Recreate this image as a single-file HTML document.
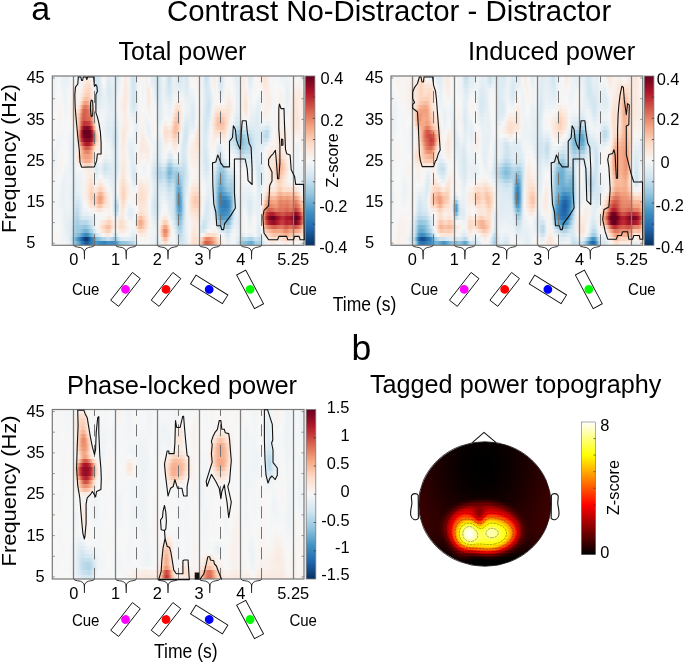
<!DOCTYPE html><html><head><meta charset="utf-8"><style>html,body{margin:0;padding:0;background:#fff;}#root{position:relative;width:685px;height:663px;overflow:hidden;background:#fff;font-family:"Liberation Sans",sans-serif;}svg text{font-family:"Liberation Sans",sans-serif;}</style></head><body><div id="root"><div style="position:absolute;left:52.3px;top:76.0px;width:251.70px;height:169.30px;overflow:hidden"><div style="height:4.129px;background:linear-gradient(90deg,#eaf1f5,#ebf1f5,#f0f4f6,#f4f6f7,#f0f4f6,#eaf1f5,#e9f0f4,#e8f0f4,#ebf1f5,#f4f5f6,#f7f5f3,#f5f6f7,#e8f0f4,#e1ecf3,#e6eff4,#f6f6f7,#f8f1ec,#f9ede5,#f9efe9,#f2f5f6,#dfecf3,#d3e6f0,#d5e7f1,#e5eef4,#f7f5f3,#f8f5f3,#e6eff4,#dfebf3,#e6eff4,#e5eff4,#dae9f2,#deebf2,#ebf1f5,#f5f6f7,#f9efe9,#f9ece4,#f8f4f2,#e4eef3,#d0e5f0,#d1e5f0,#e5eef4,#f8f4f2,#f8f2ee,#f1f4f6,#f3f5f6,#f9efea,#f6f7f7,#e4eef3,#e2edf3,#d9e9f1,#d2e6f0,#d8e9f1,#e8f0f4,#f0f4f6,#e3eef3,#cae2ee,#cee3ef,#e5eff4,#e9f0f4,#dfecf3,#d7e8f1,#dae9f2,#e3eef3,#dbeaf2,#d9e9f2,#f0f4f6,#f8f3f0,#f8f3f1,#f8f1ec,#f8f2ee,#f5f6f7,#edf2f5,#dbeaf2,#cbe2ee,#ddeaf2,#f0f4f6,#f8f1ec,#f9ebe3,#f5f6f7,#d9e9f1,#d2e5f0,#e3eef3,#f4f5f6,#f7f7f7,#f5f6f7,#f2f4f6,#edf2f5,#e1edf3,#e3eef3,#f4f6f7,#f9ece4,#f9ece4,#f1f4f6,#dfebf3,#deebf2,#ecf2f5,#f7f7f7,#f8f4f2,#f8f2ef,#f9eee7,#fbe5d8,#fbe3d5,#f9ece4,#f7f6f6,#f4f5f6,#f7f6f4,#f7f6f6,#f3f5f6,#f0f4f6,#edf2f5,#edf2f5,#ecf2f5,#eff3f6,#f7f5f4,#f7f5f3,#f4f5f6,#f8f4f1,#f8f3f0,#ebf2f5,#dae9f2)"></div><div style="height:4.129px;background:linear-gradient(90deg,#eaf1f5,#ebf1f5,#f1f4f6,#f5f6f7,#f1f4f6,#ebf1f5,#eaf1f5,#e9f1f4,#edf2f5,#f5f6f7,#f8f3f0,#f7f5f3,#f1f4f6,#ebf2f5,#f2f4f6,#f9efea,#fae8dd,#fbe4d6,#fbe6db,#f8f4f2,#e4eef4,#d5e7f1,#d4e7f1,#e3edf3,#f6f7f7,#f7f7f7,#e4eef4,#ddebf2,#e4eef4,#e5eef4,#dceaf2,#e1ecf3,#ecf2f5,#f6f6f7,#f9efe9,#f9ebe3,#f8f3f0,#e5eff4,#d2e6f0,#d2e6f0,#e5eff4,#f8f4f2,#f8f3f0,#f1f4f6,#f4f5f6,#f9efea,#f5f6f7,#e3edf3,#e2edf3,#d8e8f1,#d1e5f0,#d8e8f1,#e8f0f4,#eef3f5,#e1edf3,#cce2ef,#d0e4f0,#e5eef4,#e9f0f4,#e0ecf3,#d9e9f1,#dceaf2,#e4eef3,#dceaf2,#dae9f2,#eef3f5,#f8f4f3,#f7f5f4,#f8f2ee,#f8f2ee,#f5f6f7,#edf2f5,#dceaf2,#cfe4ef,#dceaf2,#eef3f5,#f8f2ee,#f9ece4,#f6f6f7,#dae9f2,#d4e6f0,#e4eef4,#f5f6f7,#f7f6f6,#f5f6f7,#f3f5f6,#eff3f5,#e3edf3,#e4eef3,#f3f5f6,#f9eee7,#f9ece5,#f4f5f6,#e2edf3,#e1edf3,#eef3f5,#f7f6f6,#f8f4f2,#f8f3ef,#f9efe9,#fae7db,#fbe5d7,#f9ebe3,#f7f5f4,#f4f6f6,#f7f6f6,#f7f6f6,#f4f6f6,#f2f5f6,#eff3f6,#eef3f5,#ebf1f5,#eef3f5,#f7f5f3,#f8f3f0,#f7f7f7,#f8f2ee,#f8f1ec,#f0f4f6,#e1edf3)"></div><div style="height:4.129px;background:linear-gradient(90deg,#ebf1f5,#ecf2f5,#f2f5f6,#f6f6f7,#f2f5f6,#edf2f5,#ebf1f5,#ecf2f5,#eff3f6,#f7f6f6,#f9f0eb,#f8f1ed,#f7f5f4,#f4f6f6,#f7f5f3,#fae9df,#fce1d1,#fddcc9,#fcdfce,#f9eee8,#eaf1f5,#d8e8f1,#d4e6f1,#dfecf3,#f1f4f6,#f3f5f6,#e2edf3,#dae9f2,#e1edf3,#e4eef3,#deebf2,#e4eef4,#eef3f5,#f7f7f7,#f9eee8,#faeae1,#f8f1ed,#e7eff4,#d4e6f1,#d4e6f0,#e6eff4,#f7f5f3,#f7f5f3,#f0f4f6,#f5f6f7,#f9ede7,#f8f2ee,#edf2f5,#e6eff4,#d9e9f1,#cfe4ef,#d7e8f1,#e8f0f4,#ecf2f5,#e0ecf3,#cfe4f0,#d3e6f0,#e5eef4,#e9f0f4,#e2edf3,#ddebf2,#e0ecf3,#e5eef4,#deebf2,#dceaf2,#ecf2f5,#f6f7f7,#f5f6f7,#f8f4f2,#f8f2ee,#f6f6f7,#edf2f5,#dfebf3,#d3e6f0,#dceaf2,#ebf1f5,#f8f4f2,#f9eee7,#f6f7f7,#ddebf2,#d7e8f1,#e7eff4,#f6f7f7,#f8f5f3,#f7f7f7,#f5f6f7,#f1f4f6,#e5eff4,#e4eef4,#f1f4f6,#f9f0eb,#f9ece4,#f7f6f5,#e7eff4,#e6eff4,#f1f4f6,#f7f6f5,#f8f4f2,#f8f4f2,#f8f1ed,#faeae0,#fae7db,#faebe3,#f8f3ef,#f5f6f7,#f7f7f7,#f7f7f6,#f6f7f7,#f6f7f7,#f3f5f6,#eff3f6,#eaf1f5,#ecf2f5,#f7f5f4,#f8f1ec,#f8f3f1,#f9efe9,#f9eee8,#f7f6f6,#eef3f5)"></div><div style="height:4.129px;background:linear-gradient(90deg,#ebf1f5,#edf2f5,#f3f5f6,#f6f7f7,#f4f6f6,#f0f4f6,#edf2f5,#eef3f5,#f2f5f6,#f8f4f3,#f9eee7,#f9efe9,#f8f1ec,#f7f5f3,#f8f0ec,#fbe4d6,#fddcc8,#fcd4be,#fddbc7,#faeae0,#eff3f6,#dbeaf2,#d4e7f1,#ddeaf2,#ebf1f5,#eef3f5,#e0ecf3,#d9e9f1,#dfecf3,#e3edf3,#e1edf3,#e9f0f4,#f1f4f6,#f7f5f4,#f9ede6,#fae9de,#f8f0eb,#e8f0f4,#d5e7f1,#d4e6f1,#e5eff4,#f7f6f6,#f7f6f6,#eff3f6,#f5f6f7,#f9ece4,#f9ebe3,#f6f7f7,#ebf1f5,#dceaf2,#cfe4f0,#d6e8f1,#e8f0f4,#ebf1f5,#e0ecf3,#d4e6f1,#d6e7f1,#e5eef4,#eaf1f5,#e7eff4,#e5eef4,#e6eff4,#e7f0f4,#e0ecf3,#deebf2,#eaf1f5,#f2f4f6,#f0f4f6,#f7f6f5,#f8f2ee,#f7f7f7,#eef3f5,#e1edf3,#d6e7f1,#dae9f2,#e5eff4,#f6f7f7,#f8f0eb,#f6f7f7,#e1ecf3,#dbeaf2,#e9f1f4,#f7f6f5,#f8f2ef,#f8f4f2,#f7f7f7,#f4f5f6,#e8f0f4,#e5eff4,#eff3f6,#f8f2ee,#faebe2,#f8f1ee,#ecf2f5,#ebf1f5,#f4f6f6,#f7f5f4,#f7f6f5,#f7f7f7,#f8f4f3,#f9ede6,#faeae1,#faebe3,#f9f0eb,#f7f7f7,#f5f6f7,#f7f7f6,#f7f6f5,#f8f4f3,#f7f7f7,#f0f4f6,#e9f0f4,#eaf1f5,#f7f5f4,#f9ede7,#f9efe9,#f9ede5,#f9ece5,#f8f1ed,#f8f3f1)"></div><div style="height:4.129px;background:linear-gradient(90deg,#ebf1f5,#eef3f5,#f4f5f6,#f7f7f7,#f6f7f7,#f2f5f6,#eef3f5,#f0f4f6,#f5f6f7,#f8f3f0,#f9ece4,#f9eee8,#f9f0ea,#f8f2ef,#f9ebe3,#fdddca,#fbd1bb,#fbccb4,#fcd7c2,#fae8de,#f2f5f6,#ddebf2,#d6e8f1,#dceaf2,#e7f0f4,#eaf1f5,#e0ecf3,#dae9f2,#deebf2,#e2edf3,#e3eef3,#edf2f5,#f6f6f7,#f8f3f0,#f9ece4,#fae8dc,#f8f0ec,#e7eff4,#d5e7f1,#d3e6f0,#e3eef3,#f6f6f7,#f7f7f7,#f0f4f6,#f6f7f7,#faebe3,#fae9df,#f7f5f3,#eef3f5,#e1ecf3,#d3e6f0,#d7e8f1,#e9f0f4,#ebf2f5,#e2edf3,#dae9f2,#dbeaf2,#e6eff4,#edf2f5,#f0f3f6,#f0f4f6,#eff3f6,#ebf1f5,#e4eef3,#e2edf3,#e9f0f4,#ecf2f5,#ecf2f5,#f6f7f7,#f8f2ef,#f7f7f7,#eef3f5,#e3edf3,#d7e8f1,#d6e7f1,#e0ecf3,#f1f4f6,#f8f3f0,#f6f7f7,#e6eff4,#e2edf3,#edf2f5,#f8f5f3,#f9f0eb,#f8f1ed,#f7f5f3,#f5f6f7,#e9f1f4,#e6eff4,#eef3f5,#f8f2ef,#fae8de,#f9ece5,#f1f4f6,#eef3f5,#f6f7f7,#f7f6f5,#f5f6f7,#f2f4f6,#f6f6f7,#f8f0ec,#f9ede5,#f9ece4,#f9eee7,#f7f6f5,#f4f6f7,#f7f7f7,#f8f4f3,#f8f2ee,#f7f5f4,#f0f4f6,#e8f0f4,#eaf1f5,#f8f4f2,#faeae1,#faebe2,#faebe2,#f9ece4,#f9ede5,#faeae1)"></div><div style="height:4.129px;background:linear-gradient(90deg,#ebf1f5,#eff3f5,#f4f6f7,#f7f6f6,#f7f6f5,#f4f6f6,#eff3f5,#f1f4f6,#f7f7f6,#f8f2ee,#faebe2,#f9efe9,#f8f0ec,#f9f0eb,#fbe3d5,#fac9b0,#f8bea2,#f9c0a5,#fcd2bc,#fae8dc,#f3f5f6,#dfecf3,#dae9f2,#dfebf3,#e6eff4,#e9f0f4,#e3edf3,#dceaf2,#deebf2,#e2edf3,#e5eff4,#f0f4f6,#f8f5f3,#f8f0ec,#faeae1,#fae7dc,#f8f2ef,#e5eef4,#d5e7f1,#d3e6f0,#e1edf3,#f4f5f6,#f7f7f7,#f1f4f6,#f6f6f7,#f9ece4,#fae9e0,#f7f5f3,#f1f4f6,#e7eff4,#d8e8f1,#d9e9f1,#e9f0f4,#edf2f5,#e7f0f4,#e1ecf3,#e0ecf3,#e9f0f4,#f4f5f6,#f8f4f2,#f8f3f0,#f7f6f6,#eff3f5,#e7f0f4,#e6eff4,#e8f0f4,#e7f0f4,#e7f0f4,#f4f6f6,#f8f3f0,#f7f7f7,#eef3f5,#e3edf3,#d6e8f1,#d2e6f0,#dbeaf2,#eef3f5,#f7f5f3,#f7f6f6,#edf2f5,#eaf1f5,#f2f4f6,#f8f3f0,#f9ede6,#f9ede7,#f8f3f0,#f6f6f7,#eaf1f5,#e7eff4,#eff3f6,#f8f2ee,#fbe6da,#fae8dd,#f6f6f7,#eff3f5,#f6f7f7,#f7f7f7,#eff3f6,#ebf2f5,#f2f4f6,#f8f2ef,#f9efe9,#f9ede6,#f9ede5,#f7f5f3,#f3f5f6,#f7f7f7,#f8f3f0,#f8f0eb,#f8f4f2,#eff3f6,#e8f0f4,#ecf2f5,#f8f2ef,#fae8dc,#fae7dc,#faeae0,#f9ede6,#faebe2,#fbe4d6)"></div><div style="height:4.129px;background:linear-gradient(90deg,#edf2f5,#f0f4f6,#f5f6f7,#f7f6f5,#f8f4f3,#f6f6f7,#eff3f6,#f1f4f6,#f7f6f5,#f8f1ed,#faeae1,#f9efea,#f9f0eb,#faeae1,#fbd1ba,#f4a885,#f19e7d,#f5a988,#f9c3a8,#fbe3d4,#f7f7f7,#e3edf3,#dfebf3,#e3eef3,#e7f0f4,#eaf1f5,#e6eff4,#e0ecf3,#e0ecf3,#e2edf3,#e6eff4,#f1f4f6,#f8f3f0,#f9efe9,#faeae0,#fae8dd,#f8f4f3,#e3eef3,#d6e7f1,#d4e6f1,#e0ecf3,#f3f5f6,#f7f7f7,#f3f5f6,#f5f6f7,#f9eee7,#faeae1,#f7f5f4,#f2f5f6,#ecf2f5,#ddebf2,#dbeaf2,#e9f0f4,#eff3f6,#edf2f5,#e7f0f4,#e5eff4,#edf2f5,#f8f3f0,#faeae1,#faeae1,#f8f1ec,#f2f5f6,#ebf1f5,#eaf1f5,#e9f0f4,#e3eef3,#e3eef3,#f2f5f6,#f8f3f1,#f7f6f6,#eef3f5,#e2edf3,#d5e7f1,#cde3ef,#d9e9f2,#eef3f5,#f8f4f2,#f8f3f0,#f6f7f7,#f5f6f7,#f7f6f5,#f8f0ec,#faeae1,#faeae1,#f8f1ed,#f6f6f7,#e9f0f4,#e7f0f4,#f1f4f6,#f8f1ec,#fbe4d7,#fbe5d7,#f7f6f5,#eef3f5,#f5f6f7,#f4f5f6,#eaf1f5,#e7eff4,#f0f4f6,#f8f2ee,#f9efe9,#f9eee8,#f9ede6,#f7f5f3,#f2f5f6,#f7f7f7,#f8f2ee,#f9f0ea,#f7f5f3,#eef3f5,#e8f0f4,#eef3f5,#f8f1ec,#fbe6da,#fbe5d9,#fae9df,#f9efe9,#faebe2,#fce1d1)"></div><div style="height:4.129px;background:linear-gradient(90deg,#eff3f6,#f2f4f6,#f6f6f7,#f7f5f3,#f8f3f0,#f7f7f6,#f0f4f6,#f1f4f6,#f7f6f4,#f8f1ec,#fae9de,#f9ede6,#f9ebe3,#fce0cf,#f6b090,#e27b62,#e0775e,#e7886b,#f5aa88,#fcd5c0,#f9f0eb,#e9f0f4,#e4eef3,#e8f0f4,#eaf1f5,#edf2f5,#e9f1f5,#e3eef3,#e2edf3,#e3eef3,#e6eff4,#f0f4f6,#f8f3f0,#f9efe9,#faeae1,#fae9df,#f7f6f6,#e3eef3,#d9e9f2,#d7e8f1,#e1edf3,#f2f5f6,#f7f6f5,#f5f6f7,#f4f6f7,#f8f0ec,#f9ece4,#f7f5f4,#f3f5f6,#f0f4f6,#e2edf3,#ddebf2,#e9f0f4,#f0f4f6,#f0f4f6,#ecf2f5,#e9f1f4,#f3f5f6,#faebe3,#fce1d2,#fbe3d5,#f9ede6,#f4f6f7,#ecf2f5,#ecf2f5,#e8f0f4,#e0ecf3,#e0ecf3,#f1f4f6,#f8f4f1,#f7f6f5,#eef3f5,#e0ecf3,#d3e6f0,#cbe2ee,#dbeaf2,#f2f4f6,#f9f0ea,#f9ece4,#f9eee7,#f9eee7,#f9efe9,#f9ece5,#fae7dc,#fae8de,#f8f0eb,#f5f6f7,#e8f0f4,#e7eff4,#f2f5f6,#f8f1ec,#fbe5d8,#fbe4d6,#f8f5f3,#ecf2f5,#f1f4f6,#eff3f6,#e5eef4,#e5eef4,#f0f4f6,#f8f0ec,#f9eee8,#f9f0eb,#f9efea,#f7f6f5,#f1f4f6,#f6f7f7,#f8f1ec,#f9f0eb,#f7f6f5,#edf2f5,#e9f0f4,#f1f4f6,#f9efea,#fbe6da,#fbe5d8,#fae9de,#f9efea,#f9ece4,#fce1d2)"></div><div style="height:4.129px;background:linear-gradient(90deg,#f2f4f6,#f4f5f6,#f7f7f7,#f8f4f3,#f8f2ef,#f7f6f5,#f1f4f6,#f2f5f6,#f7f6f5,#f8f0ec,#fae7db,#fae8dd,#fbe3d6,#fbceb6,#eb9172,#d6604d,#d7624f,#de725b,#e98c6f,#f8bc9f,#fbe6da,#f0f4f6,#e9f0f4,#ecf2f5,#eef3f5,#eff3f5,#ebf1f5,#e5eef4,#e4eef4,#e3eef3,#e4eef4,#eef3f5,#f8f5f3,#f8f0ec,#f9ece4,#faebe2,#f7f7f6,#e7eff4,#dfecf3,#dceaf2,#e2edf3,#f2f5f6,#f8f5f3,#f7f7f7,#f4f5f6,#f8f4f2,#f9efe9,#f7f5f3,#f5f6f7,#f1f4f6,#e4eef4,#deebf2,#e7f0f4,#f0f4f6,#f2f4f6,#edf2f5,#ecf2f5,#f7f5f4,#fbe4d6,#fcd8c3,#fcdecc,#f9ebe3,#f4f6f7,#ebf2f5,#ebf1f5,#e8f0f4,#deebf2,#ddebf2,#f0f4f6,#f8f3f1,#f7f5f4,#edf2f5,#deebf2,#d2e6f0,#cde3ef,#dfecf3,#f7f6f5,#fae8de,#fbe3d4,#fbe2d4,#fce2d3,#fbe5d9,#fae7db,#fbe5d8,#fae8de,#f8f0ec,#f4f6f6,#e6eff4,#e5eff4,#f2f5f6,#f8f2ef,#fae8dd,#fbe6d9,#f7f5f3,#eaf1f5,#edf2f5,#eaf1f5,#e1edf3,#e5eef4,#f2f5f6,#f9efe9,#f9ede6,#f8f1ee,#f8f2ee,#f7f7f7,#f1f4f6,#f7f7f7,#f8f0eb,#f8f0ec,#f7f6f5,#eef3f5,#ebf2f5,#f4f6f6,#f9eee7,#fbe6da,#fbe5d8,#fae7dc,#f9efe9,#f9ede7,#fbe4d6)"></div><div style="height:4.129px;background:linear-gradient(90deg,#f4f6f6,#f6f6f7,#f7f7f6,#f8f4f3,#f8f2ef,#f7f6f5,#f3f5f6,#f3f5f6,#f7f6f6,#f8f1ed,#fae7db,#fbe4d6,#fddcc9,#f8bca0,#e37e64,#d35b4a,#d86450,#dc6e58,#e27b62,#f5a886,#fdddcb,#f7f7f7,#ecf2f5,#eff3f6,#f0f4f6,#eff3f6,#eaf1f5,#e4eef4,#e5eff4,#e2edf3,#e1edf3,#eaf1f5,#f7f7f7,#f8f2ef,#f9ede6,#f9ece4,#f7f5f4,#ecf2f5,#e6eff4,#e2edf3,#e4eef3,#f2f4f6,#f8f4f1,#f7f5f4,#f3f5f6,#f5f6f7,#f8f3f0,#f7f5f3,#f7f7f7,#f2f5f6,#e5eff4,#dfebf3,#e7eff4,#f1f4f6,#f3f5f6,#edf2f5,#eff3f5,#f8f0eb,#fddcc9,#fbccb4,#fddbc7,#f9ebe3,#f2f5f6,#e8f0f4,#e6eff4,#e6eff4,#ddeaf2,#dbeaf2,#f0f4f6,#f8f2ee,#f7f5f3,#ecf2f5,#dceaf2,#d2e5f0,#d2e6f0,#e5eef4,#f8f0ec,#fce0d0,#fcd7c2,#fcd4be,#fbd1ba,#fddbc7,#fce0d0,#fbe3d5,#faeae1,#f8f3ef,#f1f4f6,#e2edf3,#e2edf3,#eff3f5,#f7f6f5,#f9eee8,#faebe2,#f7f7f7,#e8f0f4,#e9f1f5,#e6eff4,#dfecf3,#e6eff4,#f3f5f6,#f9efe8,#f9eee7,#f8f4f2,#f7f5f3,#f5f6f7,#f1f4f6,#f7f6f5,#f9f0ea,#f8f1ec,#f7f5f4,#f1f4f6,#eff3f6,#f7f7f7,#f9ece4,#fbe6d9,#fbe5d7,#fbe5d9,#f9eee7,#f9efe9,#fae7dc)"></div><div style="height:4.129px;background:linear-gradient(90deg,#f6f6f7,#f7f7f6,#f7f6f6,#f7f5f4,#f8f3f1,#f7f6f5,#f4f6f6,#f4f6f6,#f7f7f7,#f8f3f0,#faeae1,#fbe4d6,#fdd9c4,#f6b495,#df745c,#d15648,#d7624f,#d96853,#dc6e58,#ef9a7a,#fcd6c0,#f8f4f1,#edf2f5,#f0f4f6,#f0f4f6,#eef3f5,#e7eff4,#e2edf3,#e5eef4,#e0ecf3,#dceaf2,#e6eff4,#f4f6f7,#f8f3f0,#f9eee7,#f9ece4,#f8f2ef,#f3f5f6,#edf2f5,#e6eff4,#e4eef4,#f0f4f6,#f8f3f0,#f8f4f1,#f2f5f6,#eff3f6,#f6f7f7,#f7f5f4,#f7f5f3,#f4f5f6,#e6eff4,#e0ecf3,#e9f0f4,#f6f6f7,#f7f7f7,#f0f4f6,#f4f6f6,#fae9e0,#fbd0b9,#f9c4a9,#fcd7c2,#f9ece4,#eff3f6,#e3edf3,#e1ecf3,#e4eef4,#deebf2,#dceaf2,#f2f5f6,#f9efea,#f8f4f2,#ebf1f5,#dae9f2,#d3e6f0,#d7e8f1,#eaf1f5,#f9ece5,#fddbc7,#fac9b0,#f9c4aa,#f9c1a6,#facbb3,#fddac6,#fbe3d5,#f9eee7,#f7f7f6,#ebf1f5,#ddebf2,#dceaf2,#e8f0f4,#f0f4f6,#f7f6f6,#f8f3f0,#f2f4f6,#e5eff4,#e6eff4,#e3edf3,#deebf2,#e6eff4,#f2f5f6,#f8f3ef,#f8f3f1,#f3f5f6,#f4f6f7,#f4f5f6,#f2f5f6,#f8f4f2,#f9efe9,#f8f1ec,#f8f2ef,#f7f7f6,#f4f6f6,#f7f6f5,#faebe2,#fbe5d8,#fbe4d7,#fbe4d7,#f9ece5,#f9f0ea,#faebe2)"></div><div style="height:4.129px;background:linear-gradient(90deg,#f7f7f7,#f7f6f5,#f7f6f6,#f7f6f6,#f7f5f3,#f7f7f7,#f5f6f7,#f5f6f7,#f6f7f7,#f7f5f4,#f8f1ec,#fae9e0,#fddcc9,#f6af8e,#d6604d,#c03338,#c03538,#c33a3b,#cb4942,#e58267,#facbb2,#f8f1ec,#eef3f5,#f0f4f6,#eff3f6,#ebf1f5,#e3eef3,#dfecf3,#e4eef3,#dceaf2,#d7e8f1,#e2edf3,#f3f5f6,#f8f2ee,#f9ece5,#f9ece3,#f8f0ec,#f7f6f6,#f2f5f6,#e9f1f5,#e4eef4,#f0f4f6,#f8f3ef,#f8f2ee,#f2f5f6,#ebf1f5,#eff3f6,#f7f6f6,#f8f3f0,#f6f6f7,#e8f0f4,#e3eef3,#f0f4f6,#f9f0eb,#f9eee8,#f8f5f3,#f8f1ed,#fce0d0,#f9c4a9,#f8bea2,#fcd3bd,#f9ede5,#ebf1f5,#ddebf2,#dbeaf2,#e4eef4,#e1ecf3,#dfecf3,#f6f7f7,#f9ece5,#f8f3f1,#e9f0f4,#d8e8f1,#d4e7f1,#ddebf2,#f0f4f6,#faeae1,#fdd8c4,#fac6ac,#f9c0a5,#f8bda1,#f9c4aa,#fcd6c0,#fbe5d8,#f8f2ef,#f0f4f6,#e3eef3,#d6e8f1,#d4e6f0,#ddebf2,#e4eef4,#ebf1f5,#f0f3f6,#e9f0f4,#e1edf3,#e2edf3,#e0ecf3,#deebf2,#e5eef4,#ecf2f5,#f0f4f6,#ecf2f5,#e6eff4,#edf2f5,#f2f5f6,#f3f5f6,#f8f3f0,#f9eee8,#f9f0eb,#f9efe9,#f8f1ed,#f7f5f4,#f7f6f5,#faebe2,#fbe5d7,#fbe5d7,#fbe4d7,#f9ece4,#f8f1ec,#f9eee8)"></div><div style="height:4.129px;background:linear-gradient(90deg,#f7f7f7,#f7f6f5,#f7f7f7,#f6f7f7,#f7f7f7,#f6f6f7,#f5f6f7,#f6f6f7,#f4f6f7,#f5f6f7,#f4f6f6,#f8f1ec,#fcdecd,#f2a17f,#c2373a,#8d0c25,#7f0823,#830923,#9e1228,#cd4f45,#f6af8f,#fae8dd,#f3f5f6,#f1f4f6,#eef3f5,#e9f0f4,#e0ecf3,#ddebf2,#e2edf3,#d9e9f1,#d2e5f0,#deebf2,#f2f5f6,#f9efea,#fae9e0,#faebe3,#f8f0eb,#f7f5f3,#f5f6f7,#ebf2f5,#e5eef4,#f0f4f6,#f8f2ee,#f8f0eb,#f4f6f6,#e9f1f5,#eaf1f5,#f5f6f7,#f8f3ef,#f7f7f6,#ebf1f5,#e8f0f4,#f7f6f6,#fbe6da,#fbe3d4,#faeae1,#fae8dd,#fcd5bf,#f8bb9e,#f8bca0,#fcd4bd,#f9eee8,#e6eff4,#d7e8f1,#d8e8f1,#e6eff4,#e6eff4,#e5eff4,#f8f3f1,#fae9de,#f8f2ef,#e8f0f4,#d8e8f1,#d6e7f1,#e2edf3,#f4f6f6,#faebe2,#fddcc9,#fbceb7,#facab1,#fac7ad,#facab1,#fdd9c5,#fae9df,#f5f6f7,#e7eff4,#d9e9f2,#cae1ee,#bfdceb,#c9e1ee,#d3e6f0,#dbeaf2,#e0ecf3,#deebf2,#dbeaf2,#deebf2,#dfebf3,#ddebf2,#e1edf3,#e3edf3,#dfecf3,#d7e8f1,#d5e7f1,#e5eef4,#f2f4f6,#f5f6f7,#f8f2ee,#f9ede7,#f9eee8,#f9ece4,#f9ece4,#f8f2ef,#f7f7f6,#f9ece5,#fbe6d9,#fae7db,#fae7dc,#f9ede5,#f8f1ed,#f8f2ee)"></div><div style="height:4.129px;background:linear-gradient(90deg,#f7f7f6,#f7f6f5,#f6f7f7,#f4f5f6,#f5f6f7,#f4f6f6,#f5f6f7,#f6f6f7,#f2f5f6,#f0f4f6,#ebf1f5,#f7f5f3,#fdddca,#e98c6e,#b3192c,#69011f,#67001f,#67001f,#6e0220,#b31a2c,#e58267,#fcd8c3,#f8f1ed,#f6f6f7,#f0f4f6,#e9f0f4,#e1ecf3,#deebf2,#e1ecf3,#d5e7f1,#cbe2ee,#dbeaf2,#f2f5f6,#f9ece4,#fbe7db,#f9ece4,#f8f3f0,#f7f7f6,#f5f6f7,#ecf2f5,#e6eff4,#f1f4f6,#f9f0eb,#f9eee8,#f7f6f6,#ecf2f5,#e9f0f4,#f1f4f6,#f8f4f3,#f7f7f7,#ebf1f5,#e9f0f4,#f8f4f2,#fce1d2,#fddcc9,#fbe4d6,#fbe3d4,#fbcfb8,#f8bc9f,#f9c3a8,#fddac6,#f8f2ee,#e1edf3,#d3e6f0,#d7e8f1,#e9f1f5,#eef3f5,#eef3f5,#f9eee8,#fbe5d8,#f8f1ec,#e8f0f4,#d9e9f1,#d9e9f1,#e7eff4,#f7f6f6,#f9ece4,#fce2d3,#fdddcb,#fdddcb,#fddbc8,#fdd9c4,#fce0cf,#f9efe9,#ebf1f5,#dceaf2,#cce3ef,#b7d8e9,#a4cee3,#a6cfe4,#b4d6e8,#c5dfec,#cfe4f0,#d0e5f0,#d2e6f0,#d9e9f2,#ddebf2,#ddebf2,#ddebf2,#dae9f2,#cfe4f0,#bedbeb,#c2ddec,#e0ecf3,#f2f5f6,#f6f7f7,#f8f0ec,#f9ece4,#f9ede5,#faeae1,#fae9de,#f8f0ec,#f6f6f7,#f9efe9,#fae8de,#f9ebe3,#f9ece5,#f9eee8,#f8f2ee,#f8f4f2)"></div><div style="height:4.129px;background:linear-gradient(90deg,#f7f6f6,#f7f6f5,#f5f6f7,#f1f4f6,#f3f5f6,#f3f5f6,#f4f6f7,#f5f6f7,#f0f4f6,#edf2f5,#e5eef4,#f7f7f6,#fddac6,#e58267,#b31a2c,#780522,#6c0220,#69011f,#6e0220,#9f1228,#d86551,#f9c2a7,#fae9df,#f8f3f0,#f3f5f6,#ebf2f5,#e4eef3,#e1ecf3,#e1ecf3,#d3e6f0,#c7e0ed,#d9e9f2,#f2f5f6,#faeae1,#fbe5d8,#f9eee7,#f7f7f7,#f2f5f6,#f3f5f6,#ecf2f5,#e8f0f4,#f4f6f6,#f9eee7,#f9ebe3,#f8f2ee,#f3f5f6,#ebf1f5,#eff3f6,#f6f7f7,#f3f5f6,#e8f0f4,#e5eef4,#f6f7f7,#fbe5d7,#fcdecc,#fbe5d9,#fbe6da,#fcd8c3,#fac8ae,#fbd1ba,#fce2d2,#f7f7f7,#ddebf2,#d2e5f0,#dae9f2,#eff3f5,#f7f7f7,#f7f6f6,#fae9e0,#fbe3d4,#f9efea,#e9f0f4,#d9e9f2,#dbeaf2,#eaf1f5,#f8f4f2,#f9ede7,#fae8dd,#fae8dd,#faebe3,#fae9df,#fbe4d6,#fae7db,#f7f6f5,#e2edf3,#d2e6f0,#bfdceb,#a9d1e5,#90c4dd,#88bfdb,#97c7df,#acd2e5,#b8d8e9,#bcdaea,#c4deec,#d4e6f1,#dbeaf2,#ddebf2,#dceaf2,#d5e7f1,#c7e0ed,#b9d9e9,#c2ddec,#e2edf3,#f5f6f7,#f7f6f6,#f9efea,#faeae1,#faebe3,#faeae1,#fae8dd,#f8f0eb,#f4f6f6,#f8f1ec,#f9ece4,#f8f1ed,#f8f3ef,#f8f0eb,#f8f1ed,#f7f6f4)"></div><div style="height:4.129px;background:linear-gradient(90deg,#f7f7f6,#f7f7f7,#f3f5f6,#f0f4f6,#f2f4f6,#f3f5f6,#f5f6f7,#f5f6f7,#eff3f6,#eaf1f5,#e0ecf3,#f4f6f6,#fcddcb,#eb9072,#c13539,#970f27,#870a24,#830924,#880a24,#b2192b,#dd7059,#f9c3a8,#fbe5d9,#f9efe9,#f7f7f7,#eff3f6,#e9f0f4,#e6eff4,#e2edf3,#d3e6f0,#c7e0ed,#d9e9f2,#f2f5f6,#faebe2,#fbe6da,#f8f0ec,#f0f4f6,#ecf2f5,#eef3f5,#ebf1f5,#ebf1f5,#f7f7f6,#f9ebe3,#fae9df,#f9eee7,#f8f4f1,#f1f4f6,#f0f3f6,#f2f5f6,#eff3f6,#e4eef3,#dfecf3,#eef3f5,#f9ebe3,#fbe5d8,#f9ece4,#f9ede6,#fbe2d3,#fdd9c5,#fcdfce,#faeae1,#eff3f6,#d9e9f2,#d3e6f0,#deebf2,#f4f6f7,#f8f2ee,#f8f0eb,#fbe6da,#fce1d2,#f9eee7,#eaf1f5,#dae9f2,#ddebf2,#edf2f5,#f8f3f0,#f9efe9,#f9eee7,#f8f3f0,#f4f6f6,#f7f5f4,#f9ede6,#f9ede6,#f2f5f6,#ddebf2,#cfe4ef,#bedbeb,#aad1e5,#8cc1dc,#7ab6d6,#88beda,#a0cce2,#abd2e5,#afd4e6,#bad9e9,#cfe4ef,#d9e9f2,#dfebf2,#ddebf2,#d7e8f1,#d1e5f0,#cde3ef,#d5e7f1,#ebf1f5,#f7f5f3,#f7f5f4,#f9eee8,#fae8dd,#faebe2,#f9ece4,#fae9e0,#f8f1ec,#f4f5f6,#f8f2ee,#f9efe9,#f7f7f6,#f5f6f7,#f8f2ee,#f8f0ec,#f7f6f5)"></div><div style="height:4.129px;background:linear-gradient(90deg,#f5f6f7,#f5f6f7,#f1f4f6,#eff3f6,#f2f5f6,#f4f6f7,#f5f6f7,#f5f6f7,#eff3f5,#e9f0f4,#ddebf2,#eff3f5,#fbe7db,#f7b596,#dc6e58,#c03438,#b2182b,#b0172b,#ba2732,#d25849,#f4a683,#fddbc7,#fae8dc,#f9ede5,#f7f5f3,#f2f5f6,#eef3f5,#ecf2f5,#e6eff4,#d6e7f1,#cbe2ee,#dbeaf2,#f2f5f6,#f9ece4,#fae8de,#f8f3f0,#ecf2f5,#e6eff4,#e9f0f4,#eaf1f5,#eef3f5,#f8f4f1,#faeae0,#fae8de,#faebe2,#f9eee8,#f7f6f5,#f2f5f6,#eff3f6,#ecf2f5,#e1edf3,#dceaf2,#eaf1f5,#f8f0ec,#f9ece3,#f8f2ef,#f8f4f3,#faebe2,#fbe2d4,#fae7db,#f8f2ee,#e9f0f4,#d8e8f1,#d6e7f1,#e4eef3,#f7f6f5,#f9eee8,#f9ece4,#fbe5d8,#fbe2d3,#f9ede7,#eaf1f5,#dae9f2,#deebf2,#eef3f5,#f8f3ef,#f8f0ec,#f8f2ef,#f1f4f6,#e5eef4,#ecf2f5,#f8f4f1,#f8f1ec,#f1f4f6,#dfecf3,#d4e7f1,#cae1ee,#b8d9e9,#9bcae1,#83bcd9,#8bc0db,#a0cce2,#aad1e5,#add3e6,#b9d9e9,#cde3ef,#d9e9f1,#e0ecf3,#e0ecf3,#ddebf2,#deebf2,#e1edf3,#e8f0f4,#f7f6f6,#f8f1ed,#f8f4f3,#f9ede6,#fbe6da,#faeae1,#f9eee7,#f9ebe3,#f8f2ee,#f4f6f7,#f8f2ee,#f8f0ec,#f2f5f6,#eef3f5,#f8f3f0,#f9efea,#f7f6f5)"></div><div style="height:4.129px;background:linear-gradient(90deg,#f1f4f6,#f2f5f6,#f0f4f6,#f0f4f6,#f4f6f7,#f6f7f7,#f6f7f7,#f6f7f7,#eff3f6,#e8f0f4,#dbeaf2,#ecf2f5,#f9eee7,#fcd5bf,#f5a987,#e0765e,#d15749,#d25749,#dd6f59,#f19f7d,#fcd5bf,#faeae0,#f9ebe3,#f9ece4,#f8f4f2,#f3f5f6,#f1f4f6,#f0f4f6,#e9f1f5,#dbeaf2,#d2e5f0,#ddebf2,#f3f5f6,#f9eee7,#faebe2,#f8f4f2,#ebf1f5,#e4eef4,#e5eff4,#e9f0f4,#f1f4f6,#f8f1ed,#faeae0,#fae9e0,#faeae1,#faebe2,#f8f1ed,#f5f6f7,#eef3f5,#eaf1f5,#e0ecf3,#dbeaf2,#eaf1f5,#f8f2ef,#f8f0eb,#f5f6f7,#f2f5f6,#f8f2ef,#fae9df,#f9ede5,#f7f7f6,#e5eef4,#d7e8f1,#d9e9f1,#e8f0f4,#f8f3f1,#f9ede5,#faeae1,#fbe6da,#fbe5d8,#f9eee8,#e9f0f4,#d9e9f1,#ddebf2,#ecf2f5,#f8f4f1,#f8f2ef,#f7f6f5,#e8f0f4,#dae9f2,#e3eef3,#f6f6f7,#f8f2ef,#f4f5f6,#e6eff4,#deebf2,#d8e8f1,#cde3ef,#b0d4e7,#97c7df,#98c8e0,#a9d1e5,#b1d5e7,#b3d6e8,#c0dceb,#d2e6f0,#dae9f2,#e1edf3,#e3edf3,#e4eef4,#e9f0f4,#f1f4f6,#f7f6f5,#f9eee8,#f9eee8,#f8f3f1,#f9ece4,#fbe4d6,#fae9de,#f9eee8,#f9ede6,#f8f3f0,#f6f6f7,#f8f1ed,#f8f1ed,#eff3f6,#eaf1f5,#f8f4f2,#f9efea,#f7f7f6)"></div><div style="height:4.129px;background:linear-gradient(90deg,#ecf2f5,#eef3f5,#eff3f6,#f2f5f6,#f7f7f6,#f7f6f5,#f7f7f7,#f6f7f7,#f0f4f6,#e8f0f4,#dbeaf2,#f0f3f6,#faebe2,#fcd6c1,#f7b799,#ee9878,#e58267,#e68469,#ed9576,#f7b697,#fce0d0,#f9efe9,#f9ede6,#f9ece4,#f7f5f4,#f0f4f6,#f1f4f6,#f2f5f6,#ecf2f5,#dfecf3,#d6e8f1,#dfebf2,#f3f5f6,#f9efe9,#f9ece4,#f8f3f0,#eef3f5,#e5eef4,#e2edf3,#e8f0f4,#f4f6f6,#f9f0ea,#faebe2,#f9ede5,#f9ede5,#faeae1,#f9efea,#f7f7f7,#edf2f5,#e8f0f4,#e0ecf3,#ddebf2,#edf2f5,#f8f3f0,#f7f5f3,#ecf2f5,#e8f0f4,#f3f5f6,#f9f0eb,#f8f2ef,#f3f5f6,#e3eef3,#d6e8f1,#dae9f2,#eaf1f5,#f8f2ef,#f9ece5,#faebe2,#fae8de,#fae8dd,#f8f0eb,#e8f0f4,#d8e8f1,#dae9f2,#e9f0f4,#f7f6f5,#f8f5f3,#f4f6f7,#e2edf3,#d2e6f0,#dceaf2,#f0f3f6,#f8f4f3,#f7f7f7,#eff3f6,#eaf1f5,#e5eef4,#dceaf2,#cae1ee,#aed3e6,#abd2e5,#b9d9e9,#c0dceb,#c0ddeb,#cde3ef,#d9e9f1,#ddebf2,#e1ecf3,#e4eef4,#e9f0f4,#f0f3f6,#f7f5f4,#f9eee8,#fae9df,#f9ece4,#f8f2ee,#fae9df,#fcdfcf,#fbe4d7,#faebe2,#f9ece4,#f8f3f1,#f6f7f7,#f8f1ec,#f8f1ed,#eff3f5,#e9f1f4,#f7f5f4,#f8f1ed,#f5f6f7)"></div><div style="height:4.129px;background:linear-gradient(90deg,#e8f0f4,#ecf2f5,#eff3f6,#f5f6f7,#f8f4f3,#f7f5f3,#f7f7f7,#f6f6f7,#f0f4f6,#e8f0f4,#dceaf2,#f4f6f6,#fbe5d8,#fbceb7,#f7b799,#f4a684,#f19e7d,#f2a17f,#f4a683,#f7b99c,#fce1d1,#f8f1ed,#f9efea,#f9eee8,#f5f6f7,#eaf1f5,#edf2f5,#eff3f6,#ebf1f5,#e3edf3,#d9e9f2,#deebf2,#f2f5f6,#f9eee8,#f9ece3,#f8f1ed,#f2f5f6,#e7eff4,#e1ecf3,#e6eff4,#f5f6f7,#f9f0eb,#f9eee7,#f8f1ed,#f8f1ed,#f9ece5,#f9f0ea,#f6f6f7,#eaf1f5,#e5eff4,#deebf2,#dceaf2,#edf2f5,#f7f5f4,#f1f4f6,#dfecf3,#dae9f2,#e7f0f4,#f5f6f7,#f3f5f6,#eef3f5,#e2edf3,#d4e7f1,#d8e8f1,#eaf1f5,#f8f3ef,#f9ede6,#f9ece4,#faebe2,#faebe3,#f8f2ef,#e7eff4,#d7e8f1,#d7e8f1,#e4eef3,#f5f6f7,#f7f7f7,#f0f3f6,#dceaf2,#c9e1ee,#d3e6f0,#e5eff4,#f2f5f6,#f6f6f7,#f5f6f7,#f4f6f6,#f1f4f6,#ebf1f5,#deebf2,#cce2ee,#c7e0ed,#d2e5f0,#d4e6f0,#d1e5f0,#d7e8f1,#e0ecf3,#e0ecf3,#deebf2,#e2edf3,#eaf1f5,#f1f4f6,#f8f4f2,#f9ece3,#fbe7db,#faeae0,#f9ede6,#fbe3d4,#fcd3bd,#fddac6,#fbe3d4,#fae7dc,#f8f1ed,#f7f7f7,#f8f2ee,#f8f2ef,#f0f3f6,#eaf1f5,#f7f7f7,#f8f4f2,#f0f4f6)"></div><div style="height:4.129px;background:linear-gradient(90deg,#e5eff4,#eaf1f5,#f0f4f6,#f7f6f6,#f8f3f0,#f8f5f3,#f6f7f7,#f4f6f6,#eff3f6,#e9f0f4,#dbeaf2,#f3f5f6,#fae8dd,#fddcc8,#fac8af,#f7b596,#f5ac8b,#f5ae8d,#f6b293,#fac9b0,#faebe2,#f1f4f6,#f7f7f7,#f7f5f3,#eaf1f5,#dfecf3,#e3eef3,#e7f0f4,#e6eff4,#e2edf3,#dae9f2,#dbeaf2,#f0f4f6,#f9ede6,#faeae1,#f9f0eb,#f5f6f7,#e9f0f4,#dfecf3,#e4eef3,#f3f5f6,#f8f2ee,#f8f1ed,#f7f6f6,#f7f7f6,#f8f0ec,#f8f2ef,#f1f4f6,#e5eef4,#dfecf3,#d8e8f1,#d6e7f1,#e6eff4,#eff3f6,#e2edf3,#cbe2ee,#c3deec,#d8e8f1,#e5eff4,#e5eef4,#e5eff4,#deebf2,#d0e5f0,#d5e7f1,#e7eff4,#f8f4f2,#f9efe9,#f9eee7,#f9ede6,#f9eee7,#f8f4f2,#e7eff4,#d8e8f1,#d5e7f1,#dfecf3,#f2f5f6,#f4f6f6,#eaf1f5,#d7e8f1,#bedbeb,#c2ddec,#d7e8f1,#e4eef3,#eef3f5,#f4f6f7,#f7f7f7,#f7f6f6,#f6f6f7,#ecf2f5,#dfecf3,#deebf2,#e3eef3,#e2edf3,#dbeaf2,#deebf2,#e7eff4,#e2edf3,#dae9f2,#deebf2,#e8f0f4,#eff3f5,#f7f5f3,#faebe3,#fbe5d9,#fae7db,#fbe6da,#fdd9c4,#f8bfa3,#f9c3a9,#fcd4bf,#fce0cf,#f9ede6,#f7f5f4,#f8f3f1,#f8f4f2,#f0f4f6,#ebf2f5,#f4f5f6,#f5f6f7,#ebf2f5)"></div><div style="height:4.129px;background:linear-gradient(90deg,#e6eff4,#ebf1f5,#f1f4f6,#f7f5f4,#f8f2ef,#f7f5f4,#f4f6f6,#f2f5f6,#eff3f5,#e9f0f4,#dae9f2,#eef3f5,#f8f1ed,#f9ede6,#fae7db,#fdddca,#fcd4bf,#fcd6c0,#fdd8c4,#fbe4d7,#f1f4f6,#e0ecf3,#e9f1f5,#eef3f5,#ddebf2,#d2e5f0,#d7e8f1,#ddebf2,#e0ecf3,#e0ecf3,#d9e9f1,#d9e9f2,#eff3f6,#f9ebe3,#fae8de,#f9f0ea,#f6f6f7,#eaf1f5,#deebf2,#e0ecf3,#eef3f5,#f8f4f3,#f8f4f2,#f2f5f6,#f1f4f6,#f7f5f3,#f7f6f5,#ebf1f5,#ddebf2,#d7e8f1,#cee3ef,#c8e1ed,#d9e9f1,#dfecf3,#cfe4ef,#a9d1e5,#a2cde3,#bedbeb,#d2e5f0,#d1e5f0,#d7e8f1,#d6e8f1,#c8e0ed,#d1e5f0,#e4eef3,#f7f7f7,#f8f1ed,#f9f0eb,#f9efe9,#f9efea,#f7f5f4,#e8f0f4,#dbeaf2,#d4e6f1,#ddebf2,#f0f4f6,#f1f4f6,#e2edf3,#cfe4f0,#b2d5e7,#add3e6,#bedceb,#d3e6f0,#e2edf3,#ecf2f5,#f1f4f6,#f6f7f7,#f7f6f5,#f3f5f6,#ebf1f5,#ecf2f5,#f1f4f6,#edf2f5,#e3eef3,#e4eef3,#edf2f5,#e5eff4,#d7e8f1,#d9e9f1,#e4eef4,#ebf1f5,#f7f7f7,#f9ece5,#fbe5d9,#fbe5d7,#fce0d0,#fbccb4,#f6b394,#f7b697,#fac6ac,#fcd8c3,#fae8de,#f8f4f1,#f7f5f4,#f7f6f6,#f0f4f6,#ecf2f5,#f0f4f6,#f0f4f6,#e8f0f4)"></div><div style="height:4.129px;background:linear-gradient(90deg,#e9f0f4,#ecf2f5,#f2f5f6,#f7f5f3,#f8f3f0,#f7f7f7,#f1f4f6,#f0f4f6,#eef3f5,#eaf1f5,#dbeaf2,#eaf1f5,#f6f6f7,#f5f6f7,#f7f7f7,#f9f0eb,#f9ece4,#f9ece4,#faeae1,#f8f0ec,#e5eff4,#d8e8f1,#e4eef3,#e8f0f4,#d8e8f1,#cce2ef,#d3e6f0,#d9e9f1,#dbeaf2,#ddebf2,#d9e9f2,#dae9f2,#f0f4f6,#faeae0,#fae7dc,#f8f1ec,#f5f6f7,#ebf1f5,#ddebf2,#dbeaf2,#e9f0f4,#f7f7f7,#f7f6f5,#f0f4f6,#edf2f5,#f6f7f7,#f4f6f7,#e6eff4,#d8e8f1,#cfe4ef,#c0dceb,#b6d7e8,#c6e0ed,#cee3ef,#b3d6e7,#8bc1dc,#85bdda,#a6cfe4,#b4d6e8,#b0d4e7,#c0dceb,#c8e0ed,#bfdceb,#cce3ef,#e0ecf3,#f3f5f6,#f8f4f1,#f8f2ee,#f9f0eb,#f8f1ec,#f7f6f5,#e9f0f4,#deebf2,#d6e7f1,#deebf2,#f1f4f6,#edf2f5,#dbeaf2,#c3deec,#a5cfe3,#9ac9e0,#a6cfe4,#bcdaea,#d5e7f1,#e0ecf3,#e4eef4,#eef3f5,#f5f6f7,#f4f6f7,#f0f3f6,#f4f6f6,#f7f6f5,#f4f6f7,#e9f1f5,#e8f0f4,#f2f5f6,#e9f0f4,#d5e7f1,#d4e7f1,#e0ecf3,#e8f0f4,#f4f6f6,#f9eee8,#fbe7db,#fbe4d7,#fcdecd,#facab1,#f7b496,#f7b799,#f9c6ac,#fcd5bf,#fbe6da,#f8f3f0,#f6f7f7,#f5f6f7,#eff3f6,#eaf1f5,#edf2f5,#ecf2f5,#e6eff4)"></div><div style="height:4.129px;background:linear-gradient(90deg,#edf2f5,#eef3f5,#f3f5f6,#f7f6f5,#f7f5f4,#f4f5f6,#eff3f5,#eef3f5,#eef3f5,#ebf1f5,#dceaf2,#e7eff4,#f1f4f6,#eff3f5,#f0f3f6,#f8f5f3,#f8f0eb,#f9f0eb,#f9ece3,#f8f0eb,#e7eff4,#dbeaf2,#e7f0f4,#edf2f5,#e0ecf3,#d7e8f1,#dae9f2,#ddebf2,#ddebf2,#deebf2,#dceaf2,#dfebf3,#f3f5f6,#fae8dd,#fbe6db,#f8f2ee,#f5f6f7,#edf2f5,#ddebf2,#d8e8f1,#e4eef4,#f5f6f7,#f7f5f3,#f1f4f6,#eef3f5,#f7f7f7,#f4f6f6,#e4eef4,#d6e7f1,#cbe2ee,#badaea,#add3e6,#b9d9e9,#bfdceb,#a6cfe4,#7eb8d7,#7cb7d6,#9dcae1,#a2cde3,#96c7df,#a6cfe4,#b7d8e9,#b9d9e9,#cbe2ee,#deebf2,#eff3f6,#f7f6f5,#f8f3f0,#f8f1ec,#f8f2ee,#f7f7f7,#ebf1f5,#e3edf3,#dbeaf2,#e1edf3,#f1f4f6,#e9f1f4,#d3e6f0,#b6d7e8,#98c8e0,#89bfdb,#95c7df,#acd2e6,#c7e0ed,#d3e6f0,#d6e7f1,#e1edf3,#eff3f6,#f3f5f6,#f1f4f6,#f7f7f7,#f8f4f1,#f7f6f5,#eff3f6,#edf2f5,#f7f7f7,#eef3f5,#d7e8f1,#d2e5f0,#ddebf2,#e6eff4,#f2f5f6,#f9f0eb,#fae9df,#fae7dc,#fce0d0,#fbcfb7,#f8bc9f,#f8c0a4,#fbcfb7,#fddcc8,#fae8dd,#f8f4f1,#f3f5f6,#f3f5f6,#eef3f5,#e8f0f4,#eaf1f5,#e8f0f4,#e6eff4)"></div><div style="height:4.129px;background:linear-gradient(90deg,#f0f4f6,#f0f4f6,#f3f5f6,#f7f7f7,#f6f7f7,#f0f4f6,#ecf2f5,#edf2f5,#eef3f5,#ecf2f5,#dceaf2,#e4eef3,#edf2f5,#ecf2f5,#ecf2f5,#f7f6f5,#f8f0eb,#f9efe9,#fae8de,#f9ece3,#eef3f5,#e5eef4,#f1f4f6,#f7f7f6,#eef3f5,#e6eff4,#e6eff4,#e4eef4,#e0ecf3,#dfecf3,#e0ecf3,#e6eff4,#f7f6f4,#fbe5d8,#fbe5d7,#f8f1ec,#f7f7f7,#f1f4f6,#e0ecf3,#d7e8f1,#e2edf3,#f7f7f6,#f8f1ed,#f7f7f7,#f4f6f6,#f8f4f2,#f7f7f7,#e7eff4,#d9e9f2,#d1e5f0,#c1ddeb,#b2d5e7,#bcdaea,#c2deec,#acd2e5,#8bc0dc,#8bc1dc,#a5cfe4,#a1cde2,#87beda,#93c5de,#a9d1e5,#b8d8e9,#cde3ef,#deebf2,#eff3f5,#f7f6f5,#f8f3f0,#f8f1ec,#f8f2ef,#f7f7f7,#edf2f5,#e8f0f4,#e1ecf3,#e5eff4,#f1f4f6,#e6eff4,#cbe2ee,#aad1e5,#8ac0db,#7bb7d6,#8cc1dc,#a4cee3,#bbdaea,#c2deec,#c2ddec,#d6e7f1,#eaf1f5,#f3f5f6,#f1f4f6,#f6f7f7,#f8f4f2,#f7f5f4,#f3f5f6,#f1f4f6,#f8f5f3,#f3f5f6,#dae9f2,#d2e5f0,#ddebf2,#e7eff4,#f2f5f6,#f8f1ec,#f9ece3,#f9ece3,#fbe5d8,#fcd8c3,#f9c4aa,#fac9b0,#fddbc7,#fbe2d3,#f9ece4,#f7f5f4,#f1f4f6,#f3f5f6,#eff3f6,#e8f0f4,#e8f0f4,#e7eff4,#e6eff4)"></div><div style="height:4.129px;background:linear-gradient(90deg,#f2f5f6,#f2f5f6,#f3f5f6,#f6f6f7,#f2f5f6,#edf2f5,#ebf1f5,#ecf2f5,#eef3f5,#ecf2f5,#dceaf2,#e1edf3,#ebf1f5,#ebf1f5,#ecf2f5,#f7f5f4,#f9efe9,#f9ede5,#fbe4d6,#fbe4d7,#f8f4f3,#f2f5f6,#f8f2ee,#f9ede6,#f8f4f2,#f2f5f6,#eff3f5,#eaf1f5,#e4eef3,#e1ecf3,#e4eef3,#edf2f5,#f8f1ed,#fce2d3,#fce1d1,#f9ede6,#f8f4f2,#f6f6f7,#e5eef4,#dae9f2,#e6eff4,#f8f2ef,#f9ece3,#f8f1ed,#f8f3f0,#f9f0ea,#f8f3f1,#ecf2f5,#dfecf3,#d7e8f1,#cee3ef,#c2ddec,#cae1ee,#d0e5f0,#bddbea,#a2cde3,#a3cee3,#b8d8e9,#aad1e5,#81bad8,#80bad8,#9fcce2,#b9d9e9,#d0e5f0,#dfecf3,#f1f4f6,#f8f3f0,#f9f0eb,#f9eee8,#f8f1ec,#f7f6f6,#f0f4f6,#edf2f5,#e6eff4,#e8f0f4,#f0f4f6,#e3edf3,#c5dfed,#a0cce2,#7ab6d6,#71b0d3,#87beda,#9fcce2,#b2d5e7,#b5d7e8,#b2d5e7,#cce2ee,#e8f0f4,#f3f5f6,#f1f4f6,#f3f5f6,#f6f7f7,#f7f7f7,#f3f5f6,#f2f5f6,#f8f4f1,#f6f6f7,#deebf2,#d4e7f1,#dfecf3,#e9f0f4,#f4f6f6,#f9efea,#f9ede5,#f9f0eb,#faebe3,#fce0cf,#fbcfb7,#fcd3bd,#fce2d2,#fae9de,#f9efe9,#f7f5f4,#f3f5f6,#f7f7f6,#f4f6f7,#ebf2f5,#eaf1f5,#e6eff4,#e5eff4)"></div><div style="height:4.129px;background:linear-gradient(90deg,#f2f5f6,#f2f5f6,#f4f5f6,#f4f6f6,#f0f3f6,#eaf1f5,#eaf1f5,#ecf2f5,#edf2f5,#ebf1f5,#dae9f2,#e0ecf3,#eaf1f5,#eaf1f5,#ecf2f5,#f8f3f1,#f9eee7,#faeae1,#fcdfcd,#fcddcb,#f9ece4,#f8f0eb,#fbe7db,#fbe2d4,#fae9e0,#f8f2ef,#f6f7f7,#f0f4f6,#e7f0f4,#e2edf3,#e6eff4,#f3f5f6,#f9ede6,#fcdfce,#fddcc9,#fae8de,#f8f0ec,#f8f4f2,#edf2f5,#e2edf3,#edf2f5,#f9ece4,#fbe5d9,#faeae1,#f9ece5,#f9ece4,#f8f1ed,#f0f4f6,#e2edf3,#dbeaf2,#d6e7f1,#d2e5f0,#d6e7f1,#d9e9f1,#cee4ef,#b7d8e9,#b9d9e9,#c9e1ee,#b3d6e8,#7db8d7,#6daed1,#94c6df,#badaea,#d3e6f0,#e1edf3,#f6f7f7,#f9eee7,#faeae1,#fae9e0,#f9ede5,#f8f3f0,#f4f6f6,#f1f4f6,#eaf1f5,#e9f0f4,#eef3f5,#e1ecf3,#c2ddec,#97c8df,#6bacd1,#67aacf,#80bad8,#97c7df,#a7d0e4,#aad1e5,#a7d0e4,#c6dfed,#e7eff4,#f3f5f6,#eff3f6,#eef3f5,#f0f4f6,#f2f4f6,#f1f4f6,#f1f4f6,#f7f5f4,#f7f7f7,#e2edf3,#d9e9f1,#e3edf3,#edf2f5,#f7f5f4,#faeae1,#faeae1,#f8f0eb,#f9eee7,#fbe4d6,#fcd6c0,#fcd8c3,#fbe3d5,#fae9df,#faeae1,#f9eee7,#f8f2ee,#f9eee8,#f9f0eb,#f6f7f7,#f1f4f6,#e9f0f4,#e6eff4)"></div><div style="height:4.129px;background:linear-gradient(90deg,#f1f4f6,#f2f5f6,#f4f5f6,#f3f5f6,#eef3f5,#e9f0f4,#ebf1f5,#edf2f5,#ecf2f5,#eaf1f5,#d8e8f1,#dfebf3,#e8f0f4,#e9f0f4,#edf2f5,#f8f2ee,#f9ede5,#fae8de,#fddac5,#fcd5c0,#fbe5d8,#fbe6db,#fdd9c4,#fbceb7,#fdddca,#fae8de,#f8f1ec,#f6f7f7,#ecf2f5,#e3eef3,#e6eff4,#f4f6f7,#faebe2,#fddcc9,#fcd5c0,#fbe4d7,#f9eee8,#f8f1ed,#f5f6f7,#eef3f5,#f7f7f6,#fbe6da,#fce0cf,#fbe4d7,#fae7dc,#faeae1,#f8f1ed,#f1f4f6,#e3edf3,#dbeaf2,#dae9f2,#dae9f2,#ddebf2,#dfecf3,#d7e8f1,#c7e0ed,#c7e0ed,#d2e6f0,#b9d9e9,#76b3d4,#59a1ca,#86bdda,#badaea,#d5e7f1,#e5eef4,#f8f3ef,#fae7dc,#fbe3d4,#fce2d3,#fbe5d9,#f9eee7,#f7f6f5,#f4f5f6,#ebf1f5,#e7eff4,#ebf1f5,#e0ecf3,#c1ddeb,#90c4dd,#5ca3cb,#59a1ca,#70afd2,#82bbd9,#95c7df,#9ccae1,#9fcce2,#c6dfed,#e8f0f4,#f1f4f6,#ecf2f5,#e9f1f5,#eaf1f5,#ebf1f5,#ebf1f5,#ecf2f5,#f5f6f7,#f5f6f7,#e6eff4,#ddebf2,#e8f0f4,#f4f5f6,#f9eee8,#fce1d1,#fce1d2,#fae8de,#fae8dd,#fce0d0,#fbcfb7,#fbccb4,#fddbc8,#fcdfcd,#fdddca,#fcdecc,#fbe3d5,#fce0cf,#fce0d0,#fae9e0,#f8f1ec,#f1f4f6,#eaf1f5)"></div><div style="height:4.129px;background:linear-gradient(90deg,#f0f4f6,#f2f4f6,#f4f5f6,#f3f5f6,#edf2f5,#e9f0f4,#ebf1f5,#edf2f5,#ebf2f5,#e9f0f4,#d7e8f1,#ddebf2,#e4eef4,#e5eef4,#edf2f5,#f8f1ed,#f9ede6,#fae7dc,#fcd4be,#fbcdb5,#fcdecb,#fddbc7,#f8bca0,#f6b090,#f9c4a9,#fcdecb,#fae9df,#f8f2ee,#f2f5f6,#e4eef4,#e1edf3,#f0f4f6,#faebe2,#fddac6,#fbd1bb,#fbe3d4,#f9efe9,#f8f1ec,#f8f3f0,#f7f5f4,#f9f0eb,#fbe2d4,#fdddca,#fce0d0,#fbe4d7,#faeae0,#f8f3f0,#eff3f6,#e0ecf3,#d7e8f1,#dae9f2,#dfebf3,#e3eef3,#e4eef4,#deebf2,#d3e6f0,#d1e5f0,#d6e7f1,#bddbea,#6fafd2,#4795c4,#77b4d5,#b9d9e9,#d8e8f1,#eaf1f5,#f9ede6,#fce0d0,#fddac6,#fcd8c3,#fdddca,#fae8de,#f8f4f2,#f3f5f6,#e8f0f4,#e4eef3,#e9f1f4,#e0ecf3,#c1ddeb,#88bfdb,#4d99c6,#4494c3,#539dc8,#5ea4cc,#72b1d3,#83bcd9,#96c7df,#c7e0ed,#e8f0f4,#eff3f5,#e8f0f4,#e6eff4,#e7eff4,#e6eff4,#e4eef4,#e5eff4,#eff3f5,#f2f5f6,#e7f0f4,#e1edf3,#edf2f5,#f8f3ef,#fbe4d6,#fbceb6,#fbceb6,#fdd9c5,#fdd9c4,#fbceb6,#f7b99b,#f6b292,#f8bea2,#f9c2a7,#f8bb9e,#f8bda0,#fac8af,#f9c3a8,#f9c1a6,#fcd3bd,#fce2d3,#f8f1ed,#f3f5f6)"></div><div style="height:4.129px;background:linear-gradient(90deg,#eff3f5,#f1f4f6,#f3f5f6,#f2f5f6,#edf2f5,#e9f1f4,#ecf2f5,#eef3f5,#ecf2f5,#e9f0f4,#d7e8f1,#dae9f2,#ddebf2,#deebf2,#eaf1f5,#f8f3f0,#f9efe9,#fae8dd,#fcd4be,#facbb2,#fcd5bf,#fac8af,#f4a784,#f09b7a,#f7b496,#fcd4be,#fbe4d6,#f9ede6,#f7f7f7,#e4eef4,#d6e8f1,#e3eef3,#f9eee8,#fddbc7,#fcd3bd,#fbe5d8,#f8f3f0,#f8f3f0,#f8f1ec,#f8f0ec,#f9ede6,#fbe2d3,#fdddca,#fce0cf,#fbe4d6,#faebe2,#f7f5f4,#ebf2f5,#dceaf2,#d3e6f0,#d8e8f1,#e1edf3,#e8f0f4,#eaf1f5,#e4eef4,#d9e9f1,#d5e7f1,#d8e8f1,#bfdceb,#6cadd1,#3f8ec1,#6bacd1,#b6d7e8,#dbeaf2,#eff3f5,#fae9df,#fddbc7,#fbcfb8,#facbb3,#fbd2bb,#fbe4d7,#f8f3f1,#f0f3f6,#e3eef3,#e0ecf3,#e9f0f4,#e1edf3,#c0ddeb,#82bbd9,#4292c2,#3a87bd,#3b88be,#3d8bbf,#4997c5,#62a7ce,#89bfdb,#c8e0ed,#e8f0f4,#ebf1f5,#e4eef4,#e5eef4,#e7eff4,#e4eef3,#dfecf3,#dfecf3,#e9f0f4,#eff3f6,#e8f0f4,#e4eef4,#f3f5f6,#faeae0,#fcd3bd,#f6b394,#f6b293,#f8bb9e,#f8bc9f,#f7b597,#f2a07e,#ec9374,#f2a07e,#f3a380,#ef9a79,#f19e7d,#f5ac8a,#f4a582,#f09c7b,#f6b090,#facab1,#fbe4d6,#f9efea)"></div><div style="height:4.129px;background:linear-gradient(90deg,#eef3f5,#f1f4f6,#f3f5f6,#f1f4f6,#edf2f5,#eaf1f5,#ecf2f5,#eff3f5,#edf2f5,#eaf1f5,#d7e8f1,#d5e7f1,#d4e7f1,#d7e8f1,#e7eff4,#f7f6f5,#f8f3ef,#f9ece4,#fdddca,#fcd5c0,#fdd9c4,#fac7ae,#f5aa88,#f3a381,#f8bda0,#fdd9c5,#fbe4d7,#f9ece4,#f7f5f4,#e2edf3,#c1ddec,#d1e5f0,#f8f3f1,#fcddcb,#fddbc8,#faebe2,#f5f6f7,#f5f6f7,#f8f4f1,#f8f1ed,#f9efe9,#fbe5d8,#fce0cf,#fce2d3,#fbe5d9,#f9ece5,#f6f7f7,#e8f0f4,#d9e9f1,#cfe4ef,#d5e7f1,#e2edf3,#ecf2f5,#eff3f6,#ebf1f5,#dfecf3,#d8e8f1,#d8e8f1,#c0dceb,#6eaed2,#3e8cc0,#63a7ce,#b2d5e7,#dceaf2,#f2f5f6,#fae7dc,#fcd7c2,#fbccb4,#fac8ae,#fbcdb5,#fbe2d4,#f8f4f2,#ebf1f5,#deebf2,#ddeaf2,#e9f1f4,#e3eef3,#c1ddeb,#80bad8,#408fc1,#347fb9,#317bb7,#317bb7,#3985bc,#4997c5,#7fb9d8,#c9e1ee,#e8f0f4,#e8f0f4,#e1edf3,#e6eff4,#e9f1f4,#e4eef3,#dbeaf2,#dbeaf2,#e5eff4,#edf2f5,#e8f0f4,#e6eff4,#f7f6f5,#fce0d0,#f7ba9d,#ef9978,#ef9979,#f3a380,#f4a784,#f4a582,#ea8e70,#e48065,#e8896c,#e88a6d,#e58267,#e8896c,#ee9778,#e98b6e,#e27b62,#eb9072,#f6b090,#fcd4be,#fbe4d7)"></div><div style="height:4.129px;background:linear-gradient(90deg,#edf2f5,#f1f4f6,#f3f5f6,#f1f4f6,#eef3f5,#ebf1f5,#ebf1f5,#eef3f5,#eef3f5,#ebf1f5,#d8e8f1,#cfe4ef,#c8e1ee,#d2e6f0,#e4eef4,#f4f5f6,#f6f7f7,#f8f2ee,#fbe6da,#fbe4d6,#fbe4d6,#fddbc8,#fac6ac,#f9c4a9,#fddac5,#fbe5d8,#faeae1,#f9eee7,#f7f5f3,#e1edf3,#b2d5e7,#bcdaea,#f6f6f7,#fce1d1,#fce2d3,#f8f2ee,#ecf2f5,#ecf2f5,#f3f5f6,#f7f6f6,#f8f4f1,#fae9e0,#fbe3d5,#fbe5d9,#fae8de,#f9eee7,#f5f6f7,#e5eff4,#d7e8f1,#cce3ef,#d3e6f0,#e2edf3,#f0f4f6,#f5f6f7,#f1f4f6,#e4eef3,#dae9f2,#d8e8f1,#c1ddeb,#75b3d4,#4190c1,#62a6ce,#afd4e6,#ddebf2,#f3f5f6,#fae9de,#fddbc7,#fcd2bc,#fbceb7,#fbd1ba,#fbe3d5,#f7f5f4,#e7f0f4,#dae9f2,#dbeaf2,#eaf1f5,#e5eff4,#c3deec,#84bcd9,#4292c2,#3580b9,#317bb7,#317cb7,#3783bb,#4494c3,#83bbd9,#cee3ef,#e8f0f4,#e5eff4,#dfecf3,#e8f0f4,#edf2f5,#e6eff4,#dbeaf2,#dae9f2,#e5eff4,#ecf2f5,#e6eff4,#e6eff4,#f8f2ef,#fcd5bf,#f3a381,#e48166,#e58368,#e98c6f,#ed9576,#ef9a79,#e7866a,#e17960,#e48065,#e27c62,#df755d,#e48065,#e98d6f,#e27b61,#d86450,#e0765e,#ee9878,#f8bfa3,#fddbc7)"></div><div style="height:4.129px;background:linear-gradient(90deg,#edf2f5,#f0f4f6,#f3f5f6,#f2f5f6,#f0f4f6,#ecf2f5,#eaf1f5,#edf2f5,#edf2f5,#ebf1f5,#d8e8f1,#c7e0ed,#bedceb,#cee4ef,#e2edf3,#eef3f5,#eff3f6,#f4f6f6,#f8f2ee,#f8f2ef,#f8f2ee,#faebe2,#fbe4d6,#fbe4d6,#f9ece4,#f8f2ee,#f8f1ee,#f8f1ec,#f7f6f4,#e3eef3,#b8d9e9,#c0ddeb,#f5f6f7,#fbe5d8,#fae9df,#f6f7f7,#e6eff4,#e4eef4,#e9f0f4,#eff3f6,#f7f7f7,#faeae1,#fbe3d5,#fae7db,#faeae0,#f9eee8,#f5f6f7,#e5eff4,#d8e8f1,#cfe4ef,#d4e6f0,#e3eef3,#f3f5f6,#f7f5f4,#f6f7f7,#e8f0f4,#dceaf2,#d7e8f1,#c1ddeb,#7fb9d7,#4c99c6,#68aad0,#afd4e6,#deebf2,#f2f4f6,#f9ece4,#fce0d0,#fdddca,#fddbc7,#fddbc7,#fbe6da,#f6f7f7,#e4eef4,#d9e9f1,#dbeaf2,#ebf1f5,#e7eff4,#c8e1ee,#8bc1dc,#4997c5,#3a87bd,#3884bb,#3986bc,#3d8bbf,#509bc7,#91c4de,#d3e6f0,#e8f0f4,#e3eef3,#deebf2,#eaf1f5,#f2f5f6,#e9f0f4,#dceaf2,#ddebf2,#e9f0f4,#eef3f5,#e5eff4,#e7eff4,#f9efe9,#f9c4aa,#e6866a,#d7634f,#d7634f,#da6853,#df755d,#e48166,#e0765e,#dd705a,#e0775e,#dc6e58,#d86551,#de725b,#e17961,#d55d4c,#c53f3d,#cf5246,#df765e,#f4a784,#facab2)"></div><div style="height:4.129px;background:linear-gradient(90deg,#eef3f5,#f1f4f6,#f3f5f6,#f3f5f6,#f2f5f6,#edf2f5,#eaf1f5,#eaf1f5,#ebf1f5,#e9f0f4,#d6e7f1,#c1ddeb,#b7d8e9,#cbe2ee,#deebf2,#e5eff4,#e5eef4,#e8f0f4,#eef3f5,#ecf2f5,#eff3f5,#f6f7f7,#f8f4f2,#f8f3f0,#f6f7f7,#f4f5f6,#f7f5f3,#f8f1ec,#f8f5f3,#e9f0f4,#d2e5f0,#d7e8f1,#f8f4f3,#fae7dc,#f9eee7,#f2f5f6,#e5eff4,#e2edf3,#e5eef4,#eef3f5,#f8f4f1,#fbe3d4,#fddbc7,#fce1d2,#fbe6da,#f9ece4,#f7f7f6,#e8f0f4,#dceaf2,#d4e6f1,#d7e8f1,#e7eff4,#f7f7f7,#f8f1ed,#f8f3ef,#eef3f5,#dfecf3,#d8e8f1,#c3deec,#8dc2dc,#60a5cd,#75b3d4,#b4d6e8,#dfecf3,#f0f4f6,#f8f0eb,#fbe7db,#fbe4d6,#fbe2d4,#fce1d2,#faeae2,#f0f4f6,#e0ecf3,#d9e9f1,#ddebf2,#ebf1f5,#e8f0f4,#d0e5f0,#94c6df,#509cc8,#3e8cbf,#3e8cbf,#4190c1,#4594c4,#5ea4cc,#9fcbe2,#d8e8f1,#e8f0f4,#e1edf3,#deebf2,#edf2f5,#f7f7f7,#edf2f5,#dfecf3,#e2edf3,#eff3f6,#f1f4f6,#e5eff4,#e9f0f4,#faeae0,#f6b090,#d45d4b,#bd2d35,#b61f2e,#b3192c,#b92632,#c43c3c,#c8433f,#cc4d44,#d25849,#cb4a43,#c43d3c,#c94641,#c6413e,#ae172a,#890b24,#a11328,#c13539,#e0775f,#f7b496)"></div><div style="height:4.129px;background:linear-gradient(90deg,#eff3f5,#f1f4f6,#f4f6f6,#f5f6f7,#f3f5f6,#eef3f5,#e9f0f4,#e8f0f4,#e7eff4,#e5eff4,#d2e5f0,#b9d9e9,#b0d4e6,#c2ddec,#d4e6f0,#d6e8f1,#d5e7f1,#d9e9f1,#dfebf3,#dfecf3,#e6eff4,#f0f4f6,#f4f6f6,#f7f6f5,#f7f5f4,#f8f4f2,#f9ede6,#fae8dd,#f9ede6,#f5f6f7,#e7eff4,#edf2f5,#f9ece5,#fbe5d8,#f9ece5,#f7f7f7,#ecf2f5,#e9f0f4,#eaf1f5,#f6f7f7,#fae8dc,#facab2,#f8bca0,#fbcfb8,#fcdecc,#fae7dc,#f8f3f1,#edf2f5,#e2edf3,#dae9f2,#deebf2,#eef3f5,#f8f0ec,#fae8de,#fae8de,#f7f5f3,#e7eff4,#dceaf2,#c9e1ee,#9ccae1,#77b4d5,#87beda,#bddbea,#e2edf3,#eef3f5,#f8f4f2,#f9ece4,#fae9df,#fae8dc,#fae7dc,#f8f1ed,#e6eff4,#d8e8f1,#d8e8f1,#dfecf3,#ebf1f5,#ebf1f5,#d9e9f1,#a4cee3,#62a6ce,#4a97c5,#4d99c6,#529dc8,#57a0ca,#72b1d3,#afd4e6,#dceaf2,#e7eff4,#e0ecf3,#deebf2,#eff3f5,#f8f4f2,#f1f4f6,#e4eef3,#e8f0f4,#f6f7f7,#f6f6f7,#e7eff4,#ecf2f5,#fbe5d9,#f2a17f,#c53e3d,#9d1128,#7e0723,#6b0120,#720321,#8e0c25,#a41429,#b72230,#be3037,#b51f2e,#a81529,#af172a,#9e1228,#67001f,#67001f,#67001f,#970f27,#ce5045,#f4a481)"></div><div style="height:4.129px;background:linear-gradient(90deg,#f1f4f6,#f2f5f6,#f5f6f7,#f6f7f7,#f4f6f6,#eff3f6,#e9f0f4,#e5eff4,#e3eef3,#e1ecf3,#c9e1ee,#b0d4e7,#a5cfe3,#b1d5e7,#bad9e9,#b7d8e9,#b5d7e8,#bfdceb,#cfe4f0,#d6e8f1,#e4eef4,#f5f6f7,#f8f3f1,#f9ece4,#fbe6da,#fce2d3,#fdd9c4,#fbd1ba,#fcdecc,#faebe2,#f8f2ef,#f9eee7,#fce1d1,#fcdecb,#fbe5d8,#f9eee8,#f7f5f4,#f4f6f6,#f2f5f6,#f8f1ec,#fcddcb,#f6b495,#f4a784,#f8bea1,#fcd4be,#fbe4d7,#f8f1ed,#f2f4f6,#e8f0f4,#e1ecf3,#e7eff4,#f8f4f2,#fbe3d5,#fbd2bb,#fbd1ba,#fbe6d9,#f5f6f7,#e5eef4,#d4e7f1,#add2e6,#8fc3dd,#98c8e0,#c6dfed,#e3eef3,#edf2f5,#f7f6f5,#f9efe9,#faebe2,#faeae1,#f9ede5,#f4f5f6,#d9e9f1,#cde3ef,#d6e7f1,#e2edf3,#ecf2f5,#eff3f5,#e6eff4,#c4deec,#8cc1dc,#79b5d5,#7cb7d7,#7bb7d6,#7bb6d6,#94c6df,#c6dfed,#e3eef3,#e7f0f4,#e0ecf3,#dfecf3,#f0f3f6,#f8f3f0,#f5f6f7,#e8f0f4,#edf2f5,#f8f4f2,#f7f6f6,#e5eff4,#e8f0f4,#faebe2,#f6b292,#d55e4c,#bc2d35,#ac162a,#970f27,#960f26,#aa152a,#b82431,#c1373a,#c63f3d,#bb2b34,#b51d2d,#bb2a34,#b6202f,#8e0c25,#750421,#900d26,#b7212f,#da6a54,#f7b495)"></div><div style="height:4.129px;background:linear-gradient(90deg,#f3f5f6,#f4f5f6,#f7f7f7,#f7f7f6,#f4f6f6,#f0f4f6,#eaf1f5,#e5eef4,#e1edf3,#ddebf2,#c2ddec,#a9d1e5,#9dcae1,#a1cde2,#9fcbe2,#96c7df,#92c5de,#9fcce2,#b7d8e9,#cbe2ee,#e1edf3,#f7f7f7,#f9efe9,#fbe5d8,#fdd9c5,#fbcfb8,#f8c0a4,#f8bda0,#fcd5bf,#fbe6db,#f9eee7,#fae9de,#fcdecb,#fddcc9,#fbe2d3,#faeae1,#f9f0eb,#f7f5f4,#f2f5f6,#f8f4f2,#fbe2d3,#f8c0a4,#f6b495,#fac8ae,#fdd9c5,#fbe6da,#f8f2ef,#f3f5f6,#edf2f5,#e6eff4,#eef3f5,#faebe2,#facbb2,#f4a684,#f4a582,#fbcdb6,#f9ede6,#eff3f6,#dfebf2,#bedbeb,#a1cde2,#a7d0e4,#cee3ef,#e4eef3,#ecf2f5,#f7f7f7,#f9efe9,#faeae0,#faeae1,#f8f1ec,#eaf1f5,#d1e5f0,#c9e1ee,#d9e9f2,#e7eff4,#eff3f6,#f5f6f7,#f5f6f7,#e0ecf3,#bcdaea,#b1d5e7,#b4d6e8,#abd2e5,#a5cee3,#b8d8e9,#dbeaf2,#ebf1f5,#eaf1f5,#e3edf3,#e0ecf3,#eff3f5,#f8f3f1,#f7f7f7,#ecf2f5,#eff3f6,#f8f3f1,#f7f6f5,#e4eef3,#e0ecf3,#f7f5f4,#fcd4be,#f2a17f,#e68469,#df765e,#d96752,#d6604d,#d96853,#dd715a,#e0775e,#df755d,#d6604d,#d25849,#dc6e58,#dd6f59,#d2594a,#ce5045,#d7624f,#e17860,#f5a886,#fcd7c2)"></div><div style="height:4.129px;background:linear-gradient(90deg,#f6f7f7,#f5f6f7,#f7f6f5,#f7f6f6,#f4f5f6,#f0f4f6,#ecf2f5,#e7eff4,#e3edf3,#ddebf2,#c0dceb,#a7d0e4,#9bcae1,#99c9e0,#8dc2dc,#7cb7d6,#71b0d3,#7fb9d8,#9ecbe2,#b4d6e8,#d3e6f0,#ebf1f5,#f5f6f7,#f9eee7,#fce2d3,#fddcc9,#fbd0b9,#fbd1ba,#fbe5d8,#f8f4f2,#f1f4f6,#f7f5f4,#faeae0,#fae7dc,#faeae1,#f9efea,#f8f4f2,#f4f6f6,#e9f1f4,#edf2f5,#f8f1ed,#fcdfce,#fcd8c3,#fce0cf,#fbe4d6,#f9ece5,#f7f6f5,#f2f5f6,#eff3f5,#e9f0f4,#f0f4f6,#fae7dc,#f8ba9d,#e7876b,#e7866a,#f8bc9f,#fae7dc,#f6f7f7,#e8f0f4,#cee4ef,#b0d4e7,#b4d6e8,#d2e5f0,#e3edf3,#ebf1f5,#f7f6f6,#f9ede5,#fae7dc,#fae8de,#f8f2ef,#e9f0f4,#d8e9f1,#dceaf2,#eaf1f5,#f5f6f7,#f7f5f3,#f8f1ed,#f9eee8,#f5f6f7,#dfecf3,#dae9f2,#dbeaf2,#d1e5f0,#c4dfec,#d5e7f1,#e8f0f4,#f1f4f6,#edf2f5,#e7eff4,#e2edf3,#ecf2f5,#f7f6f5,#f7f6f6,#f0f4f6,#f1f4f6,#f8f4f2,#f8f4f2,#e7eff4,#ddebf2,#eff3f6,#fbe6d9,#fbcdb5,#f8bfa3,#f7b495,#f5a988,#f2a27f,#f4a481,#f5a886,#f4a582,#f19d7c,#e88a6d,#e7876b,#f19e7d,#f4a683,#f19e7d,#f2a27f,#f5ac8b,#f7b496,#fbcfb8,#fbe6da)"></div><div style="height:4.129px;background:linear-gradient(90deg,#f7f6f5,#f7f7f7,#f7f5f3,#f7f6f5,#f3f5f6,#f0f4f6,#eef3f5,#eaf1f5,#e4eef4,#dceaf2,#b7d8e9,#9ac9e0,#89bfdb,#78b5d5,#5ca3cc,#4292c3,#3a87bd,#3f8ec0,#63a7ce,#82bbd9,#a8d0e4,#d0e4f0,#dae9f2,#e9f0f4,#f7f5f4,#f8f0eb,#fae9de,#faeae0,#f5f6f7,#e2edf3,#dae9f2,#e3eef3,#f5f6f7,#f8f4f1,#f8f4f3,#f7f7f7,#f4f6f6,#eff3f5,#e4eef3,#e4eef3,#f1f4f6,#f9eee7,#fae9df,#f9ede6,#f9ece5,#f8f2ee,#f5f6f7,#f0f4f6,#eff3f5,#e8f0f4,#ebf1f5,#f9ede6,#fac7ae,#ef9878,#ef9878,#fac8af,#faebe2,#f7f7f6,#eff3f5,#d7e8f1,#bcdbea,#c0dceb,#d4e6f1,#e0ecf3,#e9f1f4,#f7f5f3,#fae9df,#fbe3d5,#fbe5d8,#f9efe9,#f6f7f7,#f7f6f6,#faeae1,#fce0cf,#fddcc9,#fdddcb,#fcdecc,#fcdfcd,#fae9df,#f7f7f7,#f2f5f6,#f0f4f6,#e1edf3,#d7e8f1,#e2edf3,#f0f4f6,#f4f5f6,#eff3f6,#e8f0f4,#deebf2,#e1edf3,#ecf2f5,#eef3f5,#e8f0f4,#e6eff4,#eff3f6,#f5f6f7,#e6eff4,#dae9f2,#e7eff4,#f8f0eb,#fbe4d7,#fcdfcd,#fcd4be,#fac9b0,#f9c4a9,#f9c6ac,#facab1,#f9c4a9,#f8bca0,#f6af8f,#f5ae8d,#f8bea2,#f9c5ab,#f9c5ab,#fbceb6,#fcd5bf,#fcd7c2,#fbe2d4,#f9ede7)"></div><div style="height:4.129px;background:linear-gradient(90deg,#f8f4f2,#f7f5f4,#f8f4f2,#f7f5f4,#f2f5f6,#f1f4f6,#f0f4f6,#ebf1f5,#e4eef3,#d6e8f1,#a3cde3,#73b2d3,#509bc7,#3783bb,#2267ad,#144c88,#09386c,#0e427a,#2267ad,#347fb9,#4f9ac7,#7fb9d8,#8dc2dc,#9ecbe1,#afd4e6,#b3d6e8,#c6dfed,#cae1ee,#b4d6e8,#a4cee3,#a1cde2,#b8d8e9,#d6e7f1,#deebf2,#e0ecf3,#dfecf3,#e0ecf3,#e0ecf3,#d9e9f2,#dbeaf2,#e8f0f4,#f7f6f6,#f8f2ef,#f7f5f3,#f8f1ed,#f7f5f3,#f2f5f6,#eef3f5,#eef3f5,#e5eef4,#e2edf3,#f4f6f6,#fce1d1,#f9c0a5,#f9c1a6,#fce1d1,#f8f4f2,#f4f6f6,#f2f5f6,#dbeaf2,#c6dfed,#c9e1ee,#d5e7f1,#deebf2,#e9f0f4,#f8f3f1,#fbe6d9,#fcdfcd,#fcdfcf,#fae7db,#fbe6d9,#fbceb6,#f2a07e,#e68569,#e7876b,#ed9576,#f4a886,#f8bb9e,#fcd7c2,#fae7dc,#f9ede6,#f8f1ed,#ecf2f5,#dfecf3,#e9f0f4,#f2f5f6,#f2f5f6,#eaf1f5,#dfecf3,#c5dfed,#b7d8e9,#bbdaea,#bbdaea,#b1d5e7,#a9d1e5,#b8d8e9,#d1e5f0,#cde3ef,#c0dceb,#d5e7f1,#eef3f5,#f8f4f2,#f9efe9,#fbe5d8,#fce0cf,#fcdfcf,#fce2d3,#fbe5d7,#fce1d2,#fcdecc,#fcd6c0,#fcd4be,#fcdecc,#fce1d2,#fbe3d4,#fae8dd,#fae9df,#fae8dd,#f9ede5,#f8f2ee)"></div><div style="height:4.129px;background:linear-gradient(90deg,#f8f3f1,#f7f5f3,#f8f3f0,#f7f5f4,#f2f5f6,#f1f4f6,#f2f5f6,#eff3f5,#e8f0f4,#dceaf2,#aed3e6,#8ac0db,#73b1d3,#529cc8,#3682ba,#266daf,#195695,#1b5a9b,#2c75b4,#3681ba,#3e8dc0,#4b98c6,#3f8dc0,#3b88bd,#3986bc,#347fb9,#3e8cbf,#4393c3,#3e8cc0,#3e8cbf,#4191c2,#5fa5cd,#89bfdb,#95c6df,#96c7df,#99c9e0,#a2cde3,#b0d4e7,#b5d7e8,#c6dfed,#dceaf2,#eef3f5,#f5f6f7,#f4f6f6,#f8f4f2,#f7f6f6,#f0f4f6,#edf2f5,#edf2f5,#e3edf3,#dbeaf2,#e7eff4,#f9efe9,#fcdfcd,#fcdfce,#f9efe9,#f0f3f6,#f0f4f6,#f3f5f6,#deebf2,#cbe2ee,#d0e4f0,#d6e8f1,#ddebf2,#e8f0f4,#f8f2ef,#fbe4d6,#fdddca,#fcdecc,#fbe5d8,#fcdfcf,#f6b394,#de735b,#d45c4b,#d96853,#e27b61,#ec9374,#f6b191,#fbceb7,#fce1d1,#fbe7db,#f9ebe3,#f2f5f6,#e3eef3,#edf2f5,#f3f5f6,#f0f4f6,#e6eff4,#d7e8f1,#acd2e5,#8fc3dd,#88beda,#83bbd9,#74b2d4,#66a9cf,#79b5d5,#a2cde3,#acd2e5,#a6cfe4,#c2ddec,#e2edf3,#edf2f5,#f4f6f7,#f9eee8,#faebe2,#f9ede6,#f8f2ee,#f7f5f4,#f8f3f0,#f8f1ec,#f9ece4,#faeae2,#f9efea,#f8f2ee,#f8f3f0,#f7f7f7,#f7f5f4,#f8f2ee,#f8f3f0,#f8f4f3)"></div></div><div style="position:absolute;left:391.0px;top:76.0px;width:251.70px;height:169.30px;overflow:hidden"><div style="height:4.129px;background:linear-gradient(90deg,#eff3f5,#f4f6f6,#f8f4f2,#f8f1ec,#f8f2ee,#f8f4f3,#f8f4f1,#f8f3f0,#f8f2ef,#f8f1ed,#faeae1,#f9ede6,#f8f3f0,#f9eee8,#fbe5d8,#faeae0,#f8f4f2,#f6f6f7,#f2f5f6,#f2f5f6,#f3f5f6,#ebf1f5,#e2edf3,#e0ecf3,#e2edf3,#f2f4f6,#f9ece4,#fae9df,#f7f5f3,#f1f4f6,#f8f3f0,#f7f5f3,#f1f4f6,#f0f4f6,#e1edf3,#c7e0ed,#cbe2ee,#deebf2,#e2edf3,#e3eef3,#ebf1f5,#eff3f6,#e9f1f4,#e5eef4,#e6eff4,#e8f0f4,#d6e7f1,#cae2ee,#e1ecf3,#e5eef4,#dceaf2,#dceaf2,#dfecf3,#dae9f2,#ddebf2,#ebf1f5,#ebf1f5,#e0ecf3,#dbeaf2,#e1ecf3,#e3edf3,#e6eff4,#f7f6f5,#f9ece4,#f8f1ed,#f5f6f7,#ebf1f5,#e5eff4,#f0f4f6,#f6f6f7,#e9f0f4,#e0ecf3,#e1edf3,#e3eef3,#e4eef4,#e1edf3,#d5e7f1,#d1e5f0,#e2edf3,#f0f4f6,#f1f4f6,#f6f7f7,#f9f0ea,#faeae2,#f8f1ed,#eef3f5,#ecf2f5,#eaf1f5,#e7eff4,#e9f0f4,#e8f0f4,#e5eff4,#ddebf2,#d4e6f1,#d7e8f1,#e4eef4,#e8f0f4,#e2edf3,#e8f0f4,#f7f7f7,#f6f7f7,#f3f5f6,#f8f0eb,#fae8dd,#faeae1,#f8f2ee,#f8f3ef,#f9efe9,#f9efe9,#f8f3f0,#f5f6f7,#f8f4f3,#f9ede6,#f9ece5,#f9ece4,#fae7dc,#fae7dc,#f9efea,#f8f4f2,#f8f2ef)"></div><div style="height:4.129px;background:linear-gradient(90deg,#eff3f6,#f3f5f6,#f7f5f4,#f8f2ee,#f8f2ef,#f8f4f3,#f8f4f2,#f8f3f0,#f8f2ee,#f9f0eb,#fae8de,#faeae0,#f9ede6,#fbe6da,#fddcc8,#fce1d0,#faeae1,#f9eee7,#f9efea,#f8f1ed,#f8f3f1,#f0f4f6,#e5eff4,#e2edf3,#e4eef3,#f2f5f6,#f9ece5,#fae9df,#f8f4f2,#f2f5f6,#f8f4f1,#f7f6f5,#f0f4f6,#f0f4f6,#e3eef3,#cde3ef,#d1e5f0,#dfecf3,#e4eef4,#e5eff4,#ecf2f5,#eff3f6,#e8f0f4,#e3eef3,#e4eef4,#e7eff4,#d7e8f1,#cfe4ef,#e3eef3,#e7f0f4,#ddebf2,#dceaf2,#dfecf3,#dceaf2,#dfecf3,#ebf1f5,#eaf1f5,#deebf2,#dae9f2,#e1edf3,#e5eff4,#e8f0f4,#f7f7f7,#f9eee8,#f8f1ec,#f7f6f6,#edf2f5,#e7eff4,#f0f4f6,#f5f6f7,#e7eff4,#dfecf3,#e1edf3,#e4eef4,#e4eef4,#e1edf3,#d7e8f1,#d3e6f0,#e2edf3,#f1f4f6,#f2f5f6,#f6f6f7,#f8f1ed,#f9ede5,#f8f3ef,#eef3f5,#ecf2f5,#eaf1f5,#e9f0f4,#ecf2f5,#eaf1f5,#e7eff4,#deebf2,#d4e6f1,#d5e7f1,#e2edf3,#e7eff4,#e2edf3,#e8f0f4,#f5f6f7,#f3f5f6,#f1f4f6,#f8f2ef,#faeae0,#f9ece3,#f8f1ee,#f8f1ed,#f9ede5,#f9ebe3,#f9eee7,#f8f2ee,#f9efe9,#fae9df,#faeae1,#faebe2,#fae7dc,#fae7dc,#f9efe9,#f8f4f2,#f8f3f0)"></div><div style="height:4.129px;background:linear-gradient(90deg,#eff3f6,#f3f5f6,#f7f7f7,#f8f3f0,#f8f3ef,#f8f4f2,#f8f4f2,#f8f3f1,#f8f1ed,#f9efe9,#fae7db,#fae7db,#fae8dd,#fce0d0,#fcd3bd,#fddcc9,#fbe4d6,#fbe5d8,#fbe5d7,#fbe7db,#f9ece4,#f7f6f6,#eaf1f5,#e4eef4,#e6eff4,#f3f5f6,#f9ede7,#faeae0,#f8f3f0,#f3f5f6,#f7f5f3,#f7f7f7,#f0f4f6,#f1f4f6,#e6eff4,#d5e7f1,#d6e8f1,#e3eef3,#e8f0f4,#e9f0f4,#eef3f5,#eff3f5,#e6eff4,#e1edf3,#e3edf3,#e7f0f4,#e2edf3,#e0ecf3,#ebf2f5,#ecf2f5,#dfecf3,#dbeaf2,#dfecf3,#dfebf3,#e3edf3,#ebf2f5,#e7f0f4,#dceaf2,#d9e9f2,#e3edf3,#ebf1f5,#ebf1f5,#f3f5f6,#f8f2ee,#f8f0ec,#f8f4f1,#f1f4f6,#e9f0f4,#f1f4f6,#f3f5f6,#e5eef4,#deebf2,#e3edf3,#e6eff4,#e5eff4,#e2edf3,#dbeaf2,#d7e8f1,#e2edf3,#f1f4f6,#f3f5f6,#f5f6f7,#f8f3f0,#f9f0eb,#f7f5f4,#edf2f5,#ecf2f5,#ecf2f5,#edf2f5,#f1f4f6,#eef3f5,#e9f0f4,#dfecf3,#d4e6f1,#d3e6f0,#dfecf3,#e5eef4,#e2edf3,#e8f0f4,#f1f4f6,#eff3f5,#edf2f5,#f7f6f6,#f9eee7,#f9eee7,#f8f1ed,#f9efe9,#faeae0,#fae7dc,#fae7db,#fae9df,#fae7db,#fbe4d7,#fae8de,#faeae1,#fae8dd,#fae8dd,#f9efe9,#f8f4f1,#f8f4f2)"></div><div style="height:4.129px;background:linear-gradient(90deg,#eff3f6,#f2f4f6,#f5f6f7,#f8f5f3,#f8f3f0,#f8f4f2,#f8f4f2,#f8f3f1,#f8f1ed,#f9eee7,#fbe6da,#fbe6d9,#fbe5d8,#fcdecc,#fcd2bc,#fddbc7,#fce0d0,#fcdfce,#fdddca,#fcdfcd,#fbe5d9,#f8f1ee,#eff3f5,#e7eff4,#e8f0f4,#f4f6f6,#f9efea,#faebe3,#f8f3f0,#f4f5f6,#f7f6f5,#f6f7f7,#f0f4f6,#f2f4f6,#e9f0f4,#dbeaf2,#ddebf2,#e8f0f4,#edf2f5,#eef3f5,#f0f3f6,#edf2f5,#e2edf3,#deebf2,#e0ecf3,#e7eff4,#ecf2f5,#f0f3f6,#f4f5f6,#f0f4f6,#e1ecf3,#dae9f2,#dfecf3,#e2edf3,#e6eff4,#ecf2f5,#e6eff4,#dbeaf2,#d9e9f1,#e6eff4,#f1f4f6,#f0f4f6,#f0f4f6,#f7f6f5,#f8f1ed,#f8f1ed,#f4f6f7,#ebf1f5,#f2f5f6,#f2f5f6,#e2edf3,#ddebf2,#e4eef3,#e7f0f4,#e7eff4,#e4eef3,#dfecf3,#dbeaf2,#e3edf3,#f1f4f6,#f4f5f6,#f4f5f6,#f7f6f5,#f8f4f1,#f5f6f7,#edf2f5,#edf2f5,#eef3f5,#f3f5f6,#f5f6f7,#f1f4f6,#eaf1f5,#e0ecf3,#d5e7f1,#d2e5f0,#dbeaf2,#e1ecf3,#e0ecf3,#e7eff4,#edf2f5,#e9f0f4,#e7eff4,#f0f4f6,#f8f3f1,#f8f0ec,#f8f1ec,#f9ede5,#fae7dc,#fbe4d6,#fce0cf,#fcdfcf,#fcdecc,#fce0cf,#fae7db,#faeae1,#fae9de,#fae8de,#f9eee8,#f8f4f1,#f7f6f6)"></div><div style="height:4.129px;background:linear-gradient(90deg,#eff3f5,#f1f4f6,#f3f5f6,#f7f7f6,#f8f4f2,#f8f4f1,#f8f4f2,#f8f4f1,#f8f1ed,#f9ede6,#fbe6da,#fbe6da,#fbe4d7,#fcdecc,#fcd5bf,#fddbc7,#fdddca,#fddac5,#fcd6c1,#fddbc8,#fbe3d5,#f9efea,#f2f4f6,#e9f0f4,#ebf1f5,#f5f6f7,#f8f2ee,#f9eee8,#f8f4f2,#f3f5f6,#f7f7f7,#f6f7f7,#f1f4f6,#f3f5f6,#ebf1f5,#e0ecf3,#e3edf3,#edf2f5,#f3f5f6,#f3f5f6,#f1f4f6,#eaf1f5,#dfebf2,#dbeaf2,#deebf2,#e4eef4,#eff3f6,#f7f7f7,#f7f6f5,#f3f5f6,#e2edf3,#d9e9f2,#dfecf3,#e3edf3,#e8f0f4,#eef3f5,#e7eff4,#dbeaf2,#dbeaf2,#e9f1f5,#f7f6f5,#f5f6f7,#eef3f5,#f3f5f6,#f8f2ef,#f8f1ec,#f6f6f7,#edf2f5,#f3f5f6,#f2f4f6,#e0ecf3,#dbeaf2,#e4eef4,#e9f0f4,#e8f0f4,#e5eef4,#e3eef3,#dfecf3,#e4eef3,#f1f4f6,#f5f6f7,#f3f5f6,#f6f7f7,#f7f6f6,#f2f5f6,#edf2f5,#eef3f5,#f2f5f6,#f7f7f6,#f7f6f5,#f2f5f6,#eaf1f5,#e1edf3,#d7e8f1,#d2e6f0,#d8e8f1,#dbeaf2,#deebf2,#e6eff4,#e9f0f4,#e4eef4,#e1edf3,#e8f0f4,#f5f6f7,#f8f3ef,#f9efea,#faeae1,#fbe6da,#fce1d2,#fcd8c3,#fbd0b9,#fbd0b9,#fddbc8,#fbe5d8,#fae9e0,#fae9e0,#fae9df,#f9eee8,#f8f3f0,#f6f7f7)"></div><div style="height:4.129px;background:linear-gradient(90deg,#edf2f5,#f0f4f6,#f1f4f6,#f5f6f7,#f7f5f3,#f8f4f2,#f8f4f3,#f8f4f2,#f8f1ed,#f9eee7,#fae8dd,#fae7dc,#fbe4d6,#fdddcb,#fcd3bd,#fcd5bf,#fcd2bc,#fbcfb7,#fcd3bc,#fddcc9,#fbe4d7,#f9f0eb,#f2f5f6,#ebf1f5,#edf2f5,#f4f6f6,#f7f5f3,#f8f2ee,#f7f7f6,#f1f4f6,#f6f7f7,#f7f7f7,#f4f6f6,#f4f6f6,#ecf2f5,#e3edf3,#e7eff4,#f2f5f6,#f7f6f6,#f7f6f6,#f2f5f6,#e8f0f4,#dbeaf2,#d9e9f1,#dceaf2,#e1edf3,#edf2f5,#f7f6f6,#f8f4f3,#f4f6f6,#e2edf3,#d9e9f2,#deebf2,#e2edf3,#e8f0f4,#eff3f6,#e9f1f4,#dfecf3,#dfecf3,#eff3f5,#f8f1ee,#f7f6f5,#edf2f5,#f0f4f6,#f8f4f1,#f8f2ee,#f5f6f7,#edf2f5,#f4f5f6,#f0f4f6,#dfecf3,#dae9f2,#e4eef3,#eaf1f5,#e9f1f5,#e6eff4,#e7eff4,#e4eef4,#e6eff4,#f3f5f6,#f7f6f6,#f4f6f6,#f6f6f7,#f7f7f7,#f1f4f6,#eef3f5,#f1f4f6,#f5f6f7,#f8f4f2,#f7f5f3,#f1f4f6,#e9f0f4,#e3edf3,#dbeaf2,#d6e7f1,#d6e7f1,#d6e7f1,#dbeaf2,#e4eef4,#e7eff4,#e1edf3,#deebf2,#e2edf3,#eff3f6,#f8f3f1,#f9ede6,#fae8dd,#fbe5d9,#fce1d0,#fbceb7,#f8c0a4,#f9c1a6,#fcd5bf,#fbe4d6,#fae8de,#faeae0,#fae9e0,#f9eee7,#f8f2ee,#f6f7f7)"></div><div style="height:4.129px;background:linear-gradient(90deg,#ecf2f5,#eff3f5,#eff3f6,#f3f5f6,#f7f6f6,#f7f5f4,#f7f5f4,#f8f4f2,#f8f1ed,#f9efe9,#faeae2,#fae8dd,#fce1d2,#fcd6c1,#fac7ad,#f9c4a9,#f8bda1,#f8bda1,#fbcdb5,#fcdecc,#fae7db,#f8f1ed,#f3f5f6,#ecf2f5,#edf2f5,#f2f5f6,#f5f6f7,#f7f5f4,#f4f6f7,#eff3f6,#f5f6f7,#f7f6f5,#f7f6f6,#f6f6f7,#ebf1f5,#e2edf3,#e9f0f4,#f4f6f7,#f8f4f1,#f8f3f0,#f5f6f7,#e7f0f4,#dae9f2,#d7e8f1,#dceaf2,#e0ecf3,#ebf1f5,#f7f7f7,#f7f5f3,#f3f5f6,#e1edf3,#dae9f2,#dceaf2,#dfecf3,#e6eff4,#f0f4f6,#eef3f5,#e6eff4,#e7eff4,#f5f6f7,#f9eee7,#f8f4f2,#edf2f5,#eff3f6,#f7f5f4,#f8f4f2,#f2f5f6,#ebf2f5,#f2f5f6,#eef3f5,#ddebf2,#d9e9f1,#e4eef3,#ecf2f5,#ebf1f5,#e8f0f4,#ebf1f5,#e9f0f4,#eaf1f5,#f7f7f6,#f8f2ef,#f7f6f5,#f7f6f6,#f7f6f5,#f3f5f6,#f0f4f6,#f3f5f6,#f7f7f7,#f8f3f1,#f7f6f5,#eff3f6,#e8f0f4,#e6eff4,#e2edf3,#dbeaf2,#d6e7f1,#d2e6f0,#d9e9f1,#e4eef3,#e6eff4,#e2edf3,#dfebf3,#e1ecf3,#edf2f5,#f8f3ef,#faeae1,#fbe6d9,#fbe6d9,#fce1d1,#fac8af,#f6b394,#f7b798,#fbcfb8,#fbe2d4,#fae7dc,#fae9e0,#faeae0,#f9ede6,#f8f0eb,#f7f6f6)"></div><div style="height:4.129px;background:linear-gradient(90deg,#e9f0f4,#edf2f5,#eef3f5,#f1f4f6,#f6f7f7,#f7f7f7,#f7f6f6,#f8f4f3,#f8f2ee,#f8f0eb,#f9ede6,#fbe6da,#fddbc7,#f9c4aa,#f6b293,#f6ae8e,#f5a886,#f5aa89,#f9c1a6,#fddcc9,#fbe6db,#f8f1ed,#f5f6f7,#f0f3f6,#eef3f5,#eff3f5,#f1f4f6,#f5f6f7,#f2f4f6,#eef3f5,#f3f5f6,#f7f5f4,#f8f3f1,#f7f6f6,#e9f0f4,#e0ecf3,#e9f0f4,#f5f6f7,#f8f3f1,#f8f0ec,#f7f7f7,#e8f0f4,#dbeaf2,#d8e8f1,#deebf2,#e1edf3,#eaf1f5,#f4f6f7,#f7f6f5,#f2f4f6,#e1ecf3,#dae9f2,#dbeaf2,#dceaf2,#e4eef4,#f2f5f6,#f4f5f6,#eff3f6,#f0f4f6,#f8f3ef,#faebe2,#f8f3f0,#eff3f5,#eff3f6,#f7f6f6,#f7f6f6,#eff3f6,#eaf1f5,#f0f3f6,#eaf1f5,#dbeaf2,#d9e9f1,#e5eef4,#eef3f5,#eef3f5,#ecf2f5,#eff3f6,#eef3f5,#f0f4f6,#f8f1ed,#f9ece4,#f8f0ec,#f8f2ef,#f8f3f0,#f6f6f7,#f2f5f6,#f4f5f6,#f6f7f7,#f8f4f2,#f6f6f7,#edf2f5,#e8f0f4,#eaf1f5,#e8f0f4,#e1edf3,#d7e8f1,#d1e5f0,#d8e9f1,#e4eef3,#e6eff4,#e5eef4,#e3eef3,#e3eef3,#eef3f5,#f8f0eb,#fbe6da,#fbe3d5,#fbe6da,#fce2d3,#fac6ac,#f5ac8b,#f6b090,#fbcdb5,#fce2d2,#fbe6da,#fae9de,#faeae1,#f9ede6,#f9efe9,#f8f4f2)"></div><div style="height:4.129px;background:linear-gradient(90deg,#e7eff4,#ecf2f5,#edf2f5,#f1f4f6,#f5f6f7,#f5f6f7,#f6f6f7,#f7f5f4,#f8f3f0,#f8f2ee,#f9efe9,#fbe3d4,#facab1,#f6b090,#f2a07e,#f3a27f,#f19e7d,#f29f7e,#f7b89a,#fcd5bf,#fbe2d4,#f9eee7,#f8f4f2,#f5f6f7,#eef3f5,#ebf1f5,#edf2f5,#f1f4f6,#f0f4f6,#ecf2f5,#f0f4f6,#f7f6f5,#f8f1ed,#f7f5f3,#e7eff4,#ddebf2,#e8f0f4,#f3f5f6,#f7f5f3,#f9f0eb,#f7f6f5,#eaf1f5,#deebf2,#dae9f2,#e1edf3,#e4eef4,#e9f0f4,#f2f5f6,#f7f7f6,#f0f4f6,#e0ecf3,#dae9f2,#dbeaf2,#dceaf2,#e4eef4,#f5f6f7,#f7f5f3,#f7f6f5,#f8f5f3,#f9ede5,#fae8dd,#f8f2ee,#f0f4f6,#f0f4f6,#f6f7f7,#f5f6f7,#edf2f5,#e8f0f4,#ecf2f5,#e6eff4,#d9e9f1,#dae9f2,#e7f0f4,#f2f5f6,#f2f4f6,#f0f4f6,#f5f6f7,#f5f6f7,#f7f6f5,#fae9e0,#fbe4d6,#fae9df,#f9ede6,#f9efe9,#f7f6f5,#f2f5f6,#f2f5f6,#f3f5f6,#f7f7f7,#f1f4f6,#e9f0f4,#e7eff4,#edf2f5,#eef3f5,#e8f0f4,#dbeaf2,#d3e6f0,#dae9f2,#e5eff4,#e8f0f4,#e9f1f4,#eaf1f5,#e9f0f4,#f1f4f6,#f9ede6,#fce2d3,#fce1d1,#fae7dc,#fbe3d5,#fac7ad,#f5ab89,#f6af8e,#fbccb4,#fce1d2,#fbe5d9,#fae8de,#faebe2,#f9ede6,#f9eee7,#f8f2ee)"></div><div style="height:4.129px;background:linear-gradient(90deg,#e5eff4,#eaf1f5,#ecf2f5,#f1f4f6,#f5f6f7,#f3f5f6,#f4f5f6,#f7f6f5,#f8f4f2,#f8f4f2,#f8f2ee,#fce1d1,#f8bca0,#f2a07f,#ee9777,#f3a381,#f4a582,#f2a07e,#f6b394,#fbcdb6,#fcdecc,#fae8de,#f9eee7,#f8f3f1,#f0f4f6,#e9f0f4,#ebf1f5,#f0f4f6,#eff3f6,#eaf1f5,#ecf2f5,#f7f7f7,#f8f0eb,#f8f3f1,#e6eff4,#dae9f2,#e7eff4,#f1f4f6,#f5f6f7,#f8f2ef,#f7f6f5,#ecf2f5,#e1edf3,#deebf2,#e5eff4,#e7f0f4,#e9f0f4,#f1f4f6,#f7f7f7,#eef3f5,#e0ecf3,#dceaf2,#ddebf2,#dfecf3,#e8f0f4,#f7f5f4,#f9f0ea,#f9efea,#f9eee8,#fae8dd,#fbe5d8,#f8f1ec,#f1f4f6,#f0f4f6,#f4f6f6,#f3f5f6,#ecf2f5,#e8f0f4,#eaf1f5,#e2edf3,#d8e8f1,#ddebf2,#ecf2f5,#f6f7f7,#f6f6f7,#f5f6f7,#f8f4f1,#f8f3ef,#f9eee8,#fce1d2,#fddcc8,#fce2d3,#fae8dd,#f9ebe3,#f7f5f3,#f0f4f6,#edf2f5,#edf2f5,#f1f4f6,#ebf1f5,#e2edf3,#e3eef3,#ebf1f5,#f0f4f6,#edf2f5,#e1edf3,#d8e8f1,#deebf2,#e8f0f4,#eaf1f5,#edf2f5,#eff3f6,#eef3f5,#f4f6f7,#faebe3,#fcdfcd,#fce0cf,#fae8de,#fbe4d7,#facab1,#f5ad8d,#f6b091,#fbceb7,#fce2d3,#fbe6d9,#fae9df,#f9ece4,#f9ede7,#f9ede7,#f8f1ec)"></div><div style="height:4.129px;background:linear-gradient(90deg,#e4eef4,#eaf1f5,#ecf2f5,#f2f4f6,#f5f6f7,#f3f5f6,#f3f5f6,#f7f7f7,#f7f5f4,#f7f6f6,#f7f7f7,#fbe3d5,#f8bb9e,#f19d7c,#ee9878,#f5a987,#f5ab8a,#f3a381,#f6b191,#fac9b0,#fddac6,#fbe3d6,#fae7dc,#f9eee7,#f3f5f6,#e9f0f4,#ebf1f5,#f2f5f6,#f1f4f6,#e9f0f4,#e8f0f4,#f3f5f6,#f8f1ec,#f8f3f0,#e6eff4,#d8e8f1,#e5eef4,#eef3f5,#eff3f6,#f7f7f6,#f7f7f7,#eff3f5,#e6eff4,#e3edf3,#e9f0f4,#eaf1f5,#e9f0f4,#eff3f6,#f6f7f7,#eff3f5,#e1edf3,#e0ecf3,#e3eef3,#e7f0f4,#f0f4f6,#f9f0ea,#fae9df,#fae8de,#fae9de,#fbe5d7,#fbe3d5,#f9efea,#f2f5f6,#eef3f5,#f1f4f6,#f1f4f6,#edf2f5,#e8f0f4,#e8f0f4,#e0ecf3,#d8e8f1,#e0ecf3,#eff3f6,#f7f5f4,#f7f6f6,#f7f6f5,#f9efea,#f9ede5,#fae7dc,#fddbc7,#fbd1bb,#fdddca,#fbe4d6,#fae9df,#f7f5f4,#ecf2f5,#e6eff4,#e4eef4,#e8f0f4,#e1edf3,#d9e9f1,#dbeaf2,#e6eff4,#eff3f6,#f2f5f6,#e8f0f4,#dfecf3,#e4eef3,#ebf1f5,#ecf2f5,#ecf2f5,#eef3f5,#edf2f5,#f4f6f6,#faebe2,#fdddcb,#fce0d0,#faeae1,#fbe5d9,#fbcdb5,#f6b292,#f6b495,#fbd0b9,#fbe3d4,#fbe7db,#faebe2,#f9ede7,#f9eee7,#f9eee8,#f8f0ec)"></div><div style="height:4.129px;background:linear-gradient(90deg,#e4eef4,#eaf1f5,#edf2f5,#f2f5f6,#f6f7f7,#f4f5f6,#f2f5f6,#f6f7f7,#f7f7f7,#f5f6f7,#eff3f6,#faeae1,#fac8ae,#f5ac8a,#f4a582,#f5ab8a,#f4a785,#ef9a79,#f5a886,#f9c2a8,#fcd5c0,#fcdfcf,#fce2d3,#fae9df,#f7f7f7,#eaf1f5,#edf2f5,#f6f7f7,#f4f6f7,#e8f0f4,#e4eef4,#f0f3f6,#f8f3f0,#f8f3f0,#e8f0f4,#d9e9f1,#e4eef4,#ebf1f5,#e9f0f4,#f1f4f6,#f5f6f7,#f3f5f6,#ebf1f5,#e6eff4,#ebf1f5,#eaf1f5,#e8f0f4,#eef3f5,#f6f7f7,#f0f4f6,#e6eff4,#e6eff4,#edf2f5,#f4f6f6,#f8f3f0,#fae8dd,#fce1d1,#fce1d2,#fbe5d8,#fbe4d6,#fbe3d5,#f9efe9,#f2f5f6,#ecf2f5,#eef3f5,#f0f4f6,#edf2f5,#e8f0f4,#e6eff4,#e0ecf3,#d9e9f2,#e1edf3,#f2f4f6,#f8f4f2,#f7f6f6,#f7f5f4,#f9ede5,#fae8de,#fbe3d4,#fcd5bf,#fbceb7,#fddcc8,#fbe3d5,#fae9e0,#f7f7f6,#e6eff4,#ddebf2,#d9e9f2,#dceaf2,#d4e6f1,#c5dfed,#cde3ef,#ddebf2,#ecf2f5,#f4f6f6,#eef3f5,#e7eff4,#eaf1f5,#eef3f5,#ebf1f5,#e5eef4,#e3eef3,#e6eff4,#eff3f5,#f9ede6,#fcdecb,#fce1d1,#faebe2,#fbe6d9,#fbcfb8,#f7b697,#f7b698,#fbd2bb,#fbe3d4,#fae8dd,#f9eee7,#f9f0ea,#f9eee8,#f9f0ea,#f8f1ee)"></div><div style="height:4.129px;background:linear-gradient(90deg,#e5eff4,#ebf1f5,#eff3f5,#f3f5f6,#f7f7f7,#f5f6f7,#f3f5f6,#f5f6f7,#f6f6f7,#f2f4f6,#e7f0f4,#f8f3f0,#fdddcb,#f9c5ab,#f7b597,#f5a987,#eb9072,#e17960,#e68569,#f4a886,#f9c1a6,#fcd5bf,#fddcc9,#fbe5d8,#f8f4f1,#edf2f5,#f1f4f6,#f8f3f0,#f7f5f4,#e9f0f4,#e2edf3,#ecf2f5,#f7f6f6,#f8f4f2,#ebf1f5,#dbeaf2,#e4eef4,#eaf1f5,#e4eef3,#ebf1f5,#f5f6f7,#f7f6f6,#f0f4f6,#e9f0f4,#ebf1f5,#eaf1f5,#e8f0f4,#edf2f5,#f6f7f7,#f3f5f6,#ebf1f5,#eef3f5,#f7f7f6,#f8f1ec,#f9ece5,#fbe3d5,#fddcc8,#fdddcb,#fbe4d7,#fbe7db,#fbe6da,#f8f0ec,#f1f4f6,#ebf1f5,#ecf2f5,#eef3f5,#edf2f5,#e7f0f4,#e5eff4,#e1edf3,#dae9f2,#e1ecf3,#f0f4f6,#f7f6f6,#f4f5f6,#f6f7f7,#f9ede6,#fae7db,#fbe2d3,#fdd8c3,#fcd4bf,#fcdfce,#fbe6da,#f9ece5,#f3f5f6,#ddebf2,#cfe4f0,#c7e0ed,#c9e1ee,#b8d8e9,#a5cee3,#b0d4e7,#d2e5f0,#e6eff4,#f2f5f6,#f1f4f6,#ecf2f5,#eff3f5,#f0f4f6,#e7f0f4,#d9e9f1,#d2e6f0,#d8e8f1,#e6eff4,#f8f2ee,#fcdfce,#fce0d0,#faeae0,#fbe4d7,#fbcfb8,#f7b799,#f7b799,#fbd1ba,#fce2d2,#fae8de,#f8f1ed,#f8f2ee,#f9f0ea,#f8f2ef,#f8f4f1)"></div><div style="height:4.129px;background:linear-gradient(90deg,#e7eff4,#ecf2f5,#f0f4f6,#f5f6f7,#f7f6f6,#f7f7f7,#f4f6f6,#f5f6f7,#f4f6f7,#f0f4f6,#e3eef3,#f4f6f7,#fae9de,#fddcc9,#f9c1a6,#f2a07e,#df745d,#d15648,#d25849,#de725b,#ed9576,#f7b89a,#fbcfb8,#fce2d3,#f8f1ed,#f1f4f6,#f6f7f7,#f9eee8,#f8f1ed,#eaf1f5,#e1ecf3,#e8f0f4,#f2f5f6,#f7f6f6,#edf2f5,#dfecf3,#e7eff4,#eaf1f5,#e2edf3,#e9f0f4,#f7f6f6,#f8f1ed,#f5f6f7,#ebf1f5,#e9f1f4,#e9f0f4,#e8f0f4,#edf2f5,#f5f6f7,#f3f5f6,#edf2f5,#f2f5f6,#f8f4f2,#f9f0eb,#f9eee8,#fae7db,#fcdfcd,#fce0d0,#faeae0,#f9eee7,#f9ede6,#f8f4f2,#f0f4f6,#ebf1f5,#ebf1f5,#edf2f5,#ebf1f5,#e6eff4,#e4eef4,#e2edf3,#dae9f2,#ddebf2,#ecf2f5,#f1f4f6,#ecf2f5,#f0f4f6,#f9f0eb,#fae9df,#fbe5d8,#fcdfce,#fcdfce,#fbe6da,#f9ede6,#f8f3ef,#ebf1f5,#d2e5f0,#b5d7e8,#a9d1e5,#a9d1e4,#96c7df,#7cb7d6,#8fc3dd,#bbdaea,#ddebf2,#ebf1f5,#edf2f5,#ecf2f5,#f0f4f6,#f0f4f6,#e4eef4,#cde3ef,#bbdaea,#cbe2ee,#deebf2,#f7f6f5,#fce0cf,#fcdecc,#fbe5d9,#fce0d0,#facbb2,#f7b698,#f7b799,#fbceb6,#fcdfcf,#fae8de,#f8f4f1,#f8f4f3,#f8f2ee,#f7f6f6,#f7f7f7)"></div><div style="height:4.129px;background:linear-gradient(90deg,#e8f0f4,#eef3f5,#f3f5f6,#f6f7f7,#f7f6f5,#f7f7f7,#f4f6f7,#f4f6f6,#f4f5f6,#eff3f6,#e2edf3,#f2f5f6,#f9eee7,#fbe2d4,#f9c6ac,#ef9a7a,#dc6d57,#cf5347,#ca4842,#cb4942,#d7634f,#ed9576,#f9c3a8,#fce1d1,#f9f0eb,#f5f6f7,#f8f3f1,#fae9e0,#f9eee7,#ecf2f5,#e1ecf3,#e4eef3,#ecf2f5,#f4f5f6,#ecf2f5,#e2edf3,#eaf1f5,#ecf2f5,#e3edf3,#eaf1f5,#f8f3f0,#f9ede5,#f7f6f5,#ebf1f5,#e8f0f4,#e8f0f4,#e8f0f4,#edf2f5,#f4f6f6,#f0f4f6,#ecf2f5,#f1f4f6,#f6f7f7,#f6f7f7,#f3f5f6,#f8f4f3,#f9ece4,#f9ece4,#f8f5f3,#f5f6f7,#f7f7f7,#f3f5f6,#eff3f6,#ecf2f5,#ebf2f5,#ecf2f5,#eaf1f5,#e5eef4,#e3eef3,#e2edf3,#d8e8f1,#d9e9f1,#e5eff4,#e7eff4,#e1edf3,#e9f0f4,#f7f5f4,#f9eee7,#faebe2,#fae7dc,#fae9de,#f9f0eb,#f7f6f6,#f2f5f6,#e1edf3,#bedbeb,#9bc9e0,#8ec2dd,#8ec3dd,#78b5d5,#5aa2cb,#6fafd2,#a8d0e4,#d4e6f0,#e0ecf3,#e4eef4,#e7eff4,#ecf2f5,#eef3f5,#e3eef3,#cbe2ee,#b9d9e9,#cbe2ee,#deebf2,#f7f7f7,#fcdfce,#fcd8c3,#fcdecd,#fdd9c4,#f9c3a9,#f6b393,#f7b496,#fac9b0,#fdddca,#fae8de,#f7f6f6,#f6f7f7,#f7f5f4,#f0f4f6,#f0f4f6)"></div><div style="height:4.129px;background:linear-gradient(90deg,#eaf1f5,#f0f3f6,#f6f6f7,#f7f6f5,#f7f6f5,#f7f7f7,#f4f6f7,#f4f5f6,#f3f5f6,#eff3f5,#e4eef3,#f5f6f7,#f9eee7,#fbe4d7,#facab1,#f29f7e,#e0765e,#d7624f,#cd4f45,#c43c3c,#cc4c43,#e7866a,#f9c3a8,#fbe4d6,#f8f0ec,#f7f5f4,#f9efea,#fbe6da,#f9ece3,#eff3f5,#e2edf3,#e1edf3,#e6eff4,#eff3f5,#e9f1f4,#e4eef3,#edf2f5,#f0f4f6,#e6eff4,#edf2f5,#f9f0eb,#faeae1,#f7f5f4,#ebf1f5,#e7eff4,#e7eff4,#e8f0f4,#eff3f6,#f3f5f6,#ebf1f5,#e7f0f4,#ecf2f5,#eef3f5,#e8f0f4,#e0ecf3,#e4eef4,#f0f4f6,#f3f5f6,#ebf1f5,#e7eff4,#eaf1f5,#eaf1f5,#eef3f5,#eff3f6,#eef3f5,#edf2f5,#ebf1f5,#e5eff4,#e3edf3,#e1ecf3,#d5e7f1,#d5e7f1,#dfebf2,#dceaf2,#d6e7f1,#e1edf3,#f2f5f6,#f8f4f1,#f8f2ee,#f8f0eb,#f8f3f0,#f3f5f6,#ebf1f5,#e8f0f4,#d9e9f2,#b0d4e7,#89bfdb,#7db8d7,#83bcd9,#71b0d3,#529dc8,#64a8ce,#a1cce2,#cce2ef,#d8e8f1,#dbeaf2,#dfecf3,#e5eef4,#ebf1f5,#e6eff4,#d6e7f1,#cee3ef,#dae9f2,#e6eff4,#f7f5f4,#fddcc9,#facab2,#fbd0b9,#facbb2,#f8ba9d,#f5ae8d,#f6b191,#f9c3a9,#fddac6,#fae9e0,#f3f5f6,#f1f4f6,#f3f5f6,#e8f0f4,#e9f1f5)"></div><div style="height:4.129px;background:linear-gradient(90deg,#ebf1f5,#f2f4f6,#f7f6f5,#f8f4f2,#f7f5f4,#f7f7f7,#f4f6f6,#f3f5f6,#f3f5f6,#eff3f6,#e6eff4,#f7f5f4,#f9ede6,#fae8dd,#fdd9c4,#f6b192,#e7876b,#dc6d57,#d25849,#ca4842,#d45c4b,#ef9a79,#fcd5bf,#faebe3,#f8f2ef,#f8f3f0,#f9ece4,#fbe4d7,#faebe2,#f1f4f6,#e4eef3,#e0ecf3,#e3eef3,#eaf1f5,#e4eef4,#e2edf3,#eff3f5,#f3f5f6,#eaf1f5,#eff3f6,#f9efea,#faeae1,#f7f5f4,#eaf1f5,#e6eff4,#e6eff4,#e9f0f4,#f2f5f6,#f3f5f6,#e6eff4,#e4eef3,#eaf1f5,#e9f0f4,#dfecf3,#d3e6f0,#d5e7f1,#e0ecf3,#e5eff4,#e0ecf3,#dfecf3,#e1edf3,#e4eef4,#edf2f5,#f2f5f6,#f0f4f6,#eff3f6,#eef3f5,#e8f0f4,#e2edf3,#deebf2,#d2e6f0,#d2e5f0,#d9e9f2,#d2e5f0,#cae2ee,#dceaf2,#edf2f5,#f4f6f6,#f5f6f7,#f5f6f7,#f0f4f6,#e6eff4,#e0ecf3,#e1ecf3,#d6e7f1,#aed3e6,#87beda,#7fb9d8,#8bc0dc,#80b9d8,#62a6cd,#6fafd2,#a5cfe3,#cce2ee,#d5e7f1,#d7e8f1,#d8e8f1,#dceaf2,#e6eff4,#eaf1f5,#e3eef3,#e1edf3,#eaf1f5,#f0f4f6,#f8f1ed,#fcd4be,#f8bb9e,#f8bfa4,#f8bea1,#f6b292,#f5a987,#f5ac8b,#f8bc9f,#fcd7c2,#f9ece4,#eef3f5,#ecf2f5,#ecf2f5,#e2edf3,#e4eef4)"></div><div style="height:4.129px;background:linear-gradient(90deg,#ebf1f5,#f3f5f6,#f8f4f2,#f8f3f0,#f7f5f4,#f6f7f7,#f4f6f6,#f4f5f6,#f4f5f6,#f0f4f6,#eaf1f5,#f8f3ef,#faebe3,#fae9e0,#fce1d1,#f9c3a8,#ee9878,#e17a61,#db6c56,#da6a54,#e6856a,#f8bca0,#fbe5d9,#f8f4f2,#f7f5f4,#f8f2ee,#faebe3,#fbe5d8,#f9ece4,#f2f5f6,#e7eff4,#e2edf3,#e2edf3,#e6eff4,#dfebf2,#e0ecf3,#eef3f5,#f4f5f6,#edf2f5,#eff3f6,#f8f1ed,#f9ede5,#f7f7f7,#eaf1f5,#e5eff4,#e5eff4,#eaf1f5,#f6f7f7,#f4f6f6,#e2edf3,#e3edf3,#ebf1f5,#e8f0f4,#ddebf2,#cfe4f0,#cfe4ef,#d8e8f1,#dfecf3,#ddebf2,#ddebf2,#deebf2,#e0ecf3,#ebf1f5,#f2f4f6,#f2f5f6,#f3f5f6,#f2f5f6,#ecf2f5,#e4eef3,#dceaf2,#d0e4f0,#d2e5f0,#d8e8f1,#cae1ee,#c2ddec,#dae9f2,#e9f1f5,#eef3f5,#edf2f5,#eaf1f5,#e4eef3,#dbeaf2,#d8e8f1,#ddebf2,#d7e8f1,#b6d7e8,#93c6de,#8cc1dc,#9ac9e0,#96c7df,#7eb9d7,#89bfdb,#b2d5e7,#d3e6f0,#d9e9f2,#d9e9f2,#d4e7f1,#d4e6f1,#e2edf3,#eef3f5,#eff3f5,#f0f4f6,#f7f7f7,#f8f5f3,#f9ece3,#fac9b0,#f5ac8b,#f6b293,#f7b496,#f5ac8b,#f4a582,#f4a583,#f7b495,#fcd7c2,#f9efea,#e9f0f4,#e7eff4,#e8f0f4,#dfecf3,#e2edf3)"></div><div style="height:4.129px;background:linear-gradient(90deg,#ebf1f5,#f4f6f6,#f8f3f1,#f8f3f0,#f7f5f4,#f6f7f7,#f4f6f7,#f5f6f7,#f5f6f7,#f3f5f6,#eff3f6,#f9efe9,#fbe6d9,#fbe3d4,#fcdecc,#fac9b0,#f5aa88,#ed9475,#e98c6f,#ea8d70,#f4a885,#fcd4be,#f9f0eb,#f0f4f6,#f4f6f7,#f8f3f0,#f9ede6,#fae7dc,#f9eee7,#f3f5f6,#ebf1f5,#e6eff4,#e4eef3,#e4eef3,#dae9f2,#dceaf2,#ecf2f5,#f2f5f6,#eef3f5,#edf2f5,#f7f6f5,#f8f1ed,#f5f6f7,#eaf1f5,#e5eef4,#e5eef4,#edf2f5,#f8f4f2,#f4f6f7,#e0ecf3,#e3edf3,#ecf2f5,#e8f0f4,#ddeaf2,#d0e5f0,#cfe4ef,#d6e7f1,#deebf2,#dfecf3,#dfecf3,#deebf2,#deebf2,#e8f0f4,#eff3f6,#f3f5f6,#f7f7f7,#f6f6f7,#f0f4f6,#e7f0f4,#dceaf2,#d0e5f0,#d4e6f1,#d9e9f2,#cbe2ee,#c3deec,#dceaf2,#e9f0f4,#e9f0f4,#e3eef3,#deebf2,#d7e8f1,#cee4ef,#d0e5f0,#dbeaf2,#dae9f2,#c4deec,#a5cfe4,#9fcce2,#add3e6,#aed3e6,#a1cde2,#a7cfe4,#c4dfec,#dbeaf2,#e3edf3,#e1edf3,#d5e7f1,#cee3ef,#dfecf3,#f1f4f6,#f6f6f7,#f7f6f6,#f8f2ef,#f9f0ea,#fbe6da,#f8bea2,#f29f7e,#f5a987,#f6b090,#f5aa89,#f2a17f,#f09d7c,#f5ad8c,#fcd8c3,#f8f3f0,#e4eef4,#e2edf3,#e6eff4,#e1ecf3,#e4eef3)"></div><div style="height:4.129px;background:linear-gradient(90deg,#eaf1f5,#f3f5f6,#f8f4f2,#f8f3f1,#f7f5f4,#f6f7f7,#f5f6f7,#f6f6f7,#f7f7f6,#f6f6f7,#f5f6f7,#f9ece4,#fce1d2,#fddcc9,#fddac5,#fbd0b9,#f9c1a5,#f7b89b,#f6b394,#f5ac8b,#f7b89a,#fcdecc,#f7f6f6,#e8f0f4,#edf2f5,#f5f6f7,#f8f2ef,#f9ece4,#f9f0eb,#f4f6f6,#eef3f5,#eaf1f5,#e6eff4,#e3edf3,#d8e9f1,#d9e9f2,#e8f0f4,#f0f4f6,#edf2f5,#ebf1f5,#f2f5f6,#f7f6f5,#f4f6f7,#ebf2f5,#e5eef4,#e5eff4,#eff3f6,#f8f2ef,#f4f5f6,#ddebf2,#e2edf3,#eaf1f5,#e4eef4,#d9e9f2,#cde3ef,#cde3ef,#d3e6f0,#ddebf2,#e0ecf3,#dfecf3,#dceaf2,#dceaf2,#e2edf3,#ebf1f5,#f5f6f7,#f8f4f2,#f7f6f5,#f4f6f7,#edf2f5,#dfebf3,#d3e6f0,#d8e8f1,#deebf2,#d3e6f0,#cde3ef,#e0ecf3,#e9f1f4,#e3eef3,#d8e9f1,#d1e5f0,#c3deec,#b8d8e9,#c1ddeb,#d6e7f1,#dbeaf2,#d1e5f0,#bad9e9,#b7d8e8,#c7e0ed,#cce3ef,#c6e0ed,#c8e0ed,#d5e7f1,#e4eef4,#edf2f5,#eaf1f5,#d8e8f1,#cae1ee,#ddebf2,#f3f5f6,#f7f6f6,#f7f5f3,#f8f1ed,#f9ede5,#fce1d1,#f7b495,#ed9576,#f4a582,#f6af8e,#f5ab89,#f2a07e,#ed9676,#f4a784,#fddac6,#f7f6f5,#e1ecf3,#deebf2,#e5eff4,#e6eff4,#e8f0f4)"></div><div style="height:4.129px;background:linear-gradient(90deg,#e9f0f4,#f2f5f6,#f7f5f4,#f8f5f3,#f7f6f5,#f7f7f7,#f6f6f7,#f7f7f7,#f8f5f3,#f7f6f5,#f7f5f4,#f9ede6,#fbe5d8,#fce0d0,#fcdfcd,#fdd8c4,#faccb4,#facab2,#faccb3,#f9c5ab,#fbcdb5,#fae7dc,#edf2f5,#ddebf2,#e0ecf3,#e6eff4,#f0f4f6,#f8f2ef,#f8f3f0,#f4f6f7,#f2f4f6,#eef3f5,#e7eff4,#e3edf3,#d8e8f1,#d7e8f1,#e6eff4,#eef3f5,#ecf2f5,#e9f0f4,#ecf2f5,#f2f5f6,#f5f6f7,#eff3f5,#e7eff4,#e6eff4,#f1f4f6,#f8f3f0,#f0f4f6,#dae9f2,#ddebf2,#e1ecf3,#dae9f2,#cee4ef,#bfdceb,#c0dceb,#c8e0ed,#d6e8f1,#dceaf2,#dae9f2,#d7e8f1,#d5e7f1,#dbeaf2,#e6eff4,#f7f7f7,#f8f1ec,#f8f4f2,#f7f7f6,#f2f5f6,#e3eef3,#d6e8f1,#dceaf2,#e4eef4,#dceaf2,#d8e9f1,#e7eff4,#eaf1f5,#ddebf2,#c9e1ee,#b8d8e9,#a9d1e5,#a0cce2,#aed3e6,#cbe2ee,#d6e7f1,#d3e6f0,#c9e1ee,#cce2ef,#dbeaf2,#e1edf3,#e0ecf3,#ddebf2,#deebf2,#e9f0f4,#f2f4f6,#eef3f5,#dae9f2,#c9e1ee,#ddebf2,#f3f5f6,#f7f7f7,#f7f6f5,#f8f2ee,#f9ebe3,#fdddcb,#f5ad8d,#eb9173,#f3a280,#f6af8f,#f5ac8b,#f29f7e,#eb9173,#f4a582,#fddcc9,#f6f6f7,#dfecf3,#dbeaf2,#e5eff4,#ebf1f5,#eef3f5)"></div><div style="height:4.129px;background:linear-gradient(90deg,#e7eff4,#f1f4f6,#f7f6f6,#f7f6f5,#f7f7f7,#f6f7f7,#f6f6f7,#f7f6f5,#f8f3f0,#f8f4f1,#f8f3f1,#f8f1ed,#f9ece4,#faebe2,#f9ece4,#fae9de,#fbe4d6,#fbe6d9,#fae8dd,#fbe3d5,#fbe3d5,#f8f2ef,#e1edf3,#d2e5f0,#d1e5f0,#d5e7f1,#e2edf3,#f5f6f7,#f7f5f4,#f5f6f7,#f4f6f6,#f1f4f6,#e7eff4,#e2edf3,#d9e9f1,#d7e8f1,#e4eef4,#ecf2f5,#eaf1f5,#e8f0f4,#e8f0f4,#edf2f5,#f5f6f7,#f3f5f6,#eaf1f5,#e8f0f4,#f0f4f6,#f7f6f6,#eaf1f5,#d5e7f1,#d3e6f0,#d2e5f0,#c5dfed,#b4d6e8,#a6cfe4,#a9d1e5,#b2d5e7,#c6dfed,#d1e5f0,#cee3ef,#c7e0ed,#c7e0ed,#d3e6f0,#e3eef3,#f7f5f4,#f9eee7,#f8f2ef,#f7f5f3,#f7f7f6,#e8f0f4,#dae9f2,#dfecf3,#e9f0f4,#e6eff4,#e3eef3,#ecf2f5,#e9f0f4,#d5e7f1,#b5d7e8,#a0cce2,#91c5de,#88beda,#9ac9e0,#b8d8e9,#c8e0ed,#cae2ee,#c9e1ee,#d5e7f1,#e7eff4,#f0f4f6,#f0f3f6,#e8f0f4,#e0ecf3,#e6eff4,#eff3f5,#ecf2f5,#d9e9f1,#cbe2ee,#dfebf3,#f2f5f6,#f6f6f7,#f7f7f7,#f8f3f1,#f9ece3,#fddbc8,#f5ac8a,#ec9273,#f3a380,#f6b090,#f5ad8c,#f29f7e,#eb9072,#f4a684,#fcdfcd,#f4f6f6,#deebf2,#d8e8f1,#e5eef4,#f0f4f6,#f3f5f6)"></div><div style="height:4.129px;background:linear-gradient(90deg,#e6eff4,#f0f4f6,#f7f7f7,#f7f7f7,#f6f7f7,#f6f6f7,#f5f6f7,#f7f6f5,#f8f2ef,#f8f2ef,#f8f3f0,#f8f4f2,#f9f0eb,#f9efea,#f8f4f2,#f7f5f3,#f8f4f3,#f4f6f6,#f2f5f6,#f8f1ec,#f9ebe3,#f7f7f7,#deebf2,#cee3ef,#c6e0ed,#c8e0ed,#dceaf2,#f3f5f6,#f8f5f3,#f6f7f7,#f7f7f7,#f4f6f6,#e8f0f4,#e3edf3,#dbeaf2,#d6e8f1,#e4eef4,#ebf2f5,#e9f0f4,#e7f0f4,#e6eff4,#eaf1f5,#f4f6f6,#f6f6f7,#eef3f5,#eaf1f5,#eef3f5,#f1f4f6,#e5eef4,#d1e5f0,#c5dfed,#bbdaea,#add3e6,#9ccae1,#8dc2dc,#92c5de,#9ccae1,#b0d4e7,#bcdaea,#b4d6e8,#acd2e5,#b1d5e7,#c7e0ed,#e2edf3,#f8f3f0,#faebe3,#f8f1ed,#f8f3f0,#f8f4f1,#ebf2f5,#ddeaf2,#e2edf3,#ecf2f5,#eef3f5,#edf2f5,#f0f4f6,#e7eff4,#cce2ef,#a3cee3,#8cc1dc,#7bb7d6,#75b2d4,#8ac0db,#a7d0e4,#b3d6e7,#b6d7e8,#bedbeb,#d5e7f1,#edf2f5,#f7f6f6,#f7f7f7,#ecf2f5,#deebf2,#deebf2,#e5eff4,#e5eef4,#d5e7f1,#cde3ef,#e0ecf3,#f1f4f6,#f4f6f6,#f5f6f7,#f7f5f4,#f9ede6,#fddcc9,#f6af8f,#ef9979,#f4a683,#f6b091,#f5ad8c,#f2a07e,#ec9274,#f5ac8b,#fce1d1,#f4f6f6,#ddebf2,#d4e6f1,#e2edf3,#f1f4f6,#f7f7f7)"></div><div style="height:4.129px;background:linear-gradient(90deg,#e4eef4,#f0f4f6,#f7f7f7,#f7f7f7,#f6f7f7,#f5f6f7,#f4f6f6,#f7f7f7,#f8f3f0,#f8f2ef,#f8f4f2,#f6f6f7,#f8f2ee,#f9efe9,#f8f3f1,#f7f6f5,#f5f6f7,#ebf1f5,#e9f0f4,#f8f4f2,#f9ede5,#f7f6f5,#e5eef4,#d8e8f1,#d0e5f0,#d0e4f0,#e4eef3,#f7f5f3,#f8f1ed,#f7f5f3,#f7f5f3,#f7f7f7,#eaf1f5,#e4eef4,#dceaf2,#d7e8f1,#e5eef4,#ecf2f5,#e9f0f4,#e8f0f4,#e7eff4,#eaf1f5,#f4f6f6,#f7f6f6,#f4f5f6,#eef3f5,#edf2f5,#ecf2f5,#e3edf3,#d3e6f0,#c1ddeb,#b2d5e7,#a6cfe4,#95c7df,#83bcd9,#87beda,#94c6df,#a6cfe4,#aed3e6,#9dcae1,#90c4dd,#9ccae1,#bedbeb,#e3eef3,#f8f0eb,#fae9e0,#f9efe9,#f8f1ec,#f8f1ed,#eef3f5,#deebf2,#e3eef3,#eef3f5,#f3f5f6,#f5f6f7,#f2f5f6,#e3edf3,#c1ddeb,#96c7df,#7cb7d6,#6fafd2,#6cadd1,#81bad8,#9bcae1,#a0cce2,#9fcce2,#aed3e6,#d2e6f0,#f0f4f6,#f8f3f1,#f7f6f5,#ecf2f5,#dae9f2,#d4e7f1,#d9e9f1,#dae9f2,#d0e5f0,#d0e4f0,#e0ecf3,#eef3f5,#f3f5f6,#f4f6f7,#f6f7f7,#f8f0ec,#fcdfce,#f7b89b,#f4a582,#f5ab89,#f6b394,#f6af8e,#f3a380,#ef9979,#f6b495,#fbe4d6,#f4f5f6,#dceaf2,#d0e5f0,#dfecf3,#f1f4f6,#f7f6f6)"></div><div style="height:4.129px;background:linear-gradient(90deg,#e4eef3,#f0f4f6,#f7f7f7,#f7f7f7,#f6f7f7,#f4f6f7,#f2f4f6,#f4f5f6,#f7f5f3,#f8f3f0,#f7f6f5,#f2f4f6,#f8f4f1,#f9efea,#f8f3f0,#f7f5f4,#f2f5f6,#e5eef4,#e5eef4,#f7f5f3,#faebe2,#f8f1ec,#f2f5f6,#e8f0f4,#ddebf2,#dceaf2,#f0f4f6,#f9eee7,#f9eee7,#f8f3f0,#f8f4f2,#f7f5f4,#eff3f5,#e8f0f4,#dfecf3,#dae9f2,#e8f0f4,#eef3f5,#eaf1f5,#ecf2f5,#ecf2f5,#eff3f6,#f6f7f7,#f8f4f2,#f8f4f2,#f6f7f7,#f1f4f6,#ecf2f5,#e7f0f4,#dbeaf2,#cae1ee,#bbdaea,#b2d5e7,#a3cee3,#94c6df,#96c7df,#a0cce2,#aed3e6,#aad1e5,#88bfdb,#72b0d3,#8bc0dc,#bbdaea,#e7eff4,#f9eee8,#fae8dd,#f9ece4,#f9eee7,#f9efea,#eff3f6,#e0ecf3,#e4eef3,#eff3f6,#f7f7f7,#f7f5f4,#f2f5f6,#deebf2,#b9d9e9,#8ec2dd,#74b2d4,#6cadd1,#6cadd1,#7eb9d7,#94c6df,#93c5de,#8bc1dc,#a0cce2,#cee3ef,#f1f4f6,#f8f3f0,#f7f6f6,#ebf2f5,#d8e9f1,#cae1ee,#cae1ee,#cee4ef,#c9e1ee,#d2e5f0,#e0ecf3,#ebf1f5,#f1f4f6,#f3f5f6,#f3f5f6,#f8f4f2,#fbe3d5,#f9c5aa,#f6b191,#f6b292,#f7b89b,#f6b495,#f5a987,#f3a481,#f8bea2,#fbe6db,#f4f5f6,#dceaf2,#cee3ef,#deebf2,#f1f4f6,#f7f6f5)"></div><div style="height:4.129px;background:linear-gradient(90deg,#e3edf3,#eff3f6,#f7f7f7,#f7f7f6,#f7f7f7,#f4f5f6,#eff3f6,#f0f4f6,#f7f7f7,#f8f4f2,#f7f6f6,#f0f4f6,#f7f6f5,#f8f2ee,#f7f5f4,#f7f7f7,#eef3f5,#dfecf3,#e2edf3,#f8f2ef,#fbe6da,#fae9df,#f9efea,#f7f6f6,#eaf1f5,#e8f0f4,#f8f3f0,#fae8dd,#f9ece4,#f8f3f0,#f8f4f2,#f8f4f1,#f5f6f7,#ecf2f5,#e3edf3,#dfebf2,#ecf2f5,#f3f5f6,#eff3f6,#f3f5f6,#f7f7f7,#f7f5f3,#f8f3ef,#f8f0ec,#f9ede6,#f9eee8,#f8f5f3,#f4f5f6,#f1f4f6,#e6eff4,#d7e8f1,#cde3ef,#c7e0ed,#bbdaea,#afd4e6,#afd4e6,#b8d8e9,#bfdceb,#abd2e5,#72b1d3,#569fc9,#7cb7d6,#bbdaea,#eaf1f5,#f9ede6,#fbe7db,#fae8de,#fae9e0,#f9ede5,#f1f4f6,#e1edf3,#e5eef4,#f1f4f6,#f8f4f2,#f8f3f0,#f1f4f6,#dbeaf2,#b4d6e8,#8bc1dc,#73b1d3,#6fafd2,#6eafd2,#7cb7d7,#8dc2dc,#85bdda,#7bb6d6,#95c7df,#c9e1ee,#eff3f6,#f8f4f2,#f5f6f7,#ebf1f5,#dae9f2,#c5dfec,#bcdbea,#c1ddeb,#c5dfed,#d3e6f0,#deebf2,#e6eff4,#eff3f6,#f2f5f6,#f1f4f6,#f7f6f5,#fbe6db,#fbcfb8,#f8bb9e,#f7b89a,#f8bda1,#f7ba9d,#f6b090,#f5ad8c,#fac7ad,#fae8dd,#f6f6f7,#dfecf3,#d2e5f0,#e0ecf3,#f2f5f6,#f7f5f4)"></div><div style="height:4.129px;background:linear-gradient(90deg,#e2edf3,#eff3f5,#f7f7f7,#f7f6f6,#f7f7f7,#f3f5f6,#eef3f5,#edf2f5,#f4f5f6,#f7f5f3,#f7f5f3,#f2f4f6,#f6f7f7,#f7f7f6,#f3f5f6,#f3f5f6,#e9f1f4,#dbeaf2,#e3eef3,#f9eee8,#fce1d1,#fce1d2,#fbe4d6,#fae9df,#f7f5f3,#f7f7f7,#fae9e0,#fbe3d4,#faebe3,#f8f4f2,#f7f6f5,#f8f3f0,#f8f4f3,#f0f4f6,#e6eff4,#e4eef4,#f3f5f6,#f7f5f4,#f7f7f7,#f8f2ef,#f9ece4,#fae9df,#faeae1,#faeae0,#fbe4d7,#fbe3d5,#faeae0,#f8f0eb,#f8f2ef,#f2f4f6,#e0ecf3,#d9e9f1,#d6e7f1,#d1e5f0,#c8e1ee,#c7e0ed,#cee4ef,#cee4ef,#a9d1e5,#5aa1cb,#3f8ec1,#6eaed2,#bcdaea,#edf2f5,#f9ece4,#fbe4d7,#fbe3d5,#fbe3d5,#fae8dd,#f4f6f6,#e3edf3,#e6eff4,#f4f5f6,#f8f1ed,#f8f1ed,#f1f4f6,#d8e8f1,#b1d5e7,#8bc1dc,#75b3d4,#73b1d3,#6eaed2,#74b2d4,#80b9d8,#78b5d5,#70b0d3,#8ec2dd,#c5dfed,#edf2f5,#f6f7f7,#f0f4f6,#eaf1f5,#deebf2,#c9e1ee,#b9d9e9,#bddbea,#c7e0ed,#d4e7f1,#dbeaf2,#e1edf3,#edf2f5,#f1f4f6,#f1f4f6,#f8f4f2,#fbe5d9,#fbd0b9,#f8bc9f,#f7b597,#f8bb9e,#f7ba9d,#f6b292,#f6b090,#fac7ad,#fbe4d6,#f8f2ef,#e8f0f4,#dceaf2,#e8f0f4,#f7f7f7,#f8f2ef)"></div><div style="height:4.129px;background:linear-gradient(90deg,#e1ecf3,#eef3f5,#f7f7f7,#f7f6f5,#f7f7f7,#f3f5f6,#edf2f5,#ecf2f5,#f2f5f6,#f7f5f4,#f8f2ee,#f6f6f7,#f4f5f6,#f0f3f6,#ecf2f5,#edf2f5,#e6eff4,#dae9f2,#e7f0f4,#fae9df,#fddbc7,#fdd9c4,#fcd4bf,#fcd7c2,#fbe5d8,#fae9de,#fcdfce,#fdddca,#fae9e0,#f7f5f4,#f4f5f6,#f7f5f4,#f8f3f0,#f3f5f6,#e9f0f4,#eaf1f5,#f7f5f4,#f9f0eb,#f8f1ec,#faeae0,#fce0cf,#fddcc9,#fce0cf,#fbe2d3,#fddcca,#fcd5c0,#fcddcb,#fbe6d9,#fae9e0,#f8f5f3,#e7eff4,#deebf2,#dceaf2,#d8e9f1,#d6e7f1,#d5e7f1,#d7e8f1,#d4e6f1,#a2cde3,#4292c3,#3581ba,#63a7ce,#bddbea,#f0f4f6,#faebe2,#fce2d2,#fdddca,#fddbc7,#fce2d2,#f7f6f5,#e5eff4,#e9f0f4,#f7f7f6,#f9eee8,#f8f0eb,#f1f4f6,#d7e8f1,#afd4e6,#8ac0db,#75b3d4,#70afd2,#63a7ce,#5fa5cd,#68aad0,#66a9cf,#67aacf,#88bfdb,#c1ddeb,#e9f1f4,#f2f4f6,#ebf1f5,#eaf1f5,#e5eef4,#d5e7f1,#c2ddec,#c2ddec,#cde3ef,#d6e7f1,#d8e8f1,#deebf2,#ecf2f5,#f2f5f6,#f7f7f7,#f9ece5,#fdddca,#f9c2a8,#f6ae8e,#f4a785,#f6ae8e,#f6b090,#f5ac8b,#f5ab8a,#f8bb9f,#fdd9c4,#fae7dc,#f7f6f5,#eff3f6,#f7f6f5,#f9f0eb,#f9eee7)"></div><div style="height:4.129px;background:linear-gradient(90deg,#e0ecf3,#edf2f5,#f7f7f7,#f7f6f5,#f7f7f7,#f2f5f6,#edf2f5,#ecf2f5,#f2f4f6,#f7f5f4,#f9efe8,#f8f4f3,#f1f4f6,#e7eff4,#e4eef3,#e8f0f4,#e3eef3,#ddeaf2,#f0f4f6,#fce1d1,#fbcdb5,#fac7ae,#f8bb9e,#f7b597,#fac9b1,#fcd7c2,#fbcfb8,#fcd4be,#fae7dc,#f7f7f7,#e9f1f4,#edf2f5,#f7f6f5,#f2f5f6,#eaf1f5,#eef3f5,#f8f1ed,#f9ece3,#f9ece4,#fbe4d6,#fcd3bd,#fac9b1,#fcd3bd,#fddcc9,#fcd4bf,#fac6ad,#faccb3,#fddcc9,#fbe2d4,#f8f1ec,#eaf1f5,#e1edf3,#ddebf2,#dceaf2,#dceaf2,#dbeaf2,#dbeaf2,#d6e7f1,#9dcbe1,#3c89be,#3079b6,#5ca3cb,#bfdceb,#f2f5f6,#faeae0,#fcdfcd,#fcd3bd,#faccb3,#fddbc7,#f8f2ee,#e9f0f4,#ecf2f5,#f8f3f1,#f9ebe3,#f9efe9,#f2f5f6,#d7e8f1,#abd2e5,#84bcd9,#6daed2,#60a6cd,#4896c5,#408ec1,#4393c3,#4c98c6,#5ba2cb,#82bbd9,#bedceb,#e7eff4,#eef3f5,#e8f0f4,#eaf1f5,#ecf2f5,#e0ecf3,#d2e5f0,#d0e4f0,#d4e7f1,#d7e8f1,#d7e8f1,#ddebf2,#eef3f5,#f7f6f5,#f9eee8,#fcdfce,#f9c2a7,#f4a886,#ec9274,#e98c6f,#ef9979,#f2a17f,#f2a07e,#f2a07e,#f5aa88,#f8bfa3,#fcd7c2,#fbe6d9,#faebe2,#fbe6da,#fbe5d8,#fae7dc)"></div><div style="height:4.129px;background:linear-gradient(90deg,#dfecf3,#edf2f5,#f6f7f7,#f7f6f5,#f7f7f7,#f2f5f6,#eef3f5,#eef3f5,#f3f5f6,#f7f5f3,#f9ece5,#f8f3ef,#eef3f5,#dfecf3,#ddebf2,#e4eef3,#e2edf3,#e1edf3,#f7f5f4,#fdd9c4,#f9c1a6,#f7ba9d,#f5a886,#ef9979,#f6ae8e,#f9c3a8,#f9c6ac,#fbcfb8,#fbe5d9,#f3f5f6,#d5e7f1,#d3e6f0,#edf2f5,#eff3f6,#e9f0f4,#eff3f6,#f9f0eb,#faeae1,#faebe2,#fbe3d4,#fbcfb8,#f9c3a8,#fbcdb5,#fdd9c5,#fcd5bf,#f9c3a8,#f9c0a5,#fbd1ba,#fcdfcd,#f9f0ea,#ecf2f5,#e3edf3,#deebf2,#ddebf2,#dfecf3,#deebf2,#ddebf2,#d7e8f1,#9ecbe1,#3d8abf,#307ab6,#5ca3cb,#c2ddec,#f4f6f7,#fae9df,#fdddcb,#fbcdb5,#f9c2a7,#fcd3bd,#f9f0ea,#ecf2f5,#eff3f6,#f8f1ec,#faeae0,#f9eee8,#f4f6f6,#d8e8f1,#a5cfe4,#78b4d5,#5da4cc,#4695c4,#3581ba,#2d75b4,#317bb7,#3a87bd,#4d99c6,#7eb8d7,#bfdceb,#e7f0f4,#eef3f5,#e7eff4,#ecf2f5,#f5f6f7,#edf2f5,#deebf2,#dae9f2,#dbeaf2,#d9e9f2,#d9e9f1,#e1edf3,#f5f6f7,#f9eee8,#fbe3d5,#f9c4aa,#f19e7d,#e48166,#dd715a,#dd715a,#e68468,#eb9172,#ed9475,#ed9475,#ee9878,#f4a785,#f8bda0,#fbd1ba,#fcd6c1,#fbd1ba,#fdd8c4,#fce1d1)"></div><div style="height:4.129px;background:linear-gradient(90deg,#e0ecf3,#edf2f5,#f6f7f7,#f7f6f5,#f7f7f7,#f3f5f6,#eff3f6,#f0f4f6,#f5f6f7,#f8f4f3,#f9ece4,#f8f3f0,#eaf1f5,#d8e8f1,#d7e8f1,#e0ecf3,#e1ecf3,#e4eef3,#f8f3ef,#fcd8c3,#f9c4aa,#f8bfa4,#f5ac8b,#ee9878,#f5aa88,#f9c3a9,#fbccb4,#fcd4bf,#fbe6da,#edf2f5,#a8d0e4,#95c7df,#dae9f2,#eaf1f5,#e6eff4,#edf2f5,#f8f1ed,#f9ebe3,#f9eee8,#fae8dd,#fddac6,#fbcdb5,#fcd3bd,#fcddcb,#fdddca,#facbb2,#f9c1a6,#fbceb6,#fcdfce,#f8f2ee,#ebf1f5,#e4eef4,#deebf2,#deebf2,#e1edf3,#e1ecf3,#dfecf3,#dae9f2,#a8d0e4,#4796c5,#3885bc,#64a8ce,#c6dfed,#f5f6f7,#fae9e0,#fcdecd,#fbceb7,#f9c2a7,#fcd5bf,#f8f1ec,#edf2f5,#f2f5f6,#f9efe9,#fae9df,#f9eee8,#f6f6f7,#d9e9f1,#9fcce2,#69abd0,#4a98c6,#3885bc,#276eb0,#1f61a6,#2369ae,#307ab6,#4494c3,#80bad8,#c4deec,#eaf1f5,#f0f4f6,#e9f0f4,#f0f4f6,#f8f3f0,#f7f7f7,#e8f0f4,#e3edf3,#e2edf3,#ddebf2,#deebf2,#eaf1f5,#f8f1ed,#fbe6da,#fcd6c1,#f5aa88,#e17960,#d55e4c,#d15548,#d55e4c,#e0765e,#e7876b,#e98c6f,#e98c6f,#e88a6d,#ec9374,#f5a987,#f7b99b,#f8ba9d,#f7b799,#f9c5ab,#fddbc7)"></div><div style="height:4.129px;background:linear-gradient(90deg,#e3edf3,#eef3f5,#f6f6f7,#f7f6f6,#f7f6f6,#f5f6f7,#f2f5f6,#f4f5f6,#f7f7f7,#f8f4f2,#f9eee7,#f7f5f4,#e6eff4,#d4e6f0,#d3e6f0,#dceaf2,#deebf2,#e2edf3,#f7f5f4,#fce1d1,#fdd9c5,#fdd9c4,#f9c6ac,#f6b292,#f8bc9f,#fcd7c1,#fcdecb,#fcdfcd,#fae9df,#e7f0f4,#7fb9d7,#559fc9,#c6dfed,#e5eef4,#e3edf3,#e9f0f4,#f8f4f1,#f9eee7,#f8f3f0,#f8f1ec,#fbe6da,#fcdfcd,#fce0cf,#fbe4d6,#fbe4d6,#fddac6,#facbb3,#fcd3bd,#fbe3d5,#f7f7f7,#e8f0f4,#e5eef4,#dfecf3,#e0ecf3,#e4eef3,#e2edf3,#e1edf3,#deebf2,#b9d9e9,#68aad0,#4796c4,#74b2d4,#cbe2ee,#f5f6f7,#f9ece5,#fbe3d5,#fdd9c5,#fbceb7,#fcdfcd,#f7f5f3,#ebf2f5,#f4f5f6,#f9eee8,#faeae1,#f9efe9,#f7f7f6,#dae9f2,#9ac9e0,#5ca3cc,#408fc1,#317cb7,#2167ac,#1b5b9d,#2065aa,#2f78b5,#4997c5,#8bc1dc,#cde3ef,#f0f3f6,#f5f6f7,#eef3f5,#f5f6f7,#f9efe9,#f8f2ee,#eef3f5,#e7f0f4,#e5eff4,#e2edf3,#e7eff4,#f6f6f7,#fae9de,#fcdecb,#f9c5ab,#ec9273,#d45c4b,#c7423f,#c6413e,#cf5247,#dc6e58,#e58267,#e6866a,#e68469,#e48065,#e68469,#ee9677,#f4a582,#f4a582,#f4a481,#f7b799,#fcd4be)"></div><div style="height:4.129px;background:linear-gradient(90deg,#e6eff4,#eff3f6,#f5f6f7,#f7f7f6,#f7f5f4,#f7f7f7,#f5f6f7,#f7f7f7,#f7f5f4,#f8f4f3,#f8f0eb,#f5f6f7,#e1edf3,#cfe4ef,#cfe4f0,#d8e8f1,#d8e9f1,#ddebf2,#f0f4f6,#f9ede5,#fae9df,#faeae1,#fce1d1,#fbcfb8,#fcd6c0,#fbe6d9,#fae9df,#fbe6db,#f9ece4,#e8f0f4,#7eb8d7,#4b98c6,#bddbea,#e0ecf3,#dfecf3,#e5eff4,#f7f6f5,#f9efea,#f7f6f5,#f6f6f7,#f8f0ec,#fae9df,#fae7db,#fae8de,#fae9df,#fbe2d4,#fdd9c5,#fdddca,#faeae1,#edf2f5,#e4eef3,#e5eef4,#e0ecf3,#e2edf3,#e5eff4,#e4eef3,#e3edf3,#e3edf3,#cbe2ee,#8dc2dc,#6bacd1,#8ac0db,#d2e5f0,#f4f5f6,#f8f1ed,#faeae1,#fbe3d4,#fcdfce,#faeae0,#f1f4f6,#e8f0f4,#f2f5f6,#f8f1ec,#f9ede5,#f9efe9,#f7f5f4,#dbeaf2,#97c8e0,#539dc8,#3b89be,#2e78b5,#2267ad,#1e60a4,#246aae,#347fb9,#58a0ca,#9ac9e0,#d5e7f1,#f6f6f7,#f8f4f1,#f4f6f7,#f7f5f3,#f9ede5,#f9f0ea,#f1f4f6,#e8f0f4,#e6eff4,#e6eff4,#f1f4f6,#f9efe8,#fcdfcf,#fbceb6,#f6b090,#de725b,#c13639,#b31a2c,#b72230,#c53f3d,#d65f4d,#df755d,#e0785f,#de735c,#db6a55,#da6a54,#df745c,#e37d63,#e37e64,#e68569,#f4a582,#facbb2)"></div><div style="height:4.129px;background:linear-gradient(90deg,#eaf1f5,#f1f4f6,#f5f6f7,#f7f6f6,#f8f4f2,#f7f5f3,#f7f6f5,#f7f5f3,#f8f4f3,#f7f5f4,#f8f4f2,#eff3f5,#dbeaf2,#c7e0ed,#c6dfed,#d0e4f0,#cfe4ef,#d4e6f1,#e4eef3,#f4f5f6,#f7f6f5,#f7f6f5,#f9ebe3,#fcdfce,#fce1d1,#f9eee7,#f9f0eb,#faebe2,#f9ece4,#f0f4f6,#a7d0e4,#7eb8d7,#cae2ee,#e0ecf3,#deebf2,#e4eef3,#f7f6f5,#f9ede5,#f8f2ef,#f7f7f7,#f8f2ee,#fae9e0,#fbe5d9,#fbe4d7,#fbe7db,#fbe5d8,#fcdfcf,#fbe2d3,#f8f1ed,#e3eef3,#dfebf3,#e4eef3,#e1edf3,#e3eef3,#e7eff4,#e5eef4,#e4eef3,#e5eff4,#d7e8f1,#aad1e5,#8fc3dd,#a0cce2,#d7e8f1,#f1f4f6,#f7f6f5,#f8f1ed,#f9ebe3,#faebe3,#f7f5f4,#e9f0f4,#e3eef3,#ecf2f5,#f7f7f7,#f8f2ee,#f9f0eb,#f8f4f2,#ddebf2,#98c8e0,#4e9ac7,#3985bc,#2d76b4,#246aae,#2166ac,#2970b1,#3a87bd,#6aabd0,#a7d0e4,#dceaf2,#f8f4f1,#f9efe9,#f8f4f1,#f8f1ec,#f9ece4,#f9efea,#f1f4f6,#e6eff4,#e5eef4,#eaf1f5,#f8f4f2,#fbe4d6,#fbceb6,#f6b192,#e48166,#bf3237,#830923,#67001f,#750521,#a41429,#c03438,#cd4e44,#cf5146,#c94641,#c03438,#ba2933,#ba2833,#bb2a34,#bf3237,#c94741,#e17a61,#f7b799)"></div><div style="height:4.129px;background:linear-gradient(90deg,#edf2f5,#f2f5f6,#f6f6f7,#f7f6f4,#f8f3ef,#f8f3f1,#f8f4f2,#f8f3f0,#f8f4f2,#f6f7f7,#f4f6f6,#e7eff4,#d2e6f0,#b6d7e8,#b2d5e7,#b9d9e9,#b9d9e9,#c2deec,#d6e7f1,#e5eff4,#eff3f5,#f5f6f7,#faebe3,#fcdecc,#fcdecc,#faeae0,#faebe2,#fbe5d8,#fbe4d7,#f9eee8,#ddebf2,#c6e0ed,#e1edf3,#e6eff4,#e2edf3,#e8f0f4,#f8f2ef,#fbe5d8,#fae8de,#f9ede6,#fae7dc,#fdddca,#fcd4be,#fbd1ba,#fdd9c4,#fcdfce,#fcdfcd,#fbe3d5,#f7f5f3,#deebf2,#dceaf2,#e4eef4,#e3edf3,#e5eff4,#e8f0f4,#e7f0f4,#e6eff4,#e7f0f4,#ddebf2,#c1ddeb,#aad1e5,#b5d7e8,#dceaf2,#eff3f6,#f2f5f6,#f6f7f7,#f8f3f0,#f7f5f3,#edf2f5,#e3edf3,#ddebf2,#e0ecf3,#e7eff4,#f3f5f6,#f8f2ee,#f8f2ef,#e2edf3,#a1cde2,#5ba2cb,#3e8dc0,#347fb9,#2b73b3,#2870b1,#317bb7,#4594c4,#80bad8,#b4d6e8,#e1ecf3,#f9f0ea,#faeae1,#f9efe8,#f9ede6,#f9ece4,#f8f1ec,#eff3f6,#e2edf3,#e1edf3,#eaf1f5,#f9efe9,#fddcc9,#f8bfa3,#ef9a7a,#d25849,#960f26,#67001f,#67001f,#67001f,#6d0220,#9c1127,#b51e2e,#b72330,#ac162a,#920e26,#810823,#7b0722,#7b0622,#880b24,#aa162a,#d05447,#f4a683)"></div><div style="height:4.129px;background:linear-gradient(90deg,#eef3f5,#f3f5f6,#f7f7f7,#f8f4f3,#f8f1ed,#f8f2ef,#f8f3f0,#f8f2ee,#f7f5f3,#f2f5f6,#ecf2f5,#dfebf3,#c0dceb,#9dcae1,#95c6df,#9ac9e0,#9dcbe1,#acd2e6,#c5dfed,#dbeaf2,#edf2f5,#f8f2ef,#fce1d1,#fac9af,#f9c5ab,#fcd7c2,#fdd9c4,#fbcfb8,#fbcdb6,#fdd9c4,#f9ece5,#f6f6f7,#f8f4f1,#f5f6f7,#edf2f5,#f1f4f6,#f9ebe3,#fddbc8,#fdddca,#fbe2d4,#fddbc8,#f9c5ab,#f7b89b,#f6b394,#f8ba9d,#faccb4,#fcd5bf,#fce0cf,#f8f4f2,#dfebf3,#deebf2,#e8f0f4,#e8f0f4,#eaf1f5,#ecf2f5,#ebf1f5,#e9f0f4,#e9f1f4,#e3edf3,#d2e6f0,#c0dceb,#c9e1ee,#e0ecf3,#edf2f5,#edf2f5,#f1f4f6,#f6f7f7,#f1f4f6,#e6eff4,#e0ecf3,#d8e8f1,#d1e5f0,#d3e6f0,#e6eff4,#f8f4f2,#f8f0eb,#eaf1f5,#b8d8e9,#83bbd9,#66a9cf,#509bc7,#408fc1,#3c8abe,#4494c3,#70afd2,#9fcce2,#c4deec,#e6eff4,#f9ede5,#fbe7db,#faeae1,#faeae0,#f9ede6,#f8f3f1,#ebf1f5,#dbeaf2,#d9e9f1,#e4eef3,#f8f1ed,#fce0cf,#fbd0b8,#f7b495,#e37d63,#bc2c35,#7c0722,#67001f,#67001f,#8a0b25,#ae172a,#ba2833,#bc2c35,#b51d2e,#a31329,#9e1128,#a51429,#ac162a,#b31b2c,#bf3237,#db6b56,#f6b394)"></div><div style="height:4.129px;background:linear-gradient(90deg,#edf2f5,#f4f6f7,#f7f6f6,#f8f3f1,#f8f0eb,#f8f2ef,#f8f2ef,#f8f1ed,#f7f6f6,#eef3f5,#e5eef4,#d9e9f1,#b1d5e7,#82bbd9,#73b1d3,#7ab6d6,#82bbd8,#9ac9e0,#b3d6e7,#d1e5f0,#eaf1f5,#f9eee8,#fdd9c5,#f8ba9d,#f6b293,#f9c1a5,#f9c2a7,#f8bb9f,#f8bc9f,#f9c5ab,#fcdecb,#fae8dd,#faeae1,#f8f3f0,#f2f5f6,#f4f5f6,#faebe2,#fdd8c4,#fddcc8,#fbe4d6,#fcdecd,#facbb3,#f8bda1,#f6b292,#f6b191,#f9c1a5,#fbceb6,#fcdfcd,#f8f5f3,#deebf2,#dfecf3,#ecf2f5,#eef3f5,#eff3f6,#f0f4f6,#eff3f6,#ecf2f5,#edf2f5,#e8f0f4,#dae9f2,#d1e5f0,#d6e7f1,#e4eef3,#eaf1f5,#e9f0f4,#edf2f5,#f2f5f6,#eef3f5,#e5eff4,#e2edf3,#d6e7f1,#bedceb,#bcdaea,#dceaf2,#f7f7f6,#f9efe9,#f3f5f6,#d4e6f1,#b2d5e7,#a1cde2,#91c5de,#7fb9d8,#75b3d4,#82bbd9,#a3cee3,#bedbeb,#d2e6f0,#e9f0f4,#f9ece4,#fbe5d9,#fae7db,#fae7db,#f9eee8,#f7f7f7,#e5eef4,#d2e6f0,#cbe2ee,#d8e8f1,#f5f6f7,#faeae0,#fae7db,#fce0d0,#f9c3a8,#eb9172,#d35a4a,#c03338,#bc2b34,#c6403e,#d05548,#d55e4c,#d7614e,#d25749,#cd4d44,#d25849,#de725b,#e58267,#e58468,#e68469,#f4a683,#fcd3bd)"></div><div style="height:4.129px;background:linear-gradient(90deg,#ecf2f5,#f6f6f7,#f7f5f4,#f8f2ef,#f9f0ea,#f8f2ef,#f8f2ee,#f8f1ec,#f7f7f7,#eaf1f5,#e2edf3,#d8e8f1,#acd2e5,#74b2d4,#61a6cd,#68aad0,#72b1d3,#8ec3dd,#a2cde2,#bad9e9,#deebf2,#f7f5f4,#fbe3d5,#fbcfb8,#f9c6ac,#fbd0b9,#fbd0b9,#fbccb4,#fbcfb7,#fcd7c2,#fbe5d9,#f9efe8,#f8f1ec,#f4f6f6,#e9f1f5,#e8f0f4,#f7f5f3,#fbe2d4,#fbe5d8,#f9f0eb,#f9eee7,#fbe6d9,#fcdfcd,#fbd1ba,#fac7ad,#fbd0b9,#fddcc9,#fae8dd,#eff3f5,#d6e7f1,#dae9f2,#ecf2f5,#f0f4f6,#f1f4f6,#f0f4f6,#eff3f6,#eef3f5,#f0f4f6,#ecf2f5,#e0ecf3,#dae9f2,#deebf2,#e6eff4,#e9f0f4,#e6eff4,#eaf1f5,#f0f4f6,#edf2f5,#e9f0f4,#e8f0f4,#dae9f2,#bedbeb,#b8d9e9,#dbeaf2,#f7f7f7,#f9eee8,#f8f5f3,#e4eef4,#d6e7f1,#cde3ef,#bfdceb,#b3d6e7,#add3e6,#b5d7e8,#cae2ee,#d4e6f1,#d7e8f1,#e8f0f4,#f9efe8,#fae7dc,#fbe6d9,#fbe5d9,#f9efe9,#f2f5f6,#deebf2,#c4deec,#b9d9e9,#cde3ef,#ecf2f5,#f8f1ed,#f8f4f2,#f8f2ef,#fbe5d8,#facab2,#f5a987,#e7876b,#de725b,#e0775f,#e6866a,#e88a6e,#e98b6e,#e7866a,#e58368,#ec9273,#f6b293,#fac8ae,#f9c6ac,#f8ba9d,#fac8af,#fbe3d4)"></div><div style="height:4.129px;background:linear-gradient(90deg,#ecf2f5,#f7f7f7,#f8f4f1,#f8f1ed,#f9efea,#f8f2ef,#f8f2ee,#f8f1ec,#f4f6f6,#e5eff4,#dceaf2,#d3e6f0,#9ccae1,#539dc8,#3e8cbf,#3e8dc0,#4393c3,#5fa5cd,#73b1d3,#8ec3dd,#bedbea,#e1edf3,#f7f7f7,#faebe2,#fbe5d9,#fae8dd,#fbe5d9,#fbe3d5,#fbe5d7,#fae9de,#f8f4f2,#f1f4f6,#f2f5f6,#ebf1f5,#e1ecf3,#dceaf2,#eaf1f5,#f9ede6,#f9efe9,#f1f4f6,#f0f4f6,#f6f7f7,#f8f2ef,#fae9df,#fce1d2,#fbe4d6,#faebe3,#f7f7f7,#dbeaf2,#c0ddeb,#d0e4f0,#e7eff4,#edf2f5,#ecf2f5,#e9f0f4,#e9f1f4,#edf2f5,#f3f5f6,#f0f4f6,#e5eef4,#e1ecf3,#e5eef4,#e9f0f4,#e8f0f4,#e4eef3,#e7eff4,#eef3f5,#eff3f6,#f0f4f6,#f2f5f6,#e6eff4,#d2e5f0,#cfe4ef,#e6eff4,#f8f3f0,#faebe2,#f9efe8,#f3f5f6,#e9f0f4,#e2edf3,#d8e8f1,#d3e6f0,#d3e6f0,#d6e8f1,#deebf2,#dceaf2,#d7e8f1,#e3edf3,#f7f6f5,#f9efe9,#faebe3,#faebe3,#f7f7f7,#e5eef4,#cce3ef,#a5cfe4,#9bcae1,#b5d7e8,#e1edf3,#f6f6f7,#eff3f6,#eef3f5,#f8f2ef,#fbe3d5,#fbd1bb,#f7b89a,#f2a07e,#f19e7c,#f5ad8c,#f6b191,#f6af8f,#f6ae8e,#f6ae8e,#f7b698,#fcd4be,#fbe6da,#fbe5d8,#fdd9c5,#fddcc9,#fae9e0)"></div><div style="height:4.129px;background:linear-gradient(90deg,#ecf2f5,#f7f6f6,#f8f3f0,#f8f1ed,#f9efea,#f8f3f0,#f8f2ef,#f8f2ee,#eff3f6,#ddebf2,#cfe4f0,#bbdaea,#6aacd0,#2971b1,#175291,#144c88,#175291,#2268ad,#2d76b4,#3b89be,#6fafd2,#a2cde3,#bcdaea,#cae2ee,#cfe4f0,#cae2ee,#d4e7f1,#dceaf2,#dfecf3,#e0ecf3,#d6e7f1,#d1e5f0,#d8e8f1,#d6e7f1,#c7e0ed,#b8d8e9,#cde3ef,#edf2f5,#f0f4f6,#e3edf3,#e2edf3,#e6eff4,#ecf2f5,#f7f6f5,#f9ede6,#f9eee8,#f7f7f7,#e6eff4,#cae1ee,#aed3e6,#c3deec,#e1edf3,#e7f0f4,#e5eef4,#deebf2,#e0ecf3,#eaf1f5,#f4f5f6,#f3f5f6,#e8f0f4,#e6eff4,#eaf1f5,#ebf1f5,#e8f0f4,#e3edf3,#e5eff4,#edf2f5,#f2f5f6,#f7f7f6,#f8f2ef,#f4f6f6,#e4eef4,#e5eff4,#f7f5f4,#faebe2,#fbe5d8,#fae7dc,#f8f1ed,#f7f7f7,#eef3f5,#e4eef3,#e1edf3,#e3eef3,#e6eff4,#e8f0f4,#ddeaf2,#cfe4ef,#d6e7f1,#e4eef3,#e8f0f4,#e9f0f4,#e3eef3,#cae1ee,#a4cee3,#74b2d4,#4393c3,#4292c2,#73b1d3,#bedceb,#e2edf3,#dfecf3,#dfecf3,#eef3f5,#f8f2ee,#fae8dd,#fddcc9,#f9c4aa,#f8c0a4,#fbd2bb,#fcd7c2,#fcd3bd,#fcd5c0,#fcd7c1,#fdd8c3,#fae7dc,#f6f7f7,#f7f6f5,#fae7db,#fbe4d7,#f9ede6)"></div><div style="height:4.129px;background:linear-gradient(90deg,#ecf2f5,#f7f6f5,#f8f2ee,#f8f1ec,#f9efe9,#f8f2ef,#f8f1ee,#f8f1ec,#f1f4f6,#e0ecf3,#d8e8f1,#d2e5f0,#91c4de,#3d8bbf,#2b73b3,#2870b1,#2c74b3,#3682ba,#3a87bd,#3e8dc0,#5ba2cb,#74b2d4,#72b1d3,#64a8ce,#539dc8,#4393c3,#539dc9,#6bacd1,#80bad8,#8fc3dd,#84bcd9,#81bad8,#92c5de,#8ec3dd,#74b2d4,#5ca3cc,#7ab6d6,#bedbeb,#d2e5f0,#cce2ee,#d3e6f0,#dae9f2,#e3edf3,#f1f4f6,#f8f3f0,#f8f3f0,#f1f4f6,#dfecf3,#c1ddeb,#a8d0e4,#bfdceb,#dfecf3,#e4eef3,#deebf2,#d5e7f1,#d9e9f1,#e7eff4,#f4f6f6,#f4f6f6,#eaf1f5,#eaf1f5,#eef3f5,#eef3f5,#e8f0f4,#e3edf3,#e4eef3,#ecf2f5,#f3f5f6,#f8f4f1,#f9eee8,#f8f4f1,#eef3f5,#f1f4f6,#f9f0ea,#fae9df,#fbe4d7,#fbe6da,#f9eee8,#f8f3f1,#f3f5f6,#e9f0f4,#e8f0f4,#edf2f5,#eef3f5,#ecf2f5,#dceaf2,#c6dfed,#c9e1ee,#d4e6f1,#d4e6f1,#d2e5f0,#c1ddeb,#94c6df,#5fa5cd,#3783bb,#2267ad,#256bae,#408fc1,#9dcbe1,#d4e6f1,#d5e7f1,#d6e7f1,#e4eef3,#f1f4f6,#f8f4f3,#faebe3,#fcdfcd,#fdddca,#fae8de,#f9ece5,#faeae0,#faebe3,#f9ece4,#faeae0,#f7f5f4,#e4eef3,#e8f0f4,#f9efea,#fae9df,#f9efe9)"></div></div><div style="position:absolute;left:52.3px;top:409.5px;width:251.70px;height:169.50px;overflow:hidden"><div style="height:4.134px;background:linear-gradient(90deg,#f5f6f7,#f7f7f7,#f7f6f6,#f7f6f5,#f7f6f6,#f5f6f7,#f2f5f6,#f2f5f6,#f4f6f6,#f4f6f6,#f3f5f6,#f7f6f5,#f8f1ec,#f9ede5,#faeae2,#f9ebe3,#f8f1ed,#f7f7f6,#f7f7f7,#f7f6f5,#f7f7f7,#f3f5f6,#f3f5f6,#f4f6f6,#f6f7f7,#f4f6f6,#f2f5f6,#f7f7f7,#f7f6f5,#f6f6f7,#f7f7f7,#f8f3f0,#f8f2ef,#f7f6f5,#f4f6f6,#f2f5f6,#f0f4f6,#f0f4f6,#f4f5f6,#f7f6f6,#f7f6f5,#f6f6f7,#f4f6f7,#f6f6f7,#f5f6f7,#f2f5f6,#f0f4f6,#f1f4f6,#f4f5f6,#f5f6f7,#f6f7f7,#f7f7f7,#f6f6f7,#f6f7f7,#f6f6f7,#f4f5f6,#f3f5f6,#f4f5f6,#f1f4f6,#edf2f5,#eff3f5,#f6f7f7,#f7f5f4,#f6f7f7,#f3f5f6,#f3f5f6,#f3f5f6,#f7f7f6,#f8f4f1,#f7f5f3,#f7f6f6,#f7f7f7,#f4f5f6,#f3f5f6,#f6f7f7,#f7f5f4,#f8f5f3,#f7f7f6,#f7f7f7,#f8f4f1,#f8f4f2,#f7f6f5,#f7f5f4,#f8f5f3,#f7f6f6,#f7f7f7,#f7f5f4,#f7f5f3,#f7f6f6,#f7f5f4,#f8f4f3,#f7f6f6,#f7f6f5,#f7f6f5,#f4f6f6,#f1f4f6,#f0f4f6,#f3f5f6,#f7f5f4,#f8f3f1,#f7f6f5,#f1f4f6,#ecf2f5,#eef3f5,#f3f5f6,#f8f4f2,#f8f2ee,#f8f4f2,#f8f4f2,#f7f6f5,#f1f4f6,#edf2f5,#eef3f5,#f0f4f6,#f1f4f6,#f3f5f6,#f5f6f7,#f0f4f6,#eef3f5,#f1f4f6)"></div><div style="height:4.134px;background:linear-gradient(90deg,#f5f6f7,#f7f7f7,#f7f6f6,#f7f6f6,#f7f6f6,#f5f6f7,#f3f5f6,#f3f5f6,#f4f6f6,#f4f6f6,#f3f5f6,#f8f3f1,#faeae1,#fbe3d4,#fcdfce,#fce0d0,#fae9de,#f8f3f1,#f7f7f7,#f7f7f6,#f6f6f7,#f2f5f6,#f2f5f6,#f4f5f6,#f6f6f7,#f4f5f6,#f2f5f6,#f7f7f7,#f7f6f5,#f5f6f7,#f6f7f7,#f8f3f1,#f8f3f0,#f7f6f5,#f4f6f6,#f2f5f6,#f0f4f6,#f1f4f6,#f3f5f6,#f7f7f7,#f7f6f5,#f6f7f7,#f5f6f7,#f6f6f7,#f5f6f7,#f2f5f6,#f0f4f6,#f1f4f6,#f4f6f6,#f5f6f7,#f6f7f7,#f6f7f7,#f5f6f7,#f5f6f7,#f5f6f7,#f3f5f6,#f3f5f6,#f4f5f6,#f1f4f6,#eef3f5,#f0f4f6,#f7f7f7,#f7f5f4,#f6f7f7,#f4f5f6,#f4f5f6,#f4f6f7,#f7f6f5,#f8f4f1,#f7f5f4,#f7f6f6,#f7f7f7,#f4f6f6,#f3f5f6,#f6f7f7,#f7f5f4,#f7f5f3,#f7f7f6,#f7f7f7,#f8f4f1,#f8f4f2,#f7f6f5,#f7f6f4,#f7f5f4,#f7f7f6,#f7f7f7,#f7f5f4,#f7f5f4,#f7f6f6,#f7f5f4,#f7f5f3,#f7f7f7,#f7f7f6,#f7f6f6,#f4f6f7,#f1f4f6,#f0f4f6,#f4f5f6,#f7f6f5,#f8f4f2,#f7f7f7,#eef3f5,#e8f0f4,#ecf2f5,#f3f5f6,#f8f4f2,#f8f2ef,#f8f4f3,#f7f5f3,#f7f6f5,#f1f4f6,#edf2f5,#eef3f5,#f0f4f6,#f2f4f6,#f4f5f6,#f4f6f7,#f0f4f6,#eef3f5,#f1f4f6)"></div><div style="height:4.134px;background:linear-gradient(90deg,#f5f6f7,#f7f7f7,#f7f6f6,#f7f6f6,#f7f6f6,#f6f6f7,#f3f5f6,#f3f5f6,#f4f5f6,#f4f6f6,#f4f6f6,#f8f1ec,#fbe4d7,#fddcc8,#fcd5c0,#fcd5c0,#fce1d1,#f9f0ea,#f6f7f7,#f6f6f7,#f4f6f7,#f1f4f6,#f1f4f6,#f3f5f6,#f5f6f7,#f3f5f6,#f2f5f6,#f6f7f7,#f7f7f6,#f4f6f6,#f5f6f7,#f8f4f2,#f8f4f1,#f7f7f6,#f4f5f6,#f2f4f6,#f1f4f6,#f1f4f6,#f3f5f6,#f7f7f7,#f7f6f5,#f6f7f7,#f5f6f7,#f5f6f7,#f5f6f7,#f2f5f6,#f0f4f6,#f2f4f6,#f5f6f7,#f6f6f7,#f5f6f7,#f5f6f7,#f3f5f6,#f3f5f6,#f4f5f6,#f3f5f6,#f3f5f6,#f4f6f6,#f2f5f6,#f1f4f6,#f5f6f7,#f8f4f3,#f7f5f4,#f6f6f7,#f4f6f7,#f5f6f7,#f6f7f7,#f7f5f3,#f8f3f1,#f7f5f4,#f7f7f6,#f7f7f7,#f4f6f7,#f3f5f6,#f6f6f7,#f7f6f5,#f7f5f4,#f7f7f6,#f7f7f6,#f8f4f1,#f8f4f2,#f7f6f6,#f7f6f6,#f7f6f5,#f7f7f6,#f7f7f7,#f7f5f4,#f7f5f4,#f7f6f6,#f7f5f4,#f7f5f4,#f6f7f7,#f6f6f7,#f7f7f7,#f5f6f7,#f2f5f6,#f1f4f6,#f4f5f6,#f7f6f6,#f7f5f4,#f5f6f7,#eaf1f5,#e5eef4,#eaf1f5,#f3f5f6,#f8f4f2,#f8f3f0,#f7f5f4,#f7f6f5,#f7f7f6,#f1f4f6,#edf2f5,#eef3f5,#f0f4f6,#f2f5f6,#f4f5f6,#f4f6f7,#f0f4f6,#edf2f5,#f0f4f6)"></div><div style="height:4.134px;background:linear-gradient(90deg,#f5f6f7,#f7f7f7,#f7f6f6,#f7f6f6,#f7f6f6,#f6f7f7,#f4f6f7,#f3f5f6,#f4f6f6,#f4f6f6,#f5f6f7,#f9efe9,#fce2d2,#fcd6c1,#fbcfb8,#fbcdb5,#fddcc9,#f9ede6,#f6f6f7,#f4f6f6,#f3f5f6,#f0f4f6,#f0f4f6,#f2f5f6,#f4f5f6,#f3f5f6,#f3f5f6,#f6f7f7,#f6f7f7,#f2f5f6,#f4f5f6,#f7f5f4,#f7f5f3,#f6f7f7,#f4f5f6,#f2f4f6,#f1f4f6,#f1f4f6,#f3f5f6,#f6f7f7,#f7f6f6,#f7f7f7,#f5f6f7,#f5f6f7,#f5f6f7,#f2f5f6,#f0f4f6,#f2f5f6,#f6f6f7,#f6f7f7,#f5f6f7,#f4f5f6,#f1f4f6,#f1f4f6,#f2f5f6,#f2f4f6,#f2f5f6,#f4f6f6,#f5f6f7,#f7f6f5,#f8f1ed,#f9efea,#f8f4f1,#f6f6f7,#f5f6f7,#f7f7f7,#f7f6f5,#f8f3f1,#f8f3f0,#f7f6f5,#f7f7f7,#f7f7f7,#f5f6f7,#f4f5f6,#f5f6f7,#f7f6f6,#f7f5f4,#f7f6f6,#f7f6f5,#f8f3ef,#f8f3f0,#f7f6f5,#f7f6f6,#f7f6f5,#f7f6f6,#f7f6f6,#f7f6f5,#f7f6f5,#f7f7f6,#f7f6f5,#f7f6f5,#f4f6f7,#f4f5f6,#f6f6f7,#f5f6f7,#f3f5f6,#f2f5f6,#f4f5f6,#f7f7f7,#f7f6f6,#f3f5f6,#e8f0f4,#e2edf3,#e8f0f4,#f2f5f6,#f7f5f3,#f8f4f2,#f7f7f6,#f7f7f6,#f6f7f7,#f0f4f6,#ecf2f5,#eef3f5,#f1f4f6,#f2f5f6,#f4f6f6,#f4f6f7,#f0f4f6,#edf2f5,#eff3f5)"></div><div style="height:4.134px;background:linear-gradient(90deg,#f6f6f7,#f7f7f6,#f7f6f6,#f7f7f6,#f7f6f6,#f7f7f7,#f5f6f7,#f4f6f6,#f4f6f6,#f4f6f6,#f6f6f7,#f9efe9,#fbe2d3,#fcd5bf,#fac9b0,#f9c4aa,#fcd8c3,#f9ece5,#f5f6f7,#f3f5f6,#f2f5f6,#f0f4f6,#f0f4f6,#f1f4f6,#f2f5f6,#f2f4f6,#f3f5f6,#f5f6f7,#f5f6f7,#f0f4f6,#f2f5f6,#f7f7f6,#f7f6f6,#f5f6f7,#f4f5f6,#f2f5f6,#f1f4f6,#f2f5f6,#f3f5f6,#f5f6f7,#f7f7f6,#f7f7f7,#f5f6f7,#f5f6f7,#f4f6f6,#f2f5f6,#f0f4f6,#f2f5f6,#f7f7f7,#f7f7f7,#f4f6f6,#f2f5f6,#eff3f6,#eff3f6,#f1f4f6,#f1f4f6,#f2f5f6,#f5f6f7,#f7f5f4,#f9f0eb,#faebe2,#faeae0,#f8f1ed,#f6f7f7,#f6f7f7,#f7f6f5,#f8f4f2,#f8f2ef,#f8f3f0,#f7f6f5,#f7f7f7,#f7f7f6,#f6f7f7,#f5f6f7,#f5f6f7,#f7f7f6,#f7f5f4,#f7f5f3,#f8f3f1,#f9f0ea,#f9f0eb,#f8f3f0,#f8f4f3,#f8f5f3,#f7f5f4,#f7f6f5,#f7f6f5,#f7f6f6,#f7f7f7,#f7f6f5,#f7f7f7,#f2f5f6,#f2f4f6,#f5f6f7,#f5f6f7,#f3f5f6,#f2f5f6,#f4f5f6,#f6f7f7,#f7f7f7,#f1f4f6,#e6eff4,#e0ecf3,#e7f0f4,#f2f5f6,#f7f5f4,#f7f5f3,#f6f7f7,#f6f7f7,#f5f6f7,#f0f3f6,#ecf2f5,#eef3f5,#f1f4f6,#f3f5f6,#f5f6f7,#f5f6f7,#f1f4f6,#edf2f5,#eef3f5)"></div><div style="height:4.134px;background:linear-gradient(90deg,#f6f7f7,#f7f6f6,#f7f6f6,#f7f7f6,#f7f7f6,#f7f7f7,#f6f7f7,#f5f6f7,#f4f6f7,#f5f6f7,#f6f7f7,#f8f0ec,#fbe5d8,#fcd3bc,#f7ba9d,#f6b293,#facab1,#fae8de,#f7f7f7,#f3f5f6,#f2f5f6,#f0f4f6,#f0f4f6,#f0f4f6,#f1f4f6,#f1f4f6,#f3f5f6,#f5f6f7,#f4f5f6,#eff3f6,#f1f4f6,#f6f7f7,#f7f7f7,#f5f6f7,#f4f6f6,#f3f5f6,#f2f5f6,#f2f5f6,#f3f5f6,#f5f6f7,#f7f7f7,#f6f6f7,#f4f5f6,#f4f6f6,#f4f6f6,#f3f5f6,#f1f4f6,#f3f5f6,#f7f7f7,#f7f7f7,#f4f5f6,#f1f4f6,#eef3f5,#eff3f5,#f0f4f6,#f0f4f6,#f2f4f6,#f6f6f7,#f8f3ef,#faebe3,#fae7dc,#fbe6da,#f9eee8,#f6f7f7,#f6f7f7,#f7f5f4,#f8f3f1,#f8f2ee,#f8f3f0,#f7f6f5,#f7f7f6,#f7f7f6,#f7f7f7,#f6f6f7,#f6f6f7,#f7f6f6,#f8f4f1,#f8f1ed,#f9eee7,#fae9df,#fae9df,#f9ede5,#f9f0ea,#f8f2ee,#f8f3f1,#f7f5f3,#f7f6f5,#f7f7f7,#f7f7f7,#f7f6f5,#f6f7f7,#f1f4f6,#f0f4f6,#f3f5f6,#f4f6f7,#f3f5f6,#f3f5f6,#f4f6f6,#f6f6f7,#f6f7f7,#f1f4f6,#e6eff4,#dfecf3,#e6eff4,#f1f4f6,#f7f6f6,#f7f6f5,#f6f6f7,#f5f6f7,#f4f5f6,#eff3f6,#ecf2f5,#eef3f5,#f1f4f6,#f3f5f6,#f5f6f7,#f5f6f7,#f2f5f6,#eef3f5,#eff3f6)"></div><div style="height:4.134px;background:linear-gradient(90deg,#f6f7f7,#f7f6f6,#f7f6f5,#f7f6f6,#f7f7f6,#f7f7f6,#f7f7f7,#f5f6f7,#f5f6f7,#f5f6f7,#f7f7f7,#f8f2ee,#fbe6da,#facab2,#f4a481,#ed9576,#f6b191,#fdddcb,#f8f1ed,#f5f6f7,#f3f5f6,#f1f4f6,#f1f4f6,#f0f4f6,#f0f4f6,#f1f4f6,#f3f5f6,#f5f6f7,#f3f5f6,#eff3f6,#f0f4f6,#f5f6f7,#f6f6f7,#f5f6f7,#f5f6f7,#f4f6f6,#f3f5f6,#f3f5f6,#f3f5f6,#f5f6f7,#f6f6f7,#f4f6f6,#f2f5f6,#f3f5f6,#f3f5f6,#f3f5f6,#f2f4f6,#f4f6f7,#f7f6f6,#f7f7f7,#f3f5f6,#f0f4f6,#eef3f5,#eff3f6,#f0f4f6,#eff3f6,#f1f4f6,#f7f7f7,#f8f1ec,#fae9df,#fbe7db,#fbe5d8,#f9eee7,#f6f7f7,#f6f6f7,#f7f5f4,#f8f3f0,#f8f2ee,#f8f3f0,#f7f6f5,#f7f7f6,#f7f7f6,#f7f6f6,#f7f7f7,#f6f7f7,#f7f5f4,#f8f0ec,#faebe2,#fbe4d7,#fcdecc,#fcdecb,#fbe2d3,#fae7dc,#f9ece4,#f8f0eb,#f8f4f1,#f7f6f5,#f7f7f7,#f7f7f7,#f7f6f5,#f5f6f7,#f0f4f6,#eff3f6,#f3f5f6,#f3f5f6,#f2f5f6,#f2f5f6,#f4f5f6,#f6f6f7,#f6f7f7,#f1f4f6,#e7eff4,#dfecf3,#e5eef4,#f0f4f6,#f6f7f7,#f7f6f6,#f5f6f7,#f4f6f6,#f3f5f6,#eff3f5,#ecf2f5,#eff3f5,#f1f4f6,#f3f5f6,#f5f6f7,#f5f6f7,#f3f5f6,#f0f4f6,#f0f4f6)"></div><div style="height:4.134px;background:linear-gradient(90deg,#f7f7f7,#f7f6f6,#f7f6f5,#f7f6f6,#f7f7f6,#f7f6f6,#f7f7f7,#f6f7f7,#f5f6f7,#f5f6f7,#f7f7f7,#f8f1ed,#fbe4d7,#f9c1a6,#ed9676,#e7866a,#f09c7b,#fac6ac,#fae8dd,#f7f5f4,#f4f6f6,#f2f5f6,#f2f4f6,#f0f4f6,#f0f3f6,#f1f4f6,#f4f5f6,#f6f6f7,#f4f6f6,#f0f3f6,#f0f4f6,#f5f6f7,#f6f6f7,#f5f6f7,#f5f6f7,#f5f6f7,#f3f5f6,#f3f5f6,#f3f5f6,#f4f6f6,#f4f6f6,#f2f5f6,#f0f4f6,#f1f4f6,#f2f5f6,#f3f5f6,#f3f5f6,#f6f6f7,#f7f6f6,#f6f6f7,#f2f5f6,#f0f4f6,#eff3f6,#f0f4f6,#f1f4f6,#eff3f6,#f1f4f6,#f7f7f7,#f8f1ec,#fae9e0,#fbe7db,#fbe6d9,#f9efe9,#f5f6f7,#f4f6f7,#f7f6f6,#f8f3f1,#f8f2ee,#f8f3f0,#f7f6f4,#f7f7f7,#f7f7f7,#f7f6f5,#f7f7f7,#f7f7f6,#f8f3f0,#faebe2,#fce1d2,#fcd3bd,#f9c4aa,#f9c3a8,#fbceb7,#fddcca,#fbe5d8,#f9ece4,#f8f2ef,#f7f6f5,#f6f7f7,#f7f7f6,#f7f6f5,#f5f6f7,#eff3f6,#f0f3f6,#f2f5f6,#f3f5f6,#f1f4f6,#f2f5f6,#f4f5f6,#f6f7f7,#f7f7f7,#f2f5f6,#e8f0f4,#deebf2,#e2edf3,#edf2f5,#f4f6f7,#f7f7f7,#f5f6f7,#f4f6f6,#f3f5f6,#eff3f6,#edf2f5,#eff3f5,#f1f4f6,#f2f5f6,#f4f6f7,#f5f6f7,#f4f6f6,#f2f5f6,#f2f5f6)"></div><div style="height:4.134px;background:linear-gradient(90deg,#f7f7f7,#f7f6f6,#f7f6f5,#f7f6f6,#f7f6f6,#f7f6f5,#f7f6f6,#f7f7f7,#f6f6f7,#f5f6f7,#f7f7f7,#f8f1ec,#fbe2d4,#f8bea2,#ef9a79,#ea8e70,#ee9777,#f7b99b,#fce2d3,#f8f3ef,#f6f6f7,#f4f5f6,#f3f5f6,#f1f4f6,#f0f3f6,#f1f4f6,#f5f6f7,#f7f7f7,#f5f6f7,#f1f4f6,#f1f4f6,#f5f6f7,#f6f6f7,#f5f6f7,#f5f6f7,#f5f6f7,#f3f5f6,#f2f5f6,#f2f5f6,#f3f5f6,#f2f5f6,#f0f4f6,#eff3f5,#f0f4f6,#f1f4f6,#f2f5f6,#f3f5f6,#f6f7f7,#f7f6f6,#f5f6f7,#f1f4f6,#f0f4f6,#f1f4f6,#f2f5f6,#f1f4f6,#eff3f6,#f2f4f6,#f7f7f7,#f8f2ee,#f9ece3,#fae8dd,#fae8de,#f8f1ed,#f4f6f6,#f3f5f6,#f7f7f7,#f8f4f2,#f8f2ef,#f8f3f0,#f7f6f5,#f6f7f7,#f6f7f7,#f7f6f6,#f7f7f6,#f7f6f5,#f9efea,#fbe4d7,#fcd5bf,#f8bda1,#f5ad8d,#f5ac8b,#f7b89b,#facbb3,#fcdecc,#fae8de,#f8f1ed,#f7f6f5,#f7f7f7,#f7f6f5,#f7f5f4,#f5f6f7,#f0f3f6,#f0f4f6,#f3f5f6,#f2f5f6,#f1f4f6,#f1f4f6,#f3f5f6,#f6f6f7,#f7f7f7,#f3f5f6,#e8f0f4,#dbeaf2,#ddebf2,#eaf1f5,#f2f5f6,#f5f6f7,#f5f6f7,#f5f6f7,#f3f5f6,#f0f3f6,#edf2f5,#eff3f5,#f1f4f6,#f1f4f6,#f4f5f6,#f5f6f7,#f4f6f7,#f3f5f6,#f5f6f7)"></div><div style="height:4.134px;background:linear-gradient(90deg,#f6f7f7,#f7f7f6,#f7f6f6,#f7f6f6,#f7f6f6,#f7f6f5,#f7f6f5,#f7f7f7,#f6f6f7,#f5f6f7,#f7f7f7,#f8f1ed,#fbe4d7,#f9c5ab,#f4a582,#ee9777,#f19e7c,#f8bb9e,#fce2d3,#f8f2ef,#f6f7f7,#f5f6f7,#f4f6f6,#f1f4f6,#f0f4f6,#f2f5f6,#f5f6f7,#f7f6f6,#f7f7f7,#f3f5f6,#f2f5f6,#f5f6f7,#f6f7f7,#f6f6f7,#f5f6f7,#f4f6f6,#f2f5f6,#f1f4f6,#f1f4f6,#f2f5f6,#f1f4f6,#eff3f6,#eef3f5,#eef3f5,#f0f4f6,#f1f4f6,#f3f5f6,#f7f7f7,#f7f6f6,#f4f6f7,#f1f4f6,#f1f4f6,#f2f5f6,#f4f5f6,#f3f5f6,#f1f4f6,#f5f6f7,#f8f4f2,#f8f0eb,#f9ece4,#faeae0,#faebe2,#f8f2ee,#f6f6f7,#f4f5f6,#f7f7f7,#f8f4f2,#f8f3f0,#f8f3f1,#f7f6f5,#f5f6f7,#f5f6f7,#f7f7f7,#f7f7f7,#f7f5f3,#f9ece5,#fce0cf,#facbb3,#f7b597,#f5a987,#f5a886,#f6b192,#f9c1a6,#fcd7c2,#fbe6d9,#f8f0ec,#f7f6f5,#f7f7f7,#f7f5f4,#f8f4f3,#f6f6f7,#f0f4f6,#f1f4f6,#f3f5f6,#f1f4f6,#f0f4f6,#f0f4f6,#f2f4f6,#f5f6f7,#f7f7f7,#f3f5f6,#e6eff4,#d5e7f1,#d6e7f1,#e5eef4,#f0f3f6,#f4f6f6,#f5f6f7,#f5f6f7,#f5f6f7,#f0f4f6,#edf2f5,#eff3f5,#f0f4f6,#f1f4f6,#f3f5f6,#f5f6f7,#f4f6f6,#f4f6f6,#f6f7f7)"></div><div style="height:4.134px;background:linear-gradient(90deg,#f6f6f7,#f7f7f7,#f7f7f6,#f7f6f6,#f7f6f6,#f7f6f4,#f7f5f4,#f7f6f6,#f6f7f7,#f5f6f7,#f6f6f7,#f8f4f1,#faeae1,#fcd7c2,#f7b698,#f4a582,#f5ab8a,#fac8af,#fbe6d9,#f8f2ef,#f7f7f6,#f6f7f7,#f5f6f7,#f1f4f6,#f0f4f6,#f2f5f6,#f6f7f7,#f7f5f4,#f7f6f5,#f5f6f7,#f3f5f6,#f5f6f7,#f6f7f7,#f6f6f7,#f5f6f7,#f4f6f6,#f3f5f6,#f1f4f6,#f1f4f6,#f1f4f6,#f0f4f6,#eff3f5,#edf2f5,#edf2f5,#eff3f5,#f0f4f6,#f3f5f6,#f7f7f7,#f7f7f6,#f4f6f6,#f2f5f6,#f2f5f6,#f4f6f6,#f6f7f7,#f7f7f7,#f7f6f6,#f8f2ee,#faebe2,#fbe6da,#fbe5d8,#fbe5d8,#fbe7db,#f9ece5,#f8f3f0,#f7f7f7,#f7f6f6,#f8f4f2,#f8f3f0,#f8f4f1,#f7f6f5,#f4f6f7,#f4f5f6,#f6f6f7,#f6f6f7,#f8f4f3,#faeae1,#fcdecb,#fac8af,#f7b698,#f5ae8d,#f5ae8d,#f6b394,#f8bfa3,#fcd3bd,#fbe4d7,#f8f0ec,#f7f6f6,#f7f7f7,#f7f5f3,#f8f4f2,#f6f6f7,#f1f4f6,#f2f5f6,#f3f5f6,#f1f4f6,#f0f4f6,#eff3f6,#f0f4f6,#f4f6f6,#f6f6f7,#f1f4f6,#e3eef3,#cde3ef,#cbe2ee,#e0ecf3,#eef3f5,#f3f5f6,#f4f6f7,#f6f6f7,#f6f6f7,#f1f4f6,#edf2f5,#eff3f5,#f1f4f6,#f1f4f6,#f3f5f6,#f4f6f6,#f3f5f6,#f4f5f6,#f7f7f7)"></div><div style="height:4.134px;background:linear-gradient(90deg,#f5f6f7,#f6f7f7,#f7f7f7,#f7f7f6,#f7f6f5,#f7f5f4,#f7f5f4,#f7f6f6,#f6f7f7,#f5f6f7,#f5f6f7,#f8f4f2,#f9ece5,#fcdecc,#f8bb9e,#f2a07e,#f2a17f,#f8bb9f,#fddcca,#faeae0,#f8f1ed,#f7f6f5,#f6f6f7,#f1f4f6,#f0f4f6,#f3f5f6,#f7f7f7,#f8f4f2,#f7f5f3,#f6f7f7,#f5f6f7,#f6f6f7,#f6f7f7,#f6f6f7,#f5f6f7,#f6f6f7,#f7f7f7,#f6f7f7,#f4f5f6,#f2f5f6,#f1f4f6,#eff3f5,#edf2f5,#ecf2f5,#edf2f5,#f0f4f6,#f3f5f6,#f6f7f7,#f7f7f7,#f5f6f7,#f3f5f6,#f4f5f6,#f6f7f7,#f7f5f3,#f8f2ee,#f9ede6,#fbe5d8,#fddcc8,#fcd3bc,#fcd3bd,#fcd6c1,#fddac6,#fce0cf,#fae9de,#f8f0ec,#f8f3f0,#f8f3f0,#f8f3f0,#f8f4f2,#f7f6f6,#f4f6f6,#f3f5f6,#f4f6f7,#f5f6f7,#f8f4f3,#faeae0,#fdddca,#fac7ad,#f7b697,#f6ae8e,#f6af8f,#f6b293,#f8bda1,#fcd2bc,#fbe5d8,#f8f1ed,#f7f7f7,#f7f7f7,#f8f4f3,#f8f4f2,#f6f6f7,#f1f4f6,#f2f5f6,#f3f5f6,#f1f4f6,#f0f4f6,#eef3f5,#eff3f5,#f3f5f6,#f5f6f7,#f0f4f6,#e0ecf3,#c3deec,#c0dceb,#dceaf2,#edf2f5,#f2f5f6,#f4f5f6,#f6f6f7,#f7f7f7,#f2f5f6,#edf2f5,#eff3f6,#f2f5f6,#f2f5f6,#f3f5f6,#f3f5f6,#f2f5f6,#f3f5f6,#f7f6f6)"></div><div style="height:4.134px;background:linear-gradient(90deg,#f5f6f7,#f6f7f7,#f7f7f7,#f7f7f7,#f7f6f5,#f7f6f5,#f7f6f5,#f7f6f6,#f6f7f7,#f5f6f7,#f6f7f7,#f9f0eb,#fce1d1,#f8bea2,#e98b6e,#d6604d,#d15749,#dc6d57,#ee9777,#f9c1a6,#fce1d1,#f9eee8,#f7f6f5,#f2f5f6,#f1f4f6,#f3f5f6,#f7f6f6,#f8f4f1,#f8f4f2,#f7f7f7,#f5f6f7,#f6f7f7,#f6f7f7,#f5f6f7,#f6f7f7,#f8f4f3,#f9f0eb,#f9efe9,#f8f4f1,#f5f6f7,#f1f4f6,#eff3f6,#edf2f5,#ecf2f5,#ecf2f5,#eff3f6,#f2f5f6,#f5f6f7,#f7f7f7,#f5f6f7,#f4f6f6,#f5f6f7,#f7f6f6,#f8f1ed,#faebe3,#fbe3d5,#fcd6c1,#f9c3a9,#f8bb9e,#f8bea1,#f9c2a7,#f9c4aa,#fbcdb5,#fcdecc,#fae9df,#f9eee8,#f8f1ec,#f8f3f0,#f8f4f2,#f7f6f6,#f4f6f6,#f3f5f6,#f3f5f6,#f3f5f6,#f7f5f4,#faebe2,#fcdecc,#fac8ae,#f6b394,#f5a886,#f5a886,#f6af8e,#f8bda0,#fcd5bf,#fbe6da,#f8f2ef,#f7f7f7,#f7f7f6,#f8f4f2,#f8f4f2,#f6f6f7,#f1f4f6,#f2f4f6,#f3f5f6,#f1f4f6,#f0f4f6,#eef3f5,#eef3f5,#f2f5f6,#f4f5f6,#eff3f5,#deebf2,#bedbeb,#bad9e9,#dae9f2,#ebf2f5,#f2f4f6,#f3f5f6,#f5f6f7,#f7f7f7,#f3f5f6,#eef3f5,#f1f4f6,#f4f6f6,#f4f5f6,#f4f5f6,#f3f5f6,#f0f4f6,#f2f4f6,#f7f6f6)"></div><div style="height:4.134px;background:linear-gradient(90deg,#f5f6f7,#f6f6f7,#f6f7f7,#f7f7f7,#f7f6f6,#f7f6f5,#f7f6f5,#f7f7f6,#f6f7f7,#f6f6f7,#f7f5f4,#fbe6d9,#f8bea1,#e27c63,#c53d3d,#b0172b,#a61429,#b3192c,#c43c3c,#df765e,#f7b799,#fbe2d4,#f8f2ee,#f3f5f6,#f1f4f6,#f4f6f6,#f7f6f5,#f8f3f0,#f8f4f1,#f7f6f6,#f6f6f7,#f7f7f7,#f6f7f7,#f5f6f7,#f7f6f6,#f8f0eb,#fae8dd,#fbe6d9,#f9ede6,#f7f6f5,#f3f5f6,#f0f4f6,#eef3f5,#ecf2f5,#ecf2f5,#eff3f6,#f2f5f6,#f5f6f7,#f6f7f7,#f6f7f7,#f5f6f7,#f6f6f7,#f7f5f4,#f9efe9,#fbe6da,#fddcc8,#fac6ad,#f7b697,#f6b192,#f7b698,#f7ba9c,#f7ba9d,#f9c2a7,#fcd6c1,#fbe5d8,#faebe3,#f9efe9,#f8f2ef,#f8f4f2,#f7f6f6,#f4f6f6,#f3f5f6,#f2f5f6,#f2f5f6,#f7f6f6,#f9ede6,#fbe2d3,#fbcfb7,#f7b798,#f4a886,#f4a785,#f6b090,#f9c2a7,#fddbc8,#fae9e0,#f8f4f2,#f6f6f7,#f7f7f6,#f8f5f3,#f8f5f3,#f5f6f7,#f1f4f6,#f1f4f6,#f2f5f6,#f1f4f6,#f0f4f6,#eef3f5,#eef3f5,#f2f5f6,#f4f5f6,#eef3f5,#dfebf3,#bfdceb,#b7d8e9,#d5e7f1,#e7eff4,#eff3f5,#f1f4f6,#f4f6f7,#f7f7f7,#f3f5f6,#eff3f5,#f2f5f6,#f6f6f7,#f6f6f7,#f5f6f7,#f3f5f6,#eff3f6,#f1f4f6,#f7f6f6)"></div><div style="height:4.134px;background:linear-gradient(90deg,#f5f6f7,#f6f6f7,#f6f7f7,#f7f7f7,#f7f6f6,#f7f6f6,#f7f6f6,#f7f7f7,#f6f6f7,#f6f7f7,#f8f3ef,#fcdecc,#f3a27f,#ce5146,#b1182b,#940e26,#900d26,#970f27,#af172b,#ca4942,#ee9777,#fcd8c3,#f9efe9,#f5f6f7,#f3f5f6,#f5f6f7,#f7f5f4,#f8f3f0,#f8f4f1,#f7f6f6,#f6f7f7,#f7f7f7,#f6f7f7,#f5f6f7,#f7f6f6,#f9f0ea,#fbe7db,#fbe5d8,#f9ede6,#f7f6f5,#f3f5f6,#f0f4f6,#eef3f5,#ecf2f5,#edf2f5,#f0f4f6,#f3f5f6,#f4f6f7,#f6f7f7,#f7f7f7,#f6f7f7,#f6f7f7,#f7f6f5,#f9efe9,#fbe4d7,#fcd6c1,#f8bfa3,#f6af8f,#f5ad8d,#f6b495,#f7b799,#f7b99b,#f9c3a8,#fdd9c4,#fbe6da,#f9ece3,#f9efe9,#f8f2ef,#f8f4f2,#f7f7f6,#f4f6f6,#f3f5f6,#f2f4f6,#f1f4f6,#f6f7f7,#f8f1ee,#fae9df,#fcdecc,#fac9b0,#f7ba9d,#f7b89b,#f9c1a6,#fcd2bc,#fbe2d3,#f9eee7,#f7f6f5,#f5f6f7,#f7f7f7,#f7f5f4,#f7f5f4,#f5f6f7,#f1f4f6,#f0f4f6,#f1f4f6,#f1f4f6,#f1f4f6,#eff3f6,#eff3f5,#f3f5f6,#f4f6f7,#eff3f6,#e1edf3,#c7e0ed,#badaea,#d2e5f0,#e2edf3,#ecf2f5,#eff3f6,#f4f5f6,#f7f7f7,#f4f6f6,#f0f4f6,#f2f5f6,#f6f7f7,#f7f7f7,#f5f6f7,#f3f5f6,#eff3f5,#f0f4f6,#f7f6f6)"></div><div style="height:4.134px;background:linear-gradient(90deg,#f5f6f7,#f6f7f7,#f6f7f7,#f7f7f7,#f7f6f6,#f7f6f6,#f7f7f7,#f7f7f7,#f6f6f7,#f6f7f7,#f8f3f1,#fce0d0,#f5a886,#d2594a,#b41d2d,#991027,#940e26,#9d1128,#b51d2d,#cf5146,#f19d7c,#fddbc7,#f9efea,#f6f6f7,#f4f6f6,#f6f7f7,#f7f5f4,#f8f3f1,#f8f4f3,#f7f7f7,#f6f7f7,#f7f7f6,#f7f7f7,#f5f6f7,#f7f7f7,#f8f3f0,#f9ede6,#f9ede6,#f8f3f0,#f5f6f7,#f2f5f6,#f0f4f6,#eef3f5,#edf2f5,#eef3f5,#f0f4f6,#f3f5f6,#f5f6f7,#f7f7f7,#f7f7f6,#f7f7f7,#f5f6f7,#f7f7f7,#f8f1ec,#fbe6da,#fddac5,#f9c2a7,#f6b292,#f6b090,#f7b89a,#f8bda1,#f9c2a7,#fbd0b9,#fce1d2,#f9ece4,#f9efe9,#f8f0ec,#f8f3f0,#f8f4f2,#f7f7f7,#f3f5f6,#f3f5f6,#f1f4f6,#f1f4f6,#f4f6f6,#f7f6f5,#f8f1ec,#fae9df,#fce0cf,#fcd7c2,#fcd6c0,#fddcc8,#fce2d3,#faeae1,#f8f2ef,#f6f7f7,#f5f6f7,#f7f7f7,#f7f6f5,#f7f6f5,#f5f6f7,#f0f4f6,#f0f4f6,#f1f4f6,#f1f4f6,#f1f4f6,#f0f4f6,#f0f4f6,#f4f6f6,#f6f6f7,#f1f4f6,#e6eff4,#d6e7f1,#d1e5f0,#dceaf2,#e9f0f4,#eff3f6,#f0f4f6,#f4f5f6,#f7f7f6,#f5f6f7,#f0f4f6,#f2f5f6,#f6f7f7,#f7f7f7,#f6f7f7,#f3f5f6,#eff3f5,#f0f4f6,#f7f6f6)"></div><div style="height:4.134px;background:linear-gradient(90deg,#f5f6f7,#f6f7f7,#f7f7f7,#f7f7f7,#f7f6f6,#f7f6f6,#f7f7f7,#f6f7f7,#f6f6f7,#f5f6f7,#f7f7f7,#faebe2,#fbccb4,#eb9173,#d05347,#bb2a34,#b51f2e,#bd2e36,#d05447,#e98b6e,#f9c4aa,#fbe7db,#f8f3f1,#f6f6f7,#f6f6f7,#f7f7f6,#f7f5f4,#f8f4f2,#f7f5f4,#f7f7f7,#f6f7f7,#f7f6f6,#f7f7f6,#f5f6f7,#f5f6f7,#f7f6f6,#f7f5f3,#f7f6f5,#f4f6f6,#f2f4f6,#f2f4f6,#f0f4f6,#eef3f5,#edf2f5,#eff3f5,#f1f4f6,#f3f5f6,#f5f6f7,#f7f7f7,#f7f6f6,#f7f7f7,#f5f6f7,#f5f6f7,#f8f4f1,#faebe2,#fce1d2,#fcd3bc,#f9c6ac,#fac6ad,#fbcfb8,#fcd5c0,#fddbc7,#fce2d3,#f9ece5,#f8f3f1,#f8f3f1,#f8f2ef,#f8f3f1,#f8f4f3,#f6f7f7,#f2f5f6,#f2f5f6,#f2f4f6,#f2f4f6,#f3f5f6,#f4f6f7,#f7f6f6,#f8f2ee,#f9ebe3,#fbe6da,#fbe6d9,#fae8dd,#f9ece4,#f8f1ed,#f7f6f5,#f5f6f7,#f4f6f7,#f6f7f7,#f7f7f6,#f7f7f7,#f4f6f7,#f0f4f6,#eff3f6,#f1f4f6,#f1f4f6,#f2f4f6,#f2f4f6,#f2f5f6,#f6f6f7,#f7f7f7,#f3f5f6,#ebf1f5,#e1edf3,#e0ecf3,#e9f1f4,#f1f4f6,#f4f5f6,#f3f5f6,#f5f6f7,#f7f6f5,#f6f6f7,#f1f4f6,#f2f5f6,#f5f6f7,#f7f7f7,#f6f7f7,#f3f5f6,#eff3f5,#f0f4f6,#f7f6f6)"></div><div style="height:4.134px;background:linear-gradient(90deg,#f5f6f7,#f6f7f7,#f7f7f7,#f7f7f7,#f7f6f5,#f7f6f6,#f7f7f7,#f6f7f7,#f6f6f7,#f5f6f7,#f5f6f7,#f8f3f0,#fbe4d6,#f9c0a5,#e98c6f,#d55d4c,#cd4d44,#d7624e,#ea8e70,#f8bda1,#fce1d2,#f8f1ec,#f7f7f7,#f6f6f7,#f7f7f7,#f7f6f5,#f7f5f4,#f7f5f4,#f7f7f6,#f6f7f7,#f6f6f7,#f7f7f6,#f7f7f7,#f5f6f7,#f5f6f7,#f6f6f7,#f5f6f7,#f3f5f6,#f0f4f6,#f0f4f6,#f2f5f6,#f1f4f6,#eef3f5,#edf2f5,#eff3f6,#f1f4f6,#f3f5f6,#f5f6f7,#f7f7f7,#f7f6f6,#f7f7f6,#f4f6f6,#f2f5f6,#f7f7f7,#f8f1ed,#faebe3,#fbe5d8,#fce1d2,#fbe3d5,#fae8dd,#faeae0,#faeae1,#f9efe9,#f7f6f5,#f4f6f7,#f7f6f6,#f8f4f2,#f8f4f2,#f7f5f3,#f5f6f7,#f1f4f6,#f1f4f6,#f2f5f6,#f3f5f6,#f3f5f6,#f3f5f6,#f4f6f6,#f7f7f6,#f8f3f0,#f9efea,#f9efe9,#f8f1ec,#f8f3ef,#f7f5f4,#f6f7f7,#f4f6f6,#f4f6f7,#f6f6f7,#f7f7f7,#f6f7f7,#f4f6f6,#f0f4f6,#eff3f6,#f1f4f6,#f1f4f6,#f2f5f6,#f3f5f6,#f4f6f6,#f7f7f6,#f7f6f5,#f5f6f7,#eff3f6,#eaf1f5,#eaf1f5,#f0f4f6,#f5f6f7,#f6f6f7,#f5f6f7,#f6f7f7,#f7f5f4,#f6f7f7,#f1f4f6,#f1f4f6,#f4f6f6,#f6f7f7,#f6f7f7,#f3f5f6,#eef3f5,#f0f4f6,#f7f6f6)"></div><div style="height:4.134px;background:linear-gradient(90deg,#f6f6f7,#f6f7f7,#f7f7f7,#f7f7f6,#f7f6f5,#f7f6f5,#f7f7f7,#f6f7f7,#f6f7f7,#f6f7f7,#f7f7f6,#f8f1ec,#fbe4d6,#facab1,#f5ab8a,#ec9374,#e98c6e,#ee9878,#f6af8f,#facab1,#fbe3d4,#f8f1ec,#f7f7f6,#f7f7f7,#f7f6f5,#f7f6f5,#f7f6f5,#f7f7f6,#f6f7f7,#f5f6f7,#f5f6f7,#f7f7f7,#f6f7f7,#f5f6f7,#f5f6f7,#f5f6f7,#f4f5f6,#f1f4f6,#f0f4f6,#f0f4f6,#f2f5f6,#f1f4f6,#eef3f5,#edf2f5,#f0f4f6,#f2f4f6,#f3f5f6,#f6f6f7,#f7f7f7,#f7f6f6,#f7f6f6,#f4f6f6,#f1f4f6,#f3f5f6,#f7f6f6,#f8f3f0,#f9f0eb,#f9efea,#f8f2ee,#f7f6f5,#f7f6f5,#f8f4f2,#f7f6f4,#f3f5f6,#f2f5f6,#f6f7f7,#f7f5f3,#f8f4f3,#f7f5f4,#f4f6f6,#eff3f6,#f0f4f6,#f3f5f6,#f4f6f7,#f4f6f6,#f2f5f6,#f3f5f6,#f5f6f7,#f7f6f6,#f8f4f1,#f8f4f2,#f7f5f4,#f7f6f6,#f7f7f7,#f5f6f7,#f4f6f6,#f5f6f7,#f6f7f7,#f6f7f7,#f6f6f7,#f4f6f6,#f0f4f6,#eff3f5,#f1f4f6,#f2f5f6,#f3f5f6,#f4f5f6,#f5f6f7,#f7f6f5,#f7f5f4,#f6f6f7,#f2f5f6,#f0f4f6,#f1f4f6,#f3f5f6,#f5f6f7,#f6f7f7,#f6f7f7,#f7f6f6,#f7f5f3,#f7f7f7,#f1f4f6,#f0f4f6,#f3f5f6,#f6f6f7,#f6f7f7,#f2f5f6,#eef3f5,#f0f4f6,#f7f7f7)"></div><div style="height:4.134px;background:linear-gradient(90deg,#f6f7f7,#f7f7f7,#f7f7f7,#f7f7f6,#f7f6f5,#f7f6f5,#f7f7f7,#f6f7f7,#f6f7f7,#f7f7f7,#f7f6f6,#f8f3f1,#faebe3,#fcdfcf,#fbcfb7,#f8c0a4,#f8bc9f,#f9c5aa,#fcd4be,#fce1d1,#f9ede5,#f7f6f5,#f5f6f7,#f7f7f7,#f7f6f5,#f7f6f5,#f7f7f7,#f6f7f7,#f5f6f7,#f5f6f7,#f4f6f7,#f5f6f7,#f5f6f7,#f3f5f6,#f5f6f7,#f6f6f7,#f4f5f6,#f1f4f6,#f0f4f6,#f1f4f6,#f2f5f6,#f1f4f6,#eef3f5,#edf2f5,#f0f4f6,#f2f5f6,#f4f6f6,#f7f7f7,#f7f7f6,#f7f6f5,#f7f6f5,#f5f6f7,#f2f4f6,#f2f5f6,#f5f6f7,#f7f7f6,#f7f5f4,#f7f5f4,#f6f6f7,#f2f4f6,#f2f5f6,#f6f7f7,#f7f7f7,#f3f5f6,#f2f5f6,#f6f6f7,#f7f5f4,#f7f5f3,#f7f6f5,#f3f5f6,#eff3f5,#f0f4f6,#f3f5f6,#f6f6f7,#f5f6f7,#f3f5f6,#f4f5f6,#f5f6f7,#f7f7f7,#f7f5f4,#f7f6f5,#f7f7f7,#f6f7f7,#f7f7f7,#f6f7f7,#f5f6f7,#f6f6f7,#f6f7f7,#f7f7f7,#f6f7f7,#f4f6f7,#f0f4f6,#eff3f6,#f2f5f6,#f4f5f6,#f3f5f6,#f4f6f6,#f6f6f7,#f7f5f4,#f7f5f3,#f7f7f7,#f5f6f7,#f4f6f6,#f4f6f7,#f4f6f6,#f4f6f6,#f6f6f7,#f7f7f7,#f7f5f4,#f8f4f2,#f7f7f7,#f1f4f6,#eff3f6,#f2f4f6,#f5f6f7,#f6f6f7,#f2f5f6,#eef3f5,#f0f4f6,#f7f7f7)"></div><div style="height:4.134px;background:linear-gradient(90deg,#f7f7f7,#f7f7f7,#f7f7f7,#f7f6f6,#f7f5f4,#f7f5f4,#f7f7f7,#f6f7f7,#f6f7f7,#f7f7f7,#f7f7f7,#f6f7f7,#f7f6f6,#f8f3f1,#f9f0ea,#f9ece4,#faebe2,#f9efe9,#f8f3f1,#f7f6f6,#f3f5f6,#f0f4f6,#f3f5f6,#f7f7f7,#f7f6f5,#f7f6f6,#f7f7f7,#f6f6f7,#f5f6f7,#f5f6f7,#f3f5f6,#f3f5f6,#f2f5f6,#f2f4f6,#f4f6f7,#f6f7f7,#f4f6f6,#f1f4f6,#f0f4f6,#f1f4f6,#f2f5f6,#f1f4f6,#eef3f5,#edf2f5,#f0f4f6,#f2f5f6,#f4f6f7,#f7f7f7,#f7f6f6,#f7f6f5,#f7f5f4,#f6f7f7,#f3f5f6,#f3f5f6,#f4f6f7,#f6f7f7,#f7f6f6,#f7f7f7,#f4f6f7,#f1f4f6,#f2f5f6,#f5f6f7,#f6f7f7,#f3f5f6,#f2f5f6,#f5f6f7,#f7f6f5,#f7f5f4,#f7f6f6,#f3f5f6,#eef3f5,#f0f3f6,#f3f5f6,#f6f7f7,#f6f6f7,#f4f5f6,#f5f6f7,#f6f6f7,#f7f7f7,#f7f6f5,#f7f6f5,#f6f7f7,#f6f6f7,#f7f5f4,#f7f6f5,#f6f7f7,#f6f7f7,#f7f7f7,#f7f6f6,#f7f7f7,#f5f6f7,#f1f4f6,#f0f4f6,#f3f5f6,#f5f6f7,#f4f5f6,#f4f5f6,#f6f7f7,#f7f5f4,#f8f5f3,#f7f6f5,#f6f7f7,#f6f7f7,#f6f7f7,#f4f5f6,#f2f5f6,#f5f6f7,#f7f6f6,#f8f4f2,#f8f4f2,#f7f7f7,#f1f4f6,#eff3f5,#f1f4f6,#f4f6f7,#f6f6f7,#f2f5f6,#edf2f5,#f0f3f6,#f6f6f7)"></div><div style="height:4.134px;background:linear-gradient(90deg,#f7f6f6,#f7f7f7,#f7f7f7,#f7f6f6,#f7f5f4,#f7f5f4,#f7f7f7,#f6f7f7,#f6f7f7,#f7f7f7,#f7f7f7,#f5f6f7,#f6f6f7,#f7f7f7,#f7f5f4,#f8f3f0,#f8f3f1,#f7f7f7,#f3f5f6,#f2f5f6,#f0f3f6,#eef3f5,#f2f5f6,#f7f7f7,#f7f6f5,#f7f7f7,#f6f6f7,#f6f6f7,#f6f6f7,#f5f6f7,#f3f5f6,#f2f4f6,#f0f4f6,#f0f4f6,#f4f6f6,#f7f7f7,#f5f6f7,#f1f4f6,#f1f4f6,#f2f4f6,#f2f4f6,#f0f4f6,#eef3f5,#edf2f5,#f0f4f6,#f2f5f6,#f5f6f7,#f7f7f6,#f7f6f5,#f7f5f4,#f7f5f4,#f7f7f7,#f4f6f6,#f4f5f6,#f5f6f7,#f7f7f7,#f7f6f6,#f7f7f7,#f5f6f7,#f2f5f6,#f2f5f6,#f5f6f7,#f6f6f7,#f4f5f6,#f3f5f6,#f5f6f7,#f7f6f6,#f7f6f5,#f7f7f7,#f3f5f6,#eff3f5,#f0f4f6,#f3f5f6,#f6f7f7,#f5f6f7,#f4f6f6,#f5f6f7,#f6f7f7,#f7f7f7,#f7f6f4,#f7f6f5,#f6f6f7,#f6f7f7,#f8f3f0,#f8f4f1,#f7f7f6,#f7f7f7,#f7f6f6,#f7f5f4,#f7f6f6,#f5f6f7,#f1f4f6,#f1f4f6,#f4f6f7,#f6f6f7,#f4f6f6,#f3f5f6,#f6f7f7,#f7f5f4,#f8f4f3,#f7f6f5,#f7f7f7,#f7f7f7,#f6f7f7,#f3f5f6,#f0f4f6,#f3f5f6,#f7f7f7,#f8f4f3,#f8f4f3,#f6f7f7,#f1f4f6,#eef3f5,#f0f4f6,#f4f6f6,#f5f6f7,#f2f4f6,#edf2f5,#eff3f6,#f5f6f7)"></div><div style="height:4.134px;background:linear-gradient(90deg,#f7f6f5,#f7f6f6,#f7f7f7,#f7f6f6,#f7f6f5,#f7f6f5,#f7f7f7,#f6f7f7,#f6f7f7,#f7f7f7,#f6f7f7,#f4f6f6,#f5f6f7,#f7f7f6,#f8f3f1,#f8f1ec,#f8f2ee,#f7f6f6,#f3f5f6,#f2f4f6,#eff3f5,#eef3f5,#f2f5f6,#f7f7f7,#f7f6f6,#f6f7f7,#f5f6f7,#f6f6f7,#f6f7f7,#f5f6f7,#f2f5f6,#f1f4f6,#eff3f6,#f0f4f6,#f4f6f7,#f7f6f6,#f5f6f7,#f1f4f6,#f1f4f6,#f1f4f6,#f1f4f6,#f0f4f6,#eef3f5,#edf2f5,#f0f4f6,#f2f5f6,#f5f6f7,#f7f7f6,#f7f6f5,#f7f5f4,#f7f5f4,#f7f7f7,#f5f6f7,#f5f6f7,#f6f6f7,#f7f7f6,#f7f6f5,#f7f7f6,#f6f7f7,#f3f5f6,#f3f5f6,#f4f6f6,#f5f6f7,#f4f5f6,#f3f5f6,#f5f6f7,#f7f7f7,#f7f6f5,#f7f7f7,#f3f5f6,#f0f4f6,#f0f4f6,#f3f5f6,#f5f6f7,#f5f6f7,#f4f6f6,#f6f7f7,#f7f7f7,#f7f7f7,#f7f5f4,#f7f6f5,#f6f6f7,#f6f6f7,#f8f1ed,#f8f2ee,#f7f6f5,#f7f7f6,#f7f6f5,#f8f5f3,#f7f6f5,#f5f6f7,#f2f4f6,#f1f4f6,#f5f6f7,#f6f6f7,#f4f5f6,#f3f5f6,#f6f7f7,#f7f5f4,#f8f4f3,#f7f5f4,#f7f7f7,#f7f7f7,#f6f7f7,#f2f5f6,#eff3f6,#f1f4f6,#f6f7f7,#f7f5f4,#f7f5f4,#f5f6f7,#f0f4f6,#edf2f5,#f0f3f6,#f4f5f6,#f5f6f7,#f2f5f6,#eef3f5,#f0f4f6,#f4f6f6)"></div><div style="height:4.134px;background:linear-gradient(90deg,#f7f5f4,#f7f6f5,#f7f7f6,#f7f6f6,#f7f6f5,#f7f6f6,#f7f7f7,#f6f7f7,#f6f7f7,#f7f7f7,#f5f6f7,#f2f5f6,#f3f5f6,#f7f7f6,#f8f1ed,#f9eee7,#f9f0eb,#f7f5f4,#f4f5f6,#f1f4f6,#eff3f5,#eef3f5,#f2f5f6,#f7f7f7,#f7f7f7,#f5f6f7,#f5f6f7,#f6f7f7,#f7f7f7,#f5f6f7,#f2f5f6,#f1f4f6,#eff3f6,#f0f4f6,#f5f6f7,#f7f6f5,#f6f6f7,#f2f4f6,#f1f4f6,#f1f4f6,#f1f4f6,#eff3f6,#edf2f5,#edf2f5,#f0f4f6,#f2f5f6,#f4f6f7,#f7f7f7,#f7f6f5,#f7f5f4,#f7f5f4,#f7f7f7,#f5f6f7,#f5f6f7,#f6f7f7,#f7f6f6,#f7f6f5,#f7f6f6,#f7f7f7,#f4f5f6,#f3f5f6,#f4f5f6,#f4f6f7,#f3f5f6,#f3f5f6,#f5f6f7,#f7f7f7,#f7f6f5,#f7f7f7,#f4f6f6,#f1f4f6,#f1f4f6,#f3f5f6,#f4f5f6,#f4f6f6,#f4f6f7,#f7f7f7,#f7f7f7,#f7f7f7,#f7f5f4,#f7f6f5,#f5f6f7,#f5f6f7,#f8f1ed,#f8f2ee,#f7f6f5,#f7f6f6,#f7f5f4,#f8f4f2,#f7f5f4,#f5f6f7,#f2f4f6,#f2f5f6,#f5f6f7,#f6f6f7,#f4f5f6,#f3f5f6,#f6f6f7,#f7f5f4,#f8f5f3,#f7f5f4,#f7f7f7,#f7f7f7,#f6f6f7,#f1f4f6,#eff3f5,#f0f4f6,#f5f6f7,#f7f6f6,#f7f6f6,#f4f6f6,#eff3f5,#ecf2f5,#eff3f6,#f4f5f6,#f5f6f7,#f3f5f6,#eff3f6,#f0f4f6,#f4f5f6)"></div><div style="height:4.134px;background:linear-gradient(90deg,#f8f5f3,#f7f6f5,#f7f7f6,#f7f6f6,#f7f6f6,#f7f7f6,#f7f7f7,#f6f7f7,#f6f7f7,#f6f7f7,#f3f5f6,#f0f4f6,#f2f4f6,#f7f6f6,#f9efea,#f9ebe3,#f9eee8,#f8f5f3,#f4f6f6,#f1f4f6,#eff3f5,#eef3f5,#f2f5f6,#f6f7f7,#f6f7f7,#f5f6f7,#f5f6f7,#f7f7f7,#f7f7f6,#f5f6f7,#f2f5f6,#f1f4f6,#f0f4f6,#f0f4f6,#f5f6f7,#f7f6f5,#f6f7f7,#f2f4f6,#f1f4f6,#f1f4f6,#f0f4f6,#eff3f6,#edf2f5,#ecf2f5,#eff3f6,#f2f5f6,#f4f6f6,#f7f7f7,#f7f6f5,#f7f5f3,#f7f5f4,#f7f7f7,#f5f6f7,#f5f6f7,#f7f7f7,#f7f6f5,#f7f6f6,#f7f6f6,#f7f7f7,#f4f6f6,#f2f5f6,#f3f5f6,#f4f5f6,#f3f5f6,#f3f5f6,#f5f6f7,#f7f7f7,#f7f6f5,#f7f6f6,#f5f6f7,#f3f5f6,#f2f5f6,#f2f5f6,#f2f5f6,#f3f5f6,#f5f6f7,#f7f7f6,#f7f6f6,#f7f7f7,#f7f6f5,#f7f6f5,#f4f6f6,#f3f5f6,#f8f4f1,#f8f3f1,#f7f6f5,#f7f6f6,#f7f5f4,#f8f3f1,#f7f5f4,#f5f6f7,#f1f4f6,#f2f4f6,#f5f6f7,#f5f6f7,#f4f5f6,#f3f5f6,#f6f7f7,#f7f5f4,#f7f5f3,#f7f5f4,#f7f7f7,#f7f7f7,#f5f6f7,#f2f4f6,#eff3f6,#f0f4f6,#f3f5f6,#f6f7f7,#f7f7f7,#f3f5f6,#eef3f5,#ecf2f5,#eff3f6,#f4f6f6,#f6f7f7,#f4f6f7,#f1f4f6,#f2f4f6,#f4f6f6)"></div><div style="height:4.134px;background:linear-gradient(90deg,#f8f4f2,#f7f6f5,#f7f7f6,#f7f7f6,#f7f7f6,#f7f7f7,#f7f7f7,#f6f7f7,#f6f7f7,#f6f7f7,#f2f5f6,#eff3f6,#f1f4f6,#f7f6f5,#f9eee8,#faeae0,#f9ede6,#f8f4f2,#f4f6f7,#f1f4f6,#f0f4f6,#eff3f6,#f2f4f6,#f5f6f7,#f6f6f7,#f5f6f7,#f5f6f7,#f7f7f7,#f7f7f6,#f5f6f7,#f3f5f6,#f2f5f6,#f1f4f6,#f1f4f6,#f5f6f7,#f7f6f5,#f6f7f7,#f2f4f6,#f1f4f6,#f1f4f6,#f1f4f6,#f0f3f6,#edf2f5,#ecf2f5,#eef3f5,#f2f4f6,#f4f6f6,#f7f7f7,#f7f6f4,#f8f4f2,#f7f5f3,#f7f7f7,#f5f6f7,#f6f6f7,#f7f7f6,#f7f6f6,#f7f7f6,#f7f7f6,#f7f7f7,#f4f5f6,#f2f4f6,#f2f5f6,#f4f5f6,#f3f5f6,#f3f5f6,#f5f6f7,#f7f6f6,#f7f6f5,#f7f6f5,#f6f7f7,#f4f6f7,#f3f5f6,#f2f4f6,#f1f4f6,#f3f5f6,#f6f6f7,#f7f6f5,#f7f6f5,#f7f7f7,#f7f6f5,#f7f6f6,#f4f5f6,#f2f5f6,#f7f7f6,#f7f5f4,#f7f6f5,#f7f6f5,#f8f4f3,#f8f3f0,#f7f5f3,#f5f6f7,#f1f4f6,#f1f4f6,#f4f5f6,#f5f6f7,#f4f6f7,#f4f6f6,#f6f7f7,#f7f6f5,#f7f5f3,#f7f5f4,#f7f7f6,#f7f7f7,#f5f6f7,#f2f5f6,#f1f4f6,#f1f4f6,#f2f5f6,#f5f6f7,#f6f6f7,#f3f5f6,#eef3f5,#ecf2f5,#eff3f6,#f5f6f7,#f7f7f7,#f6f7f7,#f3f5f6,#f3f5f6,#f4f6f7)"></div><div style="height:4.134px;background:linear-gradient(90deg,#f8f4f2,#f7f6f5,#f7f7f6,#f7f7f6,#f7f7f6,#f7f7f7,#f7f7f7,#f6f7f7,#f6f7f7,#f6f7f7,#f2f5f6,#eff3f6,#f1f4f6,#f7f6f5,#f9ede7,#fae9e0,#f9ede6,#f8f4f1,#f5f6f7,#f2f5f6,#f1f4f6,#f0f4f6,#f1f4f6,#f4f6f7,#f5f6f7,#f5f6f7,#f6f6f7,#f7f7f6,#f7f7f7,#f5f6f7,#f3f5f6,#f3f5f6,#f2f5f6,#f2f5f6,#f5f6f7,#f7f6f5,#f6f7f7,#f2f5f6,#f1f4f6,#f1f4f6,#f2f5f6,#f0f4f6,#eef3f5,#ecf2f5,#eef3f5,#f1f4f6,#f4f6f6,#f7f7f7,#f7f5f4,#f8f4f1,#f8f4f3,#f7f7f7,#f4f6f6,#f6f6f7,#f7f7f6,#f7f7f7,#f7f7f7,#f7f7f7,#f7f7f7,#f3f5f6,#f1f4f6,#f2f5f6,#f4f5f6,#f3f5f6,#f3f5f6,#f6f7f7,#f7f6f5,#f7f5f4,#f7f6f5,#f7f7f7,#f6f6f7,#f4f5f6,#f1f4f6,#f1f4f6,#f3f5f6,#f6f7f7,#f7f5f4,#f7f6f5,#f7f7f7,#f7f6f5,#f7f7f6,#f3f5f6,#f1f4f6,#f4f6f6,#f7f7f7,#f7f6f5,#f7f5f4,#f8f4f1,#f8f2ef,#f8f4f2,#f5f6f7,#f2f4f6,#f1f4f6,#f3f5f6,#f5f6f7,#f5f6f7,#f5f6f7,#f7f7f7,#f7f6f5,#f8f5f3,#f7f5f3,#f7f6f6,#f7f7f7,#f5f6f7,#f4f5f6,#f3f5f6,#f2f5f6,#f3f5f6,#f5f6f7,#f5f6f7,#f3f5f6,#eef3f5,#ecf2f5,#f0f3f6,#f5f6f7,#f7f6f5,#f7f7f6,#f5f6f7,#f4f6f7,#f5f6f7)"></div><div style="height:4.134px;background:linear-gradient(90deg,#f8f4f2,#f7f6f4,#f7f7f6,#f7f6f6,#f7f7f6,#f7f7f7,#f6f7f7,#f6f7f7,#f6f7f7,#f6f7f7,#f2f5f6,#f0f4f6,#f2f5f6,#f7f5f4,#f9eee7,#faeae1,#f9ede7,#f8f3f1,#f6f7f7,#f4f5f6,#f3f5f6,#f2f5f6,#f2f4f6,#f4f5f6,#f5f6f7,#f5f6f7,#f6f7f7,#f7f7f6,#f7f7f7,#f5f6f7,#f4f6f6,#f4f6f7,#f4f5f6,#f3f5f6,#f5f6f7,#f7f6f6,#f6f6f7,#f2f5f6,#f1f4f6,#f2f5f6,#f3f5f6,#f2f4f6,#eff3f5,#ecf2f5,#eef3f5,#f1f4f6,#f4f6f6,#f6f7f7,#f7f5f4,#f8f3f0,#f8f4f2,#f7f7f7,#f4f5f6,#f5f6f7,#f7f7f7,#f6f7f7,#f6f6f7,#f7f7f7,#f6f7f7,#f3f5f6,#f1f4f6,#f3f5f6,#f4f6f7,#f3f5f6,#f3f5f6,#f7f7f7,#f7f5f4,#f7f5f4,#f7f5f4,#f7f6f6,#f6f7f7,#f4f6f6,#f2f4f6,#f1f4f6,#f3f5f6,#f7f7f7,#f7f5f4,#f7f6f5,#f7f7f7,#f7f6f6,#f7f7f7,#f4f5f6,#f1f4f6,#f3f5f6,#f6f7f7,#f7f5f4,#f8f4f3,#f8f3f0,#f8f2ee,#f8f4f1,#f7f7f7,#f3f5f6,#f2f5f6,#f3f5f6,#f5f6f7,#f6f6f7,#f6f7f7,#f7f7f7,#f7f6f5,#f8f4f3,#f8f4f3,#f7f6f6,#f6f7f7,#f5f6f7,#f5f6f7,#f5f6f7,#f4f6f6,#f4f6f6,#f6f6f7,#f6f6f7,#f3f5f6,#eff3f6,#edf2f5,#f0f4f6,#f6f6f7,#f7f5f4,#f7f6f5,#f7f7f7,#f6f6f7,#f6f6f7)"></div><div style="height:4.134px;background:linear-gradient(90deg,#f8f4f1,#f7f6f5,#f7f7f6,#f7f6f6,#f7f7f6,#f7f7f7,#f6f7f7,#f6f6f7,#f6f7f7,#f6f7f7,#f3f5f6,#f2f4f6,#f3f5f6,#f7f6f5,#f9f0ea,#f9ece5,#f9efe9,#f8f3f0,#f7f7f6,#f5f6f7,#f5f6f7,#f4f5f6,#f2f5f6,#f4f5f6,#f5f6f7,#f5f6f7,#f7f7f7,#f7f7f6,#f6f6f7,#f5f6f7,#f5f6f7,#f6f6f7,#f5f6f7,#f4f6f6,#f6f6f7,#f7f7f6,#f5f6f7,#f2f5f6,#f2f5f6,#f3f5f6,#f4f6f6,#f3f5f6,#f0f4f6,#edf2f5,#eef3f5,#f1f4f6,#f4f6f6,#f6f7f7,#f7f5f4,#f8f3ef,#f8f3f1,#f7f7f7,#f4f5f6,#f5f6f7,#f6f7f7,#f5f6f7,#f6f6f7,#f7f7f7,#f6f7f7,#f2f5f6,#f1f4f6,#f4f6f6,#f5f6f7,#f4f5f6,#f3f5f6,#f7f7f7,#f7f5f4,#f7f5f3,#f7f5f4,#f7f6f6,#f6f6f7,#f4f6f6,#f2f5f6,#f2f5f6,#f4f6f6,#f7f7f6,#f7f5f3,#f7f6f5,#f7f7f7,#f7f6f6,#f7f7f7,#f4f6f6,#f2f5f6,#f3f5f6,#f7f7f7,#f8f5f3,#f8f3f1,#f8f2ef,#f8f2ee,#f8f3f0,#f7f6f5,#f4f6f7,#f3f5f6,#f3f5f6,#f5f6f7,#f6f7f7,#f7f7f7,#f7f7f6,#f7f6f5,#f8f4f2,#f8f4f2,#f7f6f5,#f6f7f7,#f5f6f7,#f6f7f7,#f7f7f7,#f7f7f7,#f6f6f7,#f7f7f7,#f6f7f7,#f4f5f6,#f1f4f6,#eff3f5,#f1f4f6,#f6f7f7,#f7f5f4,#f7f6f5,#f7f7f6,#f7f7f7,#f7f7f7)"></div><div style="height:4.134px;background:linear-gradient(90deg,#f8f4f1,#f7f6f5,#f7f7f6,#f7f6f6,#f7f6f6,#f7f7f7,#f6f7f7,#f6f6f7,#f6f7f7,#f6f7f7,#f3f5f6,#f2f5f6,#f3f5f6,#f6f7f7,#f8f3f0,#f9f0eb,#f8f1ec,#f8f3f0,#f7f6f5,#f6f7f7,#f6f7f7,#f5f6f7,#f3f5f6,#f4f5f6,#f5f6f7,#f6f6f7,#f7f6f6,#f7f7f6,#f5f6f7,#f4f6f7,#f6f6f7,#f7f7f7,#f6f7f7,#f5f6f7,#f6f7f7,#f7f7f7,#f5f6f7,#f2f5f6,#f3f5f6,#f4f6f6,#f5f6f7,#f4f6f6,#f1f4f6,#eef3f5,#eef3f5,#f1f4f6,#f4f5f6,#f6f6f7,#f7f5f4,#f8f3ef,#f8f3f1,#f7f7f7,#f4f5f6,#f5f6f7,#f7f7f7,#f6f7f7,#f6f7f7,#f7f6f6,#f6f6f7,#f2f5f6,#f2f5f6,#f5f6f7,#f6f7f7,#f4f6f6,#f3f5f6,#f6f7f7,#f7f5f4,#f7f5f3,#f7f5f4,#f7f6f6,#f5f6f7,#f4f5f6,#f3f5f6,#f3f5f6,#f5f6f7,#f7f7f6,#f7f5f4,#f7f6f5,#f7f7f7,#f7f6f6,#f7f7f7,#f5f6f7,#f3f5f6,#f4f6f6,#f7f6f6,#f8f4f1,#f8f3ef,#f8f2ee,#f8f2ee,#f8f3f0,#f7f5f4,#f6f6f7,#f4f6f6,#f3f5f6,#f4f6f6,#f6f6f7,#f7f7f6,#f7f6f6,#f7f6f4,#f8f4f2,#f8f4f2,#f7f6f5,#f6f6f7,#f5f6f7,#f7f7f7,#f7f5f4,#f7f6f5,#f7f6f6,#f7f6f5,#f7f7f7,#f4f6f7,#f2f5f6,#f0f4f6,#f2f5f6,#f7f7f7,#f7f5f4,#f7f6f5,#f7f6f6,#f7f6f5,#f7f6f6)"></div><div style="height:4.134px;background:linear-gradient(90deg,#f8f3f1,#f7f6f5,#f7f7f6,#f7f6f6,#f7f6f6,#f7f7f7,#f6f7f7,#f6f7f7,#f6f7f7,#f6f7f7,#f3f5f6,#f2f5f6,#f2f5f6,#f2f5f6,#f6f6f7,#f8f5f3,#f8f3f1,#f8f4f1,#f7f5f4,#f7f7f7,#f7f7f7,#f6f6f7,#f3f5f6,#f4f5f6,#f5f6f7,#f7f7f7,#f7f6f5,#f7f7f6,#f4f6f7,#f4f6f6,#f6f7f7,#f7f7f6,#f7f7f7,#f6f7f7,#f7f7f7,#f7f7f7,#f4f6f6,#f3f5f6,#f3f5f6,#f5f6f7,#f6f6f7,#f5f6f7,#f2f4f6,#f0f4f6,#eff3f6,#f1f4f6,#f3f5f6,#f5f6f7,#f7f6f5,#f8f3f0,#f8f4f2,#f7f7f6,#f6f6f7,#f7f6f5,#f8f4f1,#f8f4f2,#f8f5f3,#f7f5f4,#f6f6f7,#f1f4f6,#f2f5f6,#f6f6f7,#f7f7f7,#f4f6f7,#f3f5f6,#f5f6f7,#f7f5f4,#f8f4f3,#f7f5f3,#f7f6f6,#f5f6f7,#f4f5f6,#f4f5f6,#f4f5f6,#f5f6f7,#f7f7f7,#f7f6f5,#f7f6f5,#f7f7f7,#f7f6f6,#f7f7f7,#f6f6f7,#f5f6f7,#f5f6f7,#f7f5f4,#f8f3f0,#f8f2ee,#f8f1ed,#f8f2ef,#f8f3f1,#f7f5f4,#f7f7f7,#f5f6f7,#f3f5f6,#f3f5f6,#f5f6f7,#f7f7f7,#f7f6f5,#f7f5f4,#f8f4f2,#f8f4f2,#f7f6f5,#f6f6f7,#f5f6f7,#f7f7f6,#f8f4f2,#f8f4f2,#f8f4f2,#f8f5f3,#f7f6f6,#f5f6f7,#f3f5f6,#f2f4f6,#f3f5f6,#f7f7f7,#f7f5f4,#f7f6f5,#f7f6f5,#f7f5f4,#f7f5f4)"></div><div style="height:4.134px;background:linear-gradient(90deg,#f8f3f1,#f7f6f5,#f7f7f7,#f7f6f6,#f7f6f6,#f7f7f6,#f7f7f7,#f6f7f7,#f6f7f7,#f6f6f7,#f3f5f6,#f1f4f6,#eff3f5,#ecf2f5,#eef3f5,#f3f5f6,#f7f7f7,#f7f5f4,#f7f6f5,#f6f7f7,#f6f7f7,#f5f6f7,#f3f5f6,#f4f5f6,#f5f6f7,#f7f7f7,#f7f6f4,#f7f7f7,#f4f6f6,#f4f6f6,#f7f7f7,#f7f7f6,#f7f7f7,#f7f7f7,#f7f7f6,#f7f7f7,#f4f5f6,#f2f5f6,#f4f5f6,#f5f6f7,#f6f6f7,#f4f6f7,#f2f5f6,#f1f4f6,#f0f4f6,#f1f4f6,#f3f5f6,#f5f6f7,#f7f6f5,#f8f4f2,#f7f5f3,#f7f6f5,#f7f5f3,#f9efea,#fae9e0,#faeae0,#f9eee7,#f8f3ef,#f6f6f7,#f0f4f6,#f2f5f6,#f6f7f7,#f7f7f6,#f4f6f7,#f2f5f6,#f4f6f7,#f7f5f4,#f8f4f1,#f8f4f2,#f7f6f5,#f5f6f7,#f3f5f6,#f5f6f7,#f5f6f7,#f5f6f7,#f6f7f7,#f7f7f6,#f7f7f7,#f6f7f7,#f7f7f7,#f7f7f7,#f6f7f7,#f6f6f7,#f7f7f7,#f8f4f3,#f8f2ef,#f8f1ed,#f8f1ed,#f8f2ef,#f8f4f2,#f7f5f4,#f7f7f6,#f5f6f7,#f3f5f6,#f1f4f6,#f3f5f6,#f6f7f7,#f7f6f5,#f7f5f3,#f8f4f2,#f8f4f2,#f7f6f5,#f6f7f7,#f6f6f7,#f7f6f5,#f8f3f1,#f8f2ef,#f8f2ef,#f8f3f0,#f7f5f4,#f6f7f7,#f4f6f6,#f3f5f6,#f4f6f6,#f7f6f6,#f7f5f3,#f7f5f4,#f7f5f4,#f8f4f2,#f8f4f2)"></div><div style="height:4.134px;background:linear-gradient(90deg,#f8f3f1,#f7f6f5,#f7f7f7,#f7f7f6,#f7f6f6,#f7f6f6,#f7f7f6,#f7f7f7,#f6f7f7,#f5f6f7,#f2f4f6,#f0f3f6,#ebf1f5,#e5eff4,#e5eef4,#eaf1f5,#f1f4f6,#f5f6f7,#f5f6f7,#f4f6f6,#f4f6f7,#f4f6f7,#f3f5f6,#f3f5f6,#f5f6f7,#f7f7f7,#f7f5f4,#f7f7f7,#f4f6f6,#f4f6f7,#f7f7f7,#f7f7f7,#f6f7f7,#f7f7f7,#f7f7f6,#f6f7f7,#f3f5f6,#f2f5f6,#f4f5f6,#f5f6f7,#f5f6f7,#f4f6f6,#f2f5f6,#f2f5f6,#f1f4f6,#f0f4f6,#f2f5f6,#f5f6f7,#f7f6f6,#f7f5f4,#f7f6f5,#f8f4f3,#f9f0eb,#fbe5d8,#fddcc8,#fdddca,#fbe5d9,#f9f0ea,#f6f6f7,#eff3f6,#f1f4f6,#f6f6f7,#f7f7f7,#f4f6f6,#f2f4f6,#f4f6f6,#f7f5f4,#f8f3f0,#f8f3f0,#f7f5f3,#f5f6f7,#f4f5f6,#f5f6f7,#f5f6f7,#f4f6f6,#f5f6f7,#f6f6f7,#f3f5f6,#f0f4f6,#f1f4f6,#f3f5f6,#f5f6f7,#f6f6f7,#f7f7f6,#f8f4f1,#f8f2ee,#f8f1ec,#f8f1ed,#f8f3f0,#f8f4f2,#f7f5f4,#f7f6f6,#f5f6f7,#f2f5f6,#eff3f6,#f0f4f6,#f5f6f7,#f7f6f6,#f8f5f3,#f8f4f1,#f8f4f2,#f7f5f4,#f7f6f6,#f7f7f6,#f8f5f3,#f8f2ef,#f8f0ec,#f9f0eb,#f8f1ed,#f8f4f2,#f7f7f7,#f5f6f7,#f4f5f6,#f6f6f7,#f7f5f4,#f8f4f2,#f7f5f4,#f7f5f3,#f8f4f1,#f8f3f1)"></div><div style="height:4.134px;background:linear-gradient(90deg,#f8f4f1,#f7f6f6,#f6f7f7,#f7f7f7,#f7f6f6,#f7f6f6,#f7f6f6,#f7f7f7,#f6f6f7,#f4f6f6,#f1f4f6,#eef3f5,#e7eff4,#dfecf3,#ddebf2,#e2edf3,#eaf1f5,#eef3f5,#eff3f6,#eff3f6,#f1f4f6,#f2f5f6,#f3f5f6,#f3f5f6,#f4f6f7,#f7f7f7,#f7f6f5,#f7f7f6,#f4f6f7,#f5f6f7,#f7f7f7,#f7f7f7,#f5f6f7,#f6f7f7,#f7f7f7,#f6f6f7,#f3f5f6,#f2f5f6,#f4f6f6,#f5f6f7,#f5f6f7,#f4f5f6,#f3f5f6,#f2f5f6,#f1f4f6,#f0f4f6,#f1f4f6,#f5f6f7,#f7f6f6,#f7f6f6,#f7f6f6,#f8f3f0,#faebe2,#fdddca,#facab2,#fbd0b9,#fce1d2,#f9eee8,#f5f6f7,#eef3f5,#f0f4f6,#f5f6f7,#f7f7f7,#f4f5f6,#f1f4f6,#f4f5f6,#f7f5f4,#f8f2ef,#f8f2ef,#f8f5f3,#f5f6f7,#f4f6f6,#f6f7f7,#f6f6f7,#f4f6f6,#f5f6f7,#f4f5f6,#eef3f5,#e9f0f4,#eaf1f5,#eff3f5,#f3f5f6,#f6f6f7,#f7f6f5,#f8f3f0,#f8f1ed,#f8f1ec,#f8f1ed,#f8f3f0,#f8f4f2,#f7f5f3,#f7f6f6,#f5f6f7,#f1f4f6,#edf2f5,#eef3f5,#f3f5f6,#f7f7f6,#f8f4f3,#f8f3f1,#f8f4f1,#f8f4f3,#f7f5f3,#f8f5f3,#f8f3f0,#f8f1ec,#f9efe9,#f9eee7,#f9f0ea,#f8f3f0,#f7f6f5,#f5f6f7,#f5f6f7,#f7f7f7,#f8f4f2,#f8f3f1,#f7f5f3,#f8f5f3,#f8f3f1,#f8f3ef)"></div><div style="height:4.134px;background:linear-gradient(90deg,#f8f4f2,#f7f7f6,#f6f6f7,#f7f7f7,#f7f6f6,#f7f6f5,#f7f6f6,#f7f7f7,#f5f6f7,#f3f5f6,#f0f3f6,#ecf2f5,#e4eef3,#dae9f2,#d6e7f1,#d9e9f2,#e1ecf3,#e4eef4,#e6eff4,#e8f0f4,#ebf1f5,#f0f4f6,#f2f5f6,#f3f5f6,#f4f5f6,#f6f6f7,#f7f6f6,#f7f7f6,#f5f6f7,#f5f6f7,#f6f6f7,#f6f6f7,#f4f6f7,#f5f6f7,#f7f7f7,#f6f6f7,#f3f5f6,#f3f5f6,#f4f6f7,#f5f6f7,#f5f6f7,#f4f5f6,#f3f5f6,#f3f5f6,#f1f4f6,#eff3f6,#f0f4f6,#f4f6f6,#f7f7f7,#f7f7f7,#f7f6f6,#f8f1ed,#fbe6d9,#fbd0b9,#f8bfa3,#facab2,#fce0d0,#f9eee8,#f5f6f7,#eef3f5,#f0f4f6,#f5f6f7,#f7f7f7,#f4f6f6,#f2f5f6,#f4f5f6,#f7f5f4,#f8f2ef,#f8f2ef,#f7f5f3,#f5f6f7,#f5f6f7,#f7f6f5,#f7f6f5,#f7f7f6,#f7f6f6,#f6f7f7,#f0f4f6,#eaf1f5,#ebf2f5,#f0f3f6,#f3f5f6,#f6f6f7,#f7f6f5,#f8f3f0,#f8f1ed,#f8f1ed,#f8f1ed,#f8f3f0,#f8f4f1,#f8f4f3,#f7f6f5,#f6f6f7,#f1f4f6,#ecf2f5,#ecf2f5,#f2f4f6,#f7f7f6,#f8f4f2,#f8f3f0,#f8f3f0,#f8f3f1,#f8f3f0,#f8f2ef,#f8f1ed,#f9efea,#f9ede5,#f9ece4,#f9eee7,#f8f1ed,#f7f5f3,#f6f7f7,#f5f6f7,#f7f6f5,#f8f3f0,#f8f3ef,#f8f5f3,#f7f5f3,#f8f3f1,#f8f2ee)"></div><div style="height:4.134px;background:linear-gradient(90deg,#f7f5f3,#f7f7f7,#f5f6f7,#f6f7f7,#f7f7f6,#f7f6f6,#f7f6f6,#f7f7f7,#f5f6f7,#f3f5f6,#eff3f5,#ebf1f5,#e1edf3,#d7e8f1,#d0e4f0,#d1e5f0,#d6e7f1,#d7e8f1,#d9e9f1,#ddebf2,#e4eef4,#ecf2f5,#f1f4f6,#f2f5f6,#f3f5f6,#f4f6f7,#f7f7f7,#f7f7f6,#f6f6f7,#f5f6f7,#f5f6f7,#f5f6f7,#f4f5f6,#f4f6f6,#f6f7f7,#f5f6f7,#f3f5f6,#f3f5f6,#f5f6f7,#f5f6f7,#f5f6f7,#f4f6f6,#f3f5f6,#f2f5f6,#f0f4f6,#eff3f5,#f0f3f6,#f3f5f6,#f6f7f7,#f6f7f7,#f7f6f5,#f9efea,#fce1d2,#f9c3a9,#f6b393,#f9c3a8,#fcdfcd,#f9eee7,#f5f6f7,#eef3f5,#f0f4f6,#f5f6f7,#f7f7f7,#f5f6f7,#f3f5f6,#f5f6f7,#f7f5f4,#f8f3ef,#f8f3f0,#f7f5f4,#f6f7f7,#f7f6f5,#f8f1ed,#f9efe9,#f9eee7,#f9ede7,#f9f0eb,#f7f5f4,#f4f6f6,#f5f6f7,#f6f6f7,#f5f6f7,#f6f6f7,#f7f6f5,#f8f3f0,#f8f2ee,#f8f1ed,#f8f1ed,#f8f3f0,#f8f4f1,#f8f4f2,#f7f6f5,#f7f7f7,#f2f5f6,#ecf2f5,#ebf1f5,#f1f4f6,#f7f6f6,#f8f4f1,#f8f2ee,#f8f2ef,#f8f3ef,#f8f2ee,#f8f1ec,#f9f0eb,#f9eee8,#faebe3,#faeae1,#f9ede5,#f9f0eb,#f8f4f2,#f7f7f7,#f6f7f7,#f7f5f3,#f8f2ee,#f8f2ef,#f8f5f3,#f7f5f4,#f8f4f1,#f8f2ee)"></div><div style="height:4.134px;background:linear-gradient(90deg,#f7f5f4,#f6f7f7,#f5f6f7,#f6f6f7,#f7f7f7,#f7f7f7,#f7f7f7,#f6f7f7,#f5f6f7,#f2f5f6,#eef3f5,#eaf1f5,#e0ecf3,#d4e6f1,#c8e0ed,#c4deec,#c6e0ed,#c5dfed,#c8e0ed,#d3e6f0,#ddebf2,#e9f0f4,#f0f4f6,#f2f5f6,#f2f5f6,#f4f5f6,#f6f6f7,#f7f7f7,#f6f7f7,#f4f6f6,#f4f5f6,#f4f6f6,#f3f5f6,#f3f5f6,#f6f6f7,#f5f6f7,#f3f5f6,#f3f5f6,#f5f6f7,#f6f7f7,#f6f6f7,#f4f6f7,#f2f5f6,#f1f4f6,#f0f4f6,#eef3f5,#eff3f6,#f3f5f6,#f6f6f7,#f6f7f7,#f7f5f4,#f9eee8,#fcdfcf,#f8bea2,#f5ad8c,#f8bea2,#fdddcb,#f9ede6,#f5f6f7,#eef3f5,#f1f4f6,#f7f7f7,#f8f5f3,#f7f5f4,#f7f7f7,#f6f7f7,#f7f5f4,#f8f3f0,#f8f4f1,#f7f5f4,#f7f6f5,#f8f2ee,#fae9e0,#fbe3d5,#fce0cf,#fce0d0,#fbe6d9,#f9ede6,#f8f2ef,#f8f3f0,#f8f4f2,#f7f7f7,#f6f6f7,#f7f6f5,#f8f3f0,#f8f2ef,#f8f2ee,#f8f1ee,#f8f3f0,#f8f4f2,#f8f4f2,#f7f5f4,#f7f6f6,#f4f5f6,#edf2f5,#ecf2f5,#f2f4f6,#f7f6f5,#f8f3f0,#f8f1ed,#f8f1ed,#f8f2ef,#f8f1ed,#f9f0eb,#f9efe9,#f9ede6,#faebe2,#faeae1,#f9ece4,#f9efe9,#f8f3f0,#f7f7f7,#f7f7f7,#f8f4f2,#f8f1ed,#f8f2ee,#f7f5f4,#f7f6f6,#f8f4f2,#f8f1ed)"></div><div style="height:4.134px;background:linear-gradient(90deg,#f7f6f6,#f6f6f7,#f5f6f7,#f6f6f7,#f7f7f7,#f7f7f7,#f6f7f7,#f6f6f7,#f4f6f7,#f2f5f6,#eef3f5,#eaf1f5,#dfecf3,#d3e6f0,#c3deec,#badaea,#b8d8e9,#b4d6e8,#b7d8e9,#c7e0ed,#d8e8f1,#e7eff4,#f0f4f6,#f2f5f6,#f2f5f6,#f3f5f6,#f5f6f7,#f6f7f7,#f6f6f7,#f3f5f6,#f2f5f6,#f3f5f6,#f2f5f6,#f2f5f6,#f5f6f7,#f5f6f7,#f4f5f6,#f4f6f6,#f6f7f7,#f7f7f7,#f7f7f7,#f5f6f7,#f2f4f6,#f0f4f6,#eff3f6,#eff3f6,#f0f4f6,#f3f5f6,#f5f6f7,#f7f7f7,#f8f4f2,#f9ede6,#fcdfce,#f8bea2,#f5ad8c,#f8bda1,#fddcc9,#f9ece4,#f7f7f7,#f0f4f6,#f3f5f6,#f8f3f1,#f9eee7,#f9ece4,#f9f0eb,#f8f4f3,#f8f5f3,#f8f4f1,#f8f5f3,#f7f5f4,#f8f4f3,#f9eee8,#fbe5d7,#fdddca,#fcd6c0,#fcd7c3,#fce0d0,#fae9df,#f9efea,#f8f0ec,#f8f2ee,#f7f6f5,#f6f7f7,#f7f6f5,#f8f3f1,#f8f3f0,#f8f2ee,#f8f2ee,#f8f3f0,#f8f4f3,#f7f5f3,#f7f5f4,#f7f6f5,#f5f6f7,#eff3f6,#edf2f5,#f2f5f6,#f7f5f4,#f8f2ef,#f8f0eb,#f8f1ec,#f8f2ee,#f8f1ed,#f9f0ea,#f9efe9,#f9eee7,#f9ece3,#faebe3,#f9ece5,#f9eee8,#f8f2ef,#f7f7f6,#f6f7f7,#f8f4f2,#f8f1ed,#f8f2ef,#f7f6f5,#f7f7f7,#f7f5f3,#f8f2ee)"></div><div style="height:4.134px;background:linear-gradient(90deg,#f7f7f6,#f5f6f7,#f5f6f7,#f6f7f7,#f7f7f7,#f6f7f7,#f6f6f7,#f6f6f7,#f5f6f7,#f3f5f6,#eff3f5,#eaf1f5,#dfecf3,#d4e6f0,#c5dfed,#bbdaea,#b7d8e8,#b1d5e7,#b4d6e8,#c5dfed,#d8e8f1,#e7eff4,#f1f4f6,#f3f5f6,#f3f5f6,#f3f5f6,#f4f6f6,#f6f6f7,#f5f6f7,#f3f5f6,#f1f4f6,#f2f5f6,#f1f4f6,#f2f4f6,#f5f6f7,#f6f6f7,#f4f6f7,#f5f6f7,#f7f6f6,#f7f5f4,#f7f5f3,#f7f6f5,#f5f6f7,#f5f6f7,#f5f6f7,#f5f6f7,#f5f6f7,#f7f7f7,#f7f7f6,#f7f5f3,#f8f0ec,#fae9de,#fcd5c0,#f5ab8a,#ec9273,#f4a784,#faccb4,#fbe6da,#f8f4f1,#f3f5f6,#f6f7f7,#f9efe9,#fbe6d9,#fbe2d4,#fae9de,#f8f1ed,#f8f3f1,#f8f3f1,#f8f4f2,#f8f3f0,#f9f0ea,#fbe6db,#fdd9c5,#fac8ae,#f8bea2,#f9c1a5,#fbd1ba,#fce1d1,#fae9e0,#f9ede5,#f9efea,#f8f4f2,#f7f7f7,#f7f6f5,#f8f4f1,#f8f3f0,#f8f2ee,#f8f1ed,#f8f3f1,#f7f5f3,#f7f5f4,#f7f5f4,#f7f5f3,#f7f7f7,#f1f4f6,#eef3f5,#f3f5f6,#f8f4f2,#f8f1ed,#f9f0ea,#f8f0ec,#f8f2ee,#f8f1ed,#f9f0eb,#f9efe9,#f9eee8,#f9ede6,#f9ede6,#f9ede6,#f9eee8,#f8f2ee,#f7f7f7,#f6f7f7,#f8f4f2,#f8f1ed,#f8f3f0,#f7f6f5,#f7f7f7,#f7f5f4,#f8f2ef)"></div><div style="height:4.134px;background:linear-gradient(90deg,#f7f7f6,#f6f6f7,#f5f6f7,#f7f7f7,#f7f7f6,#f7f7f7,#f6f7f7,#f7f7f7,#f6f7f7,#f5f6f7,#f1f4f6,#ecf2f5,#e3edf3,#d9e9f2,#d1e5f0,#c8e1ee,#c5dfed,#c0dceb,#c1ddeb,#d1e5f0,#deebf2,#ecf2f5,#f5f6f7,#f7f7f7,#f5f6f7,#f6f6f7,#f6f7f7,#f7f6f6,#f7f6f6,#f5f6f7,#f3f5f6,#f5f6f7,#f4f6f6,#f5f6f7,#f7f6f5,#f7f5f4,#f7f6f5,#f8f5f3,#f8f2ee,#f9efea,#f9ede6,#f9ece5,#f9eee7,#f9ede5,#f9ece3,#f9ece3,#f9ede5,#f9eee7,#f9efea,#f9ede7,#fae7dc,#fddcc8,#f6b090,#db6b55,#c8433f,#d45c4b,#f09c7b,#fbd2bb,#faeae0,#f8f2ef,#f8f2ef,#faebe3,#fbe3d4,#fcdfce,#fbe4d6,#f9ece4,#f9eee8,#f9eee7,#f9ede6,#faeae1,#fce2d3,#facab2,#f4a683,#e58267,#dd6f59,#df755d,#ee9677,#f8bca0,#fdd9c4,#fce1d2,#fbe7db,#f9ede5,#f8f1ed,#f8f1ec,#f9efe9,#f9eee8,#f9ede6,#f9ece5,#f9efe8,#f8f0ec,#f8f1ed,#f8f1ed,#f8f0eb,#f8f2ee,#f7f7f7,#f4f5f6,#f7f6f5,#f9f0eb,#f9ede6,#f9ece4,#f9ede5,#f9eee8,#f9eee7,#f9ede5,#f9ece4,#f9ece4,#f9ebe3,#f9ece4,#f9ece3,#f9ebe3,#f9efe9,#f8f4f2,#f7f6f5,#f8f2ee,#f9efea,#f8f1ec,#f8f4f2,#f7f5f4,#f8f3f1,#f8f0ec)"></div><div style="height:4.134px;background:linear-gradient(90deg,#f7f6f6,#f6f7f7,#f6f6f7,#f7f7f6,#f7f6f5,#f7f7f7,#f7f7f7,#f7f7f6,#f7f7f6,#f6f7f7,#f3f5f6,#eff3f5,#e7eff4,#e1ecf3,#dbeaf2,#d9e9f1,#d8e8f1,#d5e7f1,#d4e7f1,#dceaf2,#e7eff4,#f2f4f6,#f7f5f4,#f7f5f3,#f7f6f6,#f7f7f6,#f7f6f6,#f7f5f4,#f7f5f4,#f7f7f7,#f5f6f7,#f7f7f7,#f6f7f7,#f7f7f7,#f8f4f2,#f8f3f1,#f8f3f1,#f8f2ef,#f9efea,#f9ede5,#faebe2,#faeae0,#faebe3,#faeae1,#fae8de,#fae8dd,#fae9df,#faeae1,#f9ece4,#faeae0,#fbe3d4,#fcd2bc,#f4a582,#d45b4b,#be3137,#ca4842,#e8896d,#f9c5ab,#fbe4d7,#f9eee8,#f9efea,#f9ece4,#fae7dc,#fbe5d7,#fbe6db,#faebe2,#faebe2,#faeae0,#fae9df,#fbe6d9,#fdddcb,#f9c1a6,#f09c7b,#e17a61,#da6954,#dc6f58,#ea8e71,#f7b597,#fbd0b9,#fdddca,#fce2d3,#fae8dd,#f9ede6,#f9ede6,#faebe3,#faebe2,#fae9e0,#fae9df,#faebe3,#f9ede6,#f9efe8,#f9eee8,#f9ede6,#f9efe9,#f8f4f1,#f7f6f6,#f8f3f0,#f9ede6,#faeae2,#fae9e0,#faeae1,#f9ece5,#f9ece4,#faebe2,#faeae1,#faeae2,#faebe2,#f9ebe3,#faebe2,#faeae1,#f9ede6,#f8f3f0,#f8f4f2,#f8f0ec,#f9eee7,#f9f0ea,#f8f3f0,#f8f4f1,#f8f2ee,#f9efea)"></div></div><div style="position:absolute;left:418.50px;top:441.70px;width:132.60px;height:124.60px;border-radius:50%;overflow:hidden"><div style="height:1.5px;background:linear-gradient(90deg,#330000,#310000,#2f0000,#2d0000,#2b0000,#290000,#270000,#250000,#230000,#210000,#1f0000,#1d0000,#1b0000,#190000,#180000,#160000,#140000,#130000,#110000,#100000,#0e0000,#0d0000,#0c0000,#0b0000,#0a0000,#090000,#080000,#070000,#070000,#060000,#060000,#060000,#060000,#060000,#060000,#060000,#060000,#070000,#080000,#080000,#090000,#0a0000,#0b0000,#0c0000,#0e0000,#0f0000,#110000,#120000,#140000,#150000,#170000,#190000,#1b0000,#1d0000,#1e0000,#200000,#220000,#240000,#260000,#280000,#2b0000,#2d0000,#2f0000,#310000,#330000,#350000,#370000,#380000)"></div><div style="height:1.5px;background:linear-gradient(90deg,#330000,#310000,#2f0000,#2d0000,#2b0000,#290000,#270000,#250000,#230000,#210000,#1f0000,#1d0000,#1b0000,#190000,#170000,#150000,#140000,#120000,#100000,#0f0000,#0e0000,#0c0000,#0b0000,#0a0000,#090000,#080000,#070000,#070000,#060000,#050000,#050000,#050000,#050000,#050000,#050000,#050000,#060000,#060000,#070000,#080000,#090000,#0a0000,#0b0000,#0c0000,#0d0000,#0e0000,#100000,#110000,#130000,#150000,#160000,#180000,#1a0000,#1c0000,#1e0000,#200000,#220000,#240000,#260000,#280000,#2a0000,#2c0000,#2e0000,#300000,#320000,#340000,#360000,#380000)"></div><div style="height:1.5px;background:linear-gradient(90deg,#330000,#310000,#2f0000,#2c0000,#2a0000,#280000,#260000,#240000,#220000,#200000,#1e0000,#1c0000,#1a0000,#180000,#170000,#150000,#130000,#110000,#100000,#0e0000,#0d0000,#0c0000,#0a0000,#090000,#080000,#070000,#070000,#060000,#050000,#050000,#050000,#040000,#040000,#040000,#040000,#050000,#050000,#060000,#060000,#070000,#080000,#090000,#0a0000,#0b0000,#0c0000,#0e0000,#0f0000,#110000,#120000,#140000,#160000,#180000,#1a0000,#1c0000,#1d0000,#1f0000,#210000,#240000,#260000,#280000,#2a0000,#2c0000,#2e0000,#300000,#320000,#340000,#360000,#380000)"></div><div style="height:1.5px;background:linear-gradient(90deg,#320000,#300000,#2e0000,#2c0000,#2a0000,#280000,#260000,#240000,#220000,#200000,#1e0000,#1c0000,#1a0000,#180000,#160000,#140000,#130000,#110000,#0f0000,#0e0000,#0c0000,#0b0000,#0a0000,#090000,#080000,#070000,#060000,#050000,#050000,#040000,#040000,#040000,#040000,#040000,#040000,#040000,#050000,#050000,#060000,#060000,#070000,#080000,#090000,#0b0000,#0c0000,#0d0000,#0f0000,#100000,#120000,#140000,#150000,#170000,#190000,#1b0000,#1d0000,#1f0000,#210000,#230000,#250000,#270000,#290000,#2b0000,#2d0000,#300000,#320000,#340000,#360000,#380000)"></div><div style="height:1.5px;background:linear-gradient(90deg,#320000,#300000,#2e0000,#2c0000,#2a0000,#280000,#250000,#230000,#210000,#1f0000,#1d0000,#1b0000,#190000,#170000,#160000,#140000,#120000,#100000,#0f0000,#0d0000,#0c0000,#0b0000,#090000,#080000,#070000,#060000,#050000,#050000,#040000,#040000,#030000,#030000,#030000,#030000,#030000,#040000,#040000,#040000,#050000,#060000,#070000,#080000,#090000,#0a0000,#0b0000,#0d0000,#0e0000,#100000,#110000,#130000,#150000,#170000,#190000,#1b0000,#1d0000,#1f0000,#210000,#230000,#250000,#270000,#290000,#2b0000,#2d0000,#2f0000,#310000,#330000,#350000,#370000)"></div><div style="height:1.5px;background:linear-gradient(90deg,#320000,#300000,#2e0000,#2b0000,#290000,#270000,#250000,#230000,#210000,#1f0000,#1d0000,#1b0000,#190000,#170000,#150000,#130000,#120000,#100000,#0e0000,#0d0000,#0b0000,#0a0000,#090000,#080000,#070000,#060000,#050000,#040000,#040000,#030000,#030000,#030000,#030000,#030000,#030000,#030000,#030000,#040000,#050000,#050000,#060000,#070000,#080000,#0a0000,#0b0000,#0c0000,#0e0000,#0f0000,#110000,#130000,#150000,#160000,#180000,#1a0000,#1c0000,#1e0000,#200000,#220000,#240000,#270000,#290000,#2b0000,#2d0000,#2f0000,#310000,#330000,#350000,#370000)"></div><div style="height:1.5px;background:linear-gradient(90deg,#310000,#2f0000,#2d0000,#2b0000,#290000,#270000,#250000,#230000,#210000,#1f0000,#1d0000,#1b0000,#190000,#170000,#150000,#130000,#110000,#100000,#0e0000,#0c0000,#0b0000,#0a0000,#080000,#070000,#060000,#050000,#040000,#040000,#030000,#030000,#020000,#020000,#020000,#020000,#020000,#030000,#030000,#040000,#040000,#050000,#060000,#070000,#080000,#090000,#0a0000,#0c0000,#0d0000,#0f0000,#110000,#120000,#140000,#160000,#180000,#1a0000,#1c0000,#1e0000,#200000,#220000,#240000,#260000,#280000,#2b0000,#2d0000,#2f0000,#310000,#330000,#350000,#370000)"></div><div style="height:1.5px;background:linear-gradient(90deg,#310000,#2f0000,#2d0000,#2b0000,#290000,#270000,#250000,#220000,#200000,#1e0000,#1c0000,#1a0000,#180000,#160000,#140000,#130000,#110000,#0f0000,#0e0000,#0c0000,#0b0000,#090000,#080000,#070000,#060000,#050000,#040000,#030000,#030000,#020000,#020000,#020000,#020000,#020000,#020000,#020000,#030000,#030000,#040000,#050000,#050000,#060000,#080000,#090000,#0a0000,#0c0000,#0d0000,#0f0000,#100000,#120000,#140000,#160000,#180000,#1a0000,#1c0000,#1e0000,#200000,#220000,#240000,#260000,#280000,#2a0000,#2c0000,#2e0000,#310000,#330000,#350000,#370000)"></div><div style="height:1.5px;background:linear-gradient(90deg,#310000,#2f0000,#2d0000,#2b0000,#290000,#260000,#240000,#220000,#200000,#1e0000,#1c0000,#1a0000,#180000,#160000,#140000,#120000,#110000,#0f0000,#0d0000,#0c0000,#0a0000,#090000,#080000,#060000,#050000,#040000,#040000,#030000,#020000,#020000,#020000,#010000,#010000,#010000,#010000,#020000,#020000,#030000,#030000,#040000,#050000,#060000,#070000,#080000,#0a0000,#0b0000,#0d0000,#0e0000,#100000,#120000,#140000,#150000,#170000,#190000,#1b0000,#1d0000,#1f0000,#220000,#240000,#260000,#280000,#2a0000,#2c0000,#2e0000,#300000,#320000,#350000,#370000)"></div><div style="height:1.5px;background:linear-gradient(90deg,#310000,#2f0000,#2d0000,#2b0000,#280000,#260000,#240000,#220000,#200000,#1e0000,#1c0000,#1a0000,#180000,#160000,#140000,#120000,#100000,#0f0000,#0d0000,#0b0000,#0a0000,#090000,#070000,#060000,#050000,#040000,#030000,#030000,#020000,#020000,#010000,#010000,#010000,#010000,#010000,#010000,#020000,#020000,#030000,#040000,#050000,#060000,#070000,#080000,#090000,#0b0000,#0c0000,#0e0000,#100000,#110000,#130000,#150000,#170000,#190000,#1b0000,#1d0000,#1f0000,#210000,#230000,#260000,#280000,#2a0000,#2c0000,#2e0000,#300000,#320000,#340000,#360000)"></div><div style="height:1.5px;background:linear-gradient(90deg,#310000,#2f0000,#2d0000,#2a0000,#280000,#260000,#240000,#220000,#200000,#1e0000,#1c0000,#190000,#170000,#160000,#140000,#120000,#100000,#0e0000,#0d0000,#0b0000,#0a0000,#080000,#070000,#060000,#050000,#040000,#030000,#020000,#020000,#010000,#010000,#010000,#010000,#010000,#010000,#010000,#020000,#020000,#030000,#040000,#040000,#060000,#070000,#080000,#090000,#0b0000,#0c0000,#0e0000,#0f0000,#110000,#130000,#150000,#170000,#190000,#1b0000,#1d0000,#1f0000,#210000,#230000,#250000,#280000,#2a0000,#2c0000,#2e0000,#300000,#320000,#340000,#360000)"></div><div style="height:1.5px;background:linear-gradient(90deg,#310000,#2f0000,#2c0000,#2a0000,#280000,#260000,#240000,#220000,#200000,#1d0000,#1b0000,#190000,#170000,#150000,#130000,#120000,#100000,#0e0000,#0c0000,#0b0000,#090000,#080000,#070000,#060000,#050000,#040000,#030000,#020000,#020000,#010000,#010000,#000000,#000000,#000000,#010000,#010000,#010000,#020000,#030000,#030000,#040000,#050000,#060000,#080000,#090000,#0a0000,#0c0000,#0e0000,#0f0000,#110000,#130000,#150000,#170000,#190000,#1b0000,#1d0000,#1f0000,#210000,#230000,#250000,#270000,#2a0000,#2c0000,#2e0000,#300000,#320000,#340000,#360000)"></div><div style="height:1.5px;background:linear-gradient(90deg,#310000,#2e0000,#2c0000,#2a0000,#280000,#260000,#240000,#220000,#1f0000,#1d0000,#1b0000,#190000,#170000,#150000,#130000,#110000,#100000,#0e0000,#0c0000,#0b0000,#090000,#080000,#070000,#050000,#040000,#030000,#030000,#020000,#010000,#010000,#010000,#000000,#000000,#000000,#000000,#010000,#010000,#020000,#020000,#030000,#040000,#050000,#060000,#070000,#090000,#0a0000,#0c0000,#0d0000,#0f0000,#110000,#130000,#150000,#170000,#190000,#1b0000,#1d0000,#1f0000,#210000,#230000,#250000,#270000,#290000,#2c0000,#2e0000,#300000,#320000,#340000,#360000)"></div><div style="height:1.5px;background:linear-gradient(90deg,#300000,#2e0000,#2c0000,#2a0000,#280000,#260000,#240000,#210000,#1f0000,#1d0000,#1b0000,#190000,#170000,#150000,#130000,#110000,#100000,#0e0000,#0c0000,#0b0000,#090000,#080000,#070000,#050000,#040000,#030000,#030000,#020000,#010000,#010000,#000000,#000000,#000000,#000000,#000000,#010000,#010000,#020000,#020000,#030000,#040000,#050000,#060000,#070000,#090000,#0a0000,#0c0000,#0d0000,#0f0000,#110000,#130000,#140000,#160000,#180000,#1a0000,#1d0000,#1f0000,#210000,#230000,#250000,#270000,#290000,#2c0000,#2e0000,#300000,#320000,#340000,#360000)"></div><div style="height:1.5px;background:linear-gradient(90deg,#300000,#2e0000,#2c0000,#2a0000,#280000,#260000,#240000,#210000,#1f0000,#1d0000,#1b0000,#190000,#170000,#150000,#130000,#110000,#0f0000,#0e0000,#0c0000,#0b0000,#090000,#080000,#060000,#050000,#040000,#030000,#020000,#020000,#010000,#010000,#000000,#000000,#000000,#000000,#000000,#010000,#010000,#020000,#020000,#030000,#040000,#050000,#060000,#070000,#090000,#0a0000,#0c0000,#0d0000,#0f0000,#110000,#130000,#140000,#160000,#180000,#1a0000,#1c0000,#1f0000,#210000,#230000,#250000,#270000,#290000,#2b0000,#2e0000,#300000,#320000,#340000,#360000)"></div><div style="height:1.5px;background:linear-gradient(90deg,#300000,#2e0000,#2c0000,#2a0000,#280000,#260000,#240000,#210000,#1f0000,#1d0000,#1b0000,#190000,#170000,#150000,#130000,#110000,#0f0000,#0e0000,#0c0000,#0b0000,#090000,#080000,#060000,#050000,#040000,#030000,#020000,#020000,#010000,#010000,#000000,#000000,#000000,#000000,#000000,#010000,#010000,#010000,#020000,#030000,#040000,#050000,#060000,#070000,#090000,#0a0000,#0c0000,#0d0000,#0f0000,#110000,#130000,#140000,#160000,#180000,#1a0000,#1c0000,#1f0000,#210000,#230000,#250000,#270000,#290000,#2b0000,#2e0000,#300000,#320000,#340000,#360000)"></div><div style="height:1.5px;background:linear-gradient(90deg,#300000,#2e0000,#2c0000,#2a0000,#280000,#260000,#240000,#210000,#1f0000,#1d0000,#1b0000,#190000,#170000,#150000,#130000,#110000,#0f0000,#0e0000,#0c0000,#0b0000,#090000,#080000,#060000,#050000,#040000,#030000,#020000,#020000,#010000,#010000,#000000,#000000,#000000,#000000,#000000,#010000,#010000,#020000,#020000,#030000,#040000,#050000,#060000,#070000,#090000,#0a0000,#0c0000,#0d0000,#0f0000,#110000,#130000,#140000,#160000,#180000,#1a0000,#1c0000,#1f0000,#210000,#230000,#250000,#270000,#290000,#2b0000,#2e0000,#300000,#320000,#340000,#360000)"></div><div style="height:1.5px;background:linear-gradient(90deg,#300000,#2e0000,#2c0000,#2a0000,#280000,#260000,#240000,#210000,#1f0000,#1d0000,#1b0000,#190000,#170000,#150000,#130000,#110000,#100000,#0e0000,#0c0000,#0b0000,#090000,#080000,#070000,#050000,#040000,#030000,#030000,#020000,#010000,#010000,#000000,#000000,#000000,#000000,#000000,#010000,#010000,#020000,#020000,#030000,#040000,#050000,#060000,#070000,#090000,#0a0000,#0c0000,#0d0000,#0f0000,#110000,#130000,#140000,#160000,#180000,#1a0000,#1d0000,#1f0000,#210000,#230000,#250000,#270000,#290000,#2c0000,#2e0000,#300000,#320000,#340000,#360000)"></div><div style="height:1.5px;background:linear-gradient(90deg,#310000,#2e0000,#2c0000,#2a0000,#280000,#260000,#240000,#220000,#1f0000,#1d0000,#1b0000,#190000,#170000,#150000,#130000,#110000,#100000,#0e0000,#0c0000,#0b0000,#090000,#080000,#070000,#050000,#040000,#030000,#030000,#020000,#010000,#010000,#010000,#000000,#000000,#000000,#000000,#010000,#010000,#020000,#020000,#030000,#040000,#050000,#060000,#070000,#090000,#0a0000,#0c0000,#0d0000,#0f0000,#110000,#130000,#150000,#170000,#190000,#1b0000,#1d0000,#1f0000,#210000,#230000,#250000,#270000,#290000,#2c0000,#2e0000,#300000,#320000,#340000,#360000)"></div><div style="height:1.5px;background:linear-gradient(90deg,#310000,#2f0000,#2c0000,#2a0000,#280000,#260000,#240000,#220000,#200000,#1d0000,#1b0000,#190000,#170000,#150000,#130000,#120000,#100000,#0e0000,#0c0000,#0b0000,#090000,#080000,#070000,#060000,#050000,#040000,#030000,#020000,#020000,#010000,#010000,#000000,#000000,#000000,#010000,#010000,#010000,#020000,#030000,#030000,#040000,#050000,#060000,#080000,#090000,#0a0000,#0c0000,#0e0000,#0f0000,#110000,#130000,#150000,#170000,#190000,#1b0000,#1d0000,#1f0000,#210000,#230000,#250000,#270000,#2a0000,#2c0000,#2e0000,#300000,#320000,#340000,#360000)"></div><div style="height:1.5px;background:linear-gradient(90deg,#310000,#2f0000,#2d0000,#2a0000,#280000,#260000,#240000,#220000,#200000,#1e0000,#1c0000,#190000,#170000,#160000,#140000,#120000,#100000,#0e0000,#0d0000,#0b0000,#0a0000,#080000,#070000,#060000,#050000,#040000,#030000,#020000,#020000,#010000,#010000,#010000,#010000,#010000,#010000,#010000,#020000,#020000,#030000,#040000,#040000,#060000,#070000,#080000,#090000,#0b0000,#0c0000,#0e0000,#0f0000,#110000,#130000,#150000,#170000,#190000,#1b0000,#1d0000,#1f0000,#210000,#230000,#250000,#280000,#2a0000,#2c0000,#2e0000,#300000,#320000,#340000,#360000)"></div><div style="height:1.5px;background:linear-gradient(90deg,#310000,#2f0000,#2d0000,#2b0000,#280000,#260000,#240000,#220000,#200000,#1e0000,#1c0000,#1a0000,#180000,#160000,#140000,#120000,#100000,#0f0000,#0d0000,#0b0000,#0a0000,#090000,#070000,#060000,#050000,#040000,#030000,#030000,#020000,#020000,#010000,#010000,#010000,#010000,#010000,#010000,#020000,#020000,#030000,#040000,#050000,#060000,#070000,#080000,#090000,#0b0000,#0c0000,#0e0000,#100000,#110000,#130000,#150000,#170000,#190000,#1b0000,#1d0000,#1f0000,#210000,#230000,#260000,#280000,#2a0000,#2c0000,#2e0000,#300000,#320000,#340000,#360000)"></div><div style="height:1.5px;background:linear-gradient(90deg,#310000,#2f0000,#2d0000,#2b0000,#290000,#260000,#240000,#220000,#200000,#1e0000,#1c0000,#1a0000,#180000,#160000,#140000,#120000,#110000,#0f0000,#0d0000,#0c0000,#0a0000,#090000,#080000,#060000,#050000,#040000,#040000,#030000,#020000,#020000,#020000,#010000,#010000,#010000,#010000,#020000,#020000,#030000,#030000,#040000,#050000,#060000,#070000,#080000,#0a0000,#0b0000,#0d0000,#0e0000,#100000,#120000,#140000,#150000,#170000,#190000,#1b0000,#1d0000,#1f0000,#220000,#240000,#260000,#280000,#2a0000,#2c0000,#2e0000,#300000,#320000,#350000,#370000)"></div><div style="height:1.5px;background:linear-gradient(90deg,#310000,#2f0000,#2d0000,#2b0000,#290000,#270000,#250000,#220000,#200000,#1e0000,#1c0000,#1a0000,#180000,#160000,#140000,#130000,#110000,#0f0000,#0e0000,#0c0000,#0b0000,#090000,#080000,#070000,#060000,#050000,#040000,#030000,#030000,#020000,#020000,#020000,#020000,#020000,#020000,#020000,#030000,#030000,#040000,#050000,#050000,#060000,#080000,#090000,#0a0000,#0c0000,#0d0000,#0f0000,#100000,#120000,#140000,#160000,#180000,#1a0000,#1c0000,#1e0000,#200000,#220000,#240000,#260000,#280000,#2a0000,#2c0000,#2e0000,#310000,#330000,#350000,#370000)"></div><div style="height:1.5px;background:linear-gradient(90deg,#310000,#2f0000,#2d0000,#2b0000,#290000,#270000,#250000,#230000,#210000,#1f0000,#1d0000,#1b0000,#190000,#170000,#150000,#130000,#110000,#100000,#0e0000,#0c0000,#0b0000,#0a0000,#080000,#070000,#060000,#050000,#040000,#040000,#030000,#030000,#020000,#020000,#020000,#020000,#020000,#030000,#030000,#040000,#040000,#050000,#060000,#070000,#080000,#090000,#0a0000,#0c0000,#0d0000,#0f0000,#110000,#120000,#140000,#160000,#180000,#1a0000,#1c0000,#1e0000,#200000,#220000,#240000,#260000,#280000,#2b0000,#2d0000,#2f0000,#310000,#330000,#350000,#370000)"></div><div style="height:1.5px;background:linear-gradient(90deg,#320000,#300000,#2e0000,#2b0000,#290000,#270000,#250000,#230000,#210000,#1f0000,#1d0000,#1b0000,#190000,#170000,#150000,#130000,#120000,#100000,#0e0000,#0d0000,#0b0000,#0a0000,#090000,#080000,#070000,#060000,#050000,#040000,#040000,#030000,#030000,#030000,#030000,#030000,#030000,#030000,#030000,#040000,#050000,#050000,#060000,#070000,#080000,#0a0000,#0b0000,#0c0000,#0e0000,#0f0000,#110000,#130000,#150000,#160000,#180000,#1a0000,#1c0000,#1e0000,#200000,#220000,#240000,#270000,#290000,#2b0000,#2d0000,#2f0000,#310000,#330000,#350000,#370000)"></div><div style="height:1.5px;background:linear-gradient(90deg,#320000,#300000,#2e0000,#2c0000,#2a0000,#280000,#250000,#230000,#210000,#1f0000,#1d0000,#1b0000,#190000,#170000,#160000,#140000,#120000,#100000,#0f0000,#0d0000,#0c0000,#0b0000,#090000,#080000,#070000,#060000,#050000,#050000,#040000,#040000,#030000,#030000,#030000,#030000,#030000,#040000,#040000,#040000,#050000,#060000,#070000,#080000,#090000,#0a0000,#0b0000,#0d0000,#0e0000,#100000,#110000,#130000,#150000,#170000,#190000,#1b0000,#1d0000,#1f0000,#210000,#230000,#250000,#270000,#290000,#2b0000,#2d0000,#2f0000,#310000,#330000,#350000,#370000)"></div><div style="height:1.5px;background:linear-gradient(90deg,#320000,#300000,#2e0000,#2c0000,#2a0000,#280000,#260000,#240000,#220000,#200000,#1e0000,#1c0000,#1a0000,#180000,#160000,#140000,#130000,#110000,#0f0000,#0e0000,#0c0000,#0b0000,#0a0000,#090000,#080000,#070000,#060000,#050000,#050000,#040000,#040000,#040000,#040000,#040000,#040000,#040000,#050000,#050000,#060000,#060000,#070000,#080000,#090000,#0b0000,#0c0000,#0d0000,#0f0000,#100000,#120000,#140000,#150000,#170000,#190000,#1b0000,#1d0000,#1f0000,#210000,#230000,#250000,#270000,#290000,#2b0000,#2d0000,#300000,#320000,#340000,#360000,#380000)"></div><div style="height:1.5px;background:linear-gradient(90deg,#330000,#310000,#2e0000,#2c0000,#2a0000,#280000,#260000,#240000,#220000,#200000,#1e0000,#1c0000,#1a0000,#180000,#170000,#150000,#130000,#110000,#100000,#0e0000,#0d0000,#0c0000,#0a0000,#090000,#080000,#070000,#070000,#060000,#050000,#050000,#050000,#040000,#040000,#040000,#040000,#050000,#050000,#060000,#060000,#070000,#080000,#090000,#0a0000,#0b0000,#0c0000,#0e0000,#0f0000,#110000,#120000,#140000,#160000,#180000,#1a0000,#1c0000,#1d0000,#1f0000,#210000,#240000,#260000,#280000,#2a0000,#2c0000,#2e0000,#300000,#320000,#340000,#360000,#380000)"></div><div style="height:1.5px;background:linear-gradient(90deg,#330000,#310000,#2f0000,#2d0000,#2b0000,#290000,#270000,#250000,#230000,#210000,#1f0000,#1d0000,#1b0000,#190000,#170000,#150000,#140000,#120000,#100000,#0f0000,#0e0000,#0c0000,#0b0000,#0a0000,#090000,#080000,#070000,#060000,#060000,#050000,#050000,#050000,#050000,#050000,#050000,#050000,#060000,#060000,#070000,#080000,#090000,#0a0000,#0b0000,#0c0000,#0d0000,#0e0000,#100000,#110000,#130000,#150000,#160000,#180000,#1a0000,#1c0000,#1e0000,#200000,#220000,#240000,#260000,#280000,#2a0000,#2c0000,#2e0000,#300000,#320000,#340000,#360000,#380000)"></div><div style="height:1.5px;background:linear-gradient(90deg,#330000,#310000,#2f0000,#2d0000,#2b0000,#290000,#270000,#250000,#230000,#210000,#1f0000,#1d0000,#1b0000,#190000,#180000,#160000,#140000,#130000,#110000,#100000,#0e0000,#0d0000,#0c0000,#0b0000,#0a0000,#090000,#080000,#070000,#070000,#060000,#060000,#060000,#060000,#060000,#060000,#060000,#060000,#070000,#080000,#080000,#090000,#0a0000,#0b0000,#0c0000,#0e0000,#0f0000,#110000,#120000,#140000,#150000,#170000,#190000,#1b0000,#1d0000,#1e0000,#200000,#220000,#240000,#260000,#280000,#2b0000,#2d0000,#2f0000,#310000,#330000,#350000,#370000,#380000)"></div><div style="height:1.5px;background:linear-gradient(90deg,#340000,#320000,#300000,#2e0000,#2c0000,#2a0000,#280000,#260000,#240000,#220000,#200000,#1e0000,#1c0000,#1a0000,#180000,#160000,#150000,#130000,#120000,#100000,#0f0000,#0e0000,#0c0000,#0b0000,#0a0000,#090000,#090000,#080000,#070000,#070000,#070000,#060000,#060000,#060000,#070000,#070000,#070000,#080000,#080000,#090000,#0a0000,#0b0000,#0c0000,#0d0000,#0e0000,#100000,#110000,#130000,#140000,#160000,#180000,#190000,#1b0000,#1d0000,#1f0000,#210000,#230000,#250000,#270000,#290000,#2b0000,#2d0000,#2f0000,#310000,#330000,#350000,#370000,#390000)"></div><div style="height:1.5px;background:linear-gradient(90deg,#340000,#320000,#300000,#2e0000,#2c0000,#2a0000,#280000,#260000,#240000,#220000,#200000,#1e0000,#1c0000,#1b0000,#190000,#170000,#150000,#140000,#120000,#110000,#100000,#0e0000,#0d0000,#0c0000,#0b0000,#0a0000,#090000,#090000,#080000,#080000,#070000,#070000,#070000,#070000,#070000,#080000,#080000,#080000,#090000,#0a0000,#0b0000,#0c0000,#0d0000,#0e0000,#0f0000,#100000,#120000,#130000,#150000,#170000,#180000,#1a0000,#1c0000,#1e0000,#200000,#210000,#230000,#250000,#270000,#290000,#2b0000,#2d0000,#2f0000,#310000,#330000,#350000,#370000,#390000)"></div><div style="height:1.5px;background:linear-gradient(90deg,#340000,#320000,#310000,#2f0000,#2d0000,#2b0000,#290000,#270000,#250000,#230000,#210000,#1f0000,#1d0000,#1b0000,#190000,#180000,#160000,#150000,#130000,#120000,#100000,#0f0000,#0e0000,#0d0000,#0c0000,#0b0000,#0a0000,#090000,#090000,#080000,#080000,#080000,#080000,#080000,#080000,#080000,#090000,#090000,#0a0000,#0b0000,#0b0000,#0c0000,#0d0000,#0f0000,#100000,#110000,#130000,#140000,#160000,#170000,#190000,#1b0000,#1c0000,#1e0000,#200000,#220000,#240000,#260000,#280000,#2a0000,#2c0000,#2e0000,#300000,#320000,#340000,#360000,#380000,#3a0000)"></div><div style="height:1.5px;background:linear-gradient(90deg,#350000,#330000,#310000,#2f0000,#2d0000,#2b0000,#290000,#270000,#250000,#230000,#210000,#200000,#1e0000,#1c0000,#1a0000,#180000,#170000,#150000,#140000,#120000,#110000,#100000,#0f0000,#0e0000,#0d0000,#0c0000,#0b0000,#0a0000,#0a0000,#090000,#090000,#090000,#090000,#090000,#090000,#090000,#0a0000,#0a0000,#0b0000,#0b0000,#0c0000,#0d0000,#0e0000,#0f0000,#110000,#120000,#130000,#150000,#160000,#180000,#1a0000,#1b0000,#1d0000,#1f0000,#210000,#230000,#250000,#270000,#280000,#2a0000,#2c0000,#2e0000,#300000,#320000,#340000,#360000,#380000,#3a0000)"></div><div style="height:1.5px;background:linear-gradient(90deg,#350000,#330000,#310000,#300000,#2e0000,#2c0000,#2a0000,#280000,#260000,#240000,#220000,#200000,#1e0000,#1d0000,#1b0000,#190000,#180000,#160000,#150000,#130000,#120000,#110000,#100000,#0f0000,#0e0000,#0d0000,#0c0000,#0b0000,#0b0000,#0a0000,#0a0000,#0a0000,#0a0000,#0a0000,#0a0000,#0a0000,#0b0000,#0b0000,#0c0000,#0c0000,#0d0000,#0e0000,#0f0000,#100000,#110000,#130000,#140000,#160000,#170000,#190000,#1a0000,#1c0000,#1e0000,#200000,#210000,#230000,#250000,#270000,#290000,#2b0000,#2d0000,#2f0000,#310000,#330000,#350000,#370000,#380000,#3a0000)"></div><div style="height:1.5px;background:linear-gradient(90deg,#360000,#340000,#320000,#300000,#2e0000,#2c0000,#2a0000,#280000,#260000,#250000,#230000,#210000,#1f0000,#1d0000,#1c0000,#1a0000,#180000,#170000,#160000,#140000,#130000,#120000,#110000,#100000,#0f0000,#0e0000,#0e0000,#0d0000,#0d0000,#0c0000,#0c0000,#0c0000,#0c0000,#0c0000,#0c0000,#0c0000,#0c0000,#0d0000,#0d0000,#0d0000,#0e0000,#0f0000,#100000,#110000,#120000,#140000,#150000,#160000,#180000,#190000,#1b0000,#1d0000,#1e0000,#200000,#220000,#240000,#260000,#280000,#2a0000,#2c0000,#2d0000,#2f0000,#310000,#330000,#350000,#370000,#390000,#3b0000)"></div><div style="height:1.5px;background:linear-gradient(90deg,#360000,#340000,#320000,#310000,#2f0000,#2d0000,#2b0000,#290000,#270000,#250000,#230000,#220000,#200000,#1e0000,#1c0000,#1b0000,#190000,#180000,#170000,#160000,#150000,#140000,#130000,#120000,#110000,#110000,#110000,#110000,#110000,#120000,#120000,#120000,#130000,#130000,#130000,#120000,#120000,#110000,#110000,#100000,#100000,#100000,#110000,#120000,#130000,#140000,#160000,#170000,#190000,#1a0000,#1c0000,#1d0000,#1f0000,#210000,#230000,#250000,#260000,#280000,#2a0000,#2c0000,#2e0000,#300000,#320000,#340000,#360000,#370000,#390000,#3b0000)"></div><div style="height:1.5px;background:linear-gradient(90deg,#370000,#350000,#330000,#310000,#2f0000,#2d0000,#2b0000,#2a0000,#280000,#260000,#240000,#220000,#210000,#1f0000,#1d0000,#1c0000,#1a0000,#190000,#180000,#170000,#160000,#160000,#160000,#160000,#170000,#180000,#1a0000,#1b0000,#1d0000,#1f0000,#200000,#210000,#220000,#220000,#210000,#200000,#1e0000,#1c0000,#190000,#170000,#150000,#140000,#140000,#140000,#140000,#150000,#170000,#180000,#190000,#1b0000,#1d0000,#1e0000,#200000,#220000,#230000,#250000,#270000,#290000,#2b0000,#2d0000,#2f0000,#310000,#320000,#340000,#360000,#380000,#3a0000,#3c0000)"></div><div style="height:1.5px;background:linear-gradient(90deg,#370000,#350000,#340000,#320000,#300000,#2e0000,#2c0000,#2a0000,#280000,#270000,#250000,#230000,#210000,#200000,#1e0000,#1d0000,#1b0000,#1a0000,#1a0000,#190000,#1a0000,#1b0000,#1d0000,#1f0000,#230000,#260000,#2a0000,#2e0000,#310000,#340000,#360000,#370000,#390000,#390000,#390000,#370000,#340000,#300000,#2b0000,#260000,#210000,#1d0000,#1a0000,#180000,#170000,#170000,#180000,#190000,#1a0000,#1c0000,#1d0000,#1f0000,#210000,#220000,#240000,#260000,#280000,#2a0000,#2b0000,#2d0000,#2f0000,#310000,#330000,#350000,#370000,#380000,#3a0000,#3c0000)"></div><div style="height:1.5px;background:linear-gradient(90deg,#380000,#360000,#340000,#320000,#300000,#2f0000,#2d0000,#2b0000,#290000,#270000,#260000,#240000,#220000,#200000,#1f0000,#1e0000,#1d0000,#1c0000,#1c0000,#1d0000,#200000,#240000,#2a0000,#300000,#370000,#3e0000,#440000,#490000,#4c0000,#4e0000,#500000,#520000,#540000,#550000,#550000,#530000,#500000,#4a0000,#440000,#3c0000,#350000,#2d0000,#260000,#210000,#1d0000,#1a0000,#1a0000,#1a0000,#1b0000,#1d0000,#1e0000,#200000,#210000,#230000,#250000,#270000,#280000,#2a0000,#2c0000,#2e0000,#300000,#320000,#330000,#350000,#370000,#390000,#3b0000,#3c0000)"></div><div style="height:1.5px;background:linear-gradient(90deg,#380000,#360000,#350000,#330000,#310000,#2f0000,#2d0000,#2c0000,#2a0000,#280000,#260000,#250000,#230000,#210000,#200000,#1f0000,#1e0000,#1f0000,#210000,#250000,#2c0000,#350000,#3f0000,#490000,#520000,#5b0000,#610000,#660000,#680000,#690000,#690000,#6a0000,#6d0000,#700000,#710000,#700000,#6d0000,#670000,#600000,#580000,#4e0000,#440000,#3a0000,#300000,#280000,#220000,#1e0000,#1d0000,#1d0000,#1e0000,#1f0000,#210000,#220000,#240000,#260000,#270000,#290000,#2b0000,#2d0000,#2f0000,#300000,#320000,#340000,#360000,#380000,#390000,#3b0000,#3d0000)"></div><div style="height:1.5px;background:linear-gradient(90deg,#390000,#370000,#350000,#330000,#320000,#300000,#2e0000,#2c0000,#2a0000,#290000,#270000,#250000,#240000,#220000,#210000,#200000,#210000,#240000,#2a0000,#330000,#3f0000,#4d0000,#5b0000,#670000,#720000,#7a0000,#7f0000,#820000,#810000,#7e0000,#7b0000,#7c0000,#800000,#850000,#890000,#8a0000,#870000,#830000,#7c0000,#740000,#6a0000,#5f0000,#530000,#460000,#3a0000,#2f0000,#270000,#220000,#1f0000,#1f0000,#200000,#210000,#230000,#250000,#260000,#280000,#2a0000,#2c0000,#2d0000,#2f0000,#310000,#330000,#350000,#360000,#380000,#3a0000,#3c0000,#3d0000)"></div><div style="height:1.5px;background:linear-gradient(90deg,#390000,#380000,#360000,#340000,#320000,#300000,#2f0000,#2d0000,#2b0000,#290000,#280000,#260000,#240000,#230000,#220000,#230000,#260000,#2d0000,#380000,#470000,#590000,#6b0000,#7b0000,#880000,#910000,#970000,#9a0000,#990000,#940000,#8c0000,#860000,#850000,#8b0000,#940000,#9b0000,#9e0000,#9e0000,#9a0000,#950000,#8e0000,#850000,#7a0000,#6d0000,#5f0000,#500000,#410000,#350000,#2b0000,#250000,#220000,#210000,#220000,#240000,#250000,#270000,#290000,#2b0000,#2c0000,#2e0000,#300000,#320000,#330000,#350000,#370000,#390000,#3a0000,#3c0000,#3e0000)"></div><div style="height:1.5px;background:linear-gradient(90deg,#3a0000,#380000,#360000,#350000,#330000,#310000,#2f0000,#2e0000,#2c0000,#2a0000,#280000,#270000,#250000,#240000,#250000,#270000,#2e0000,#3b0000,#4c0000,#610000,#760000,#8a0000,#9b0000,#a70000,#ae0000,#b20000,#b10000,#ac0000,#a20000,#940000,#890000,#870000,#900000,#9e0000,#a90000,#b00000,#b10000,#b00000,#ab0000,#a50000,#9e0000,#940000,#870000,#790000,#690000,#580000,#470000,#390000,#2e0000,#270000,#240000,#240000,#250000,#260000,#280000,#2a0000,#2b0000,#2d0000,#2f0000,#300000,#320000,#340000,#360000,#370000,#390000,#3b0000,#3d0000,#3e0000)"></div><div style="height:1.5px;background:linear-gradient(90deg,#3a0000,#390000,#370000,#350000,#330000,#320000,#300000,#2e0000,#2c0000,#2b0000,#290000,#280000,#260000,#260000,#280000,#2e0000,#3b0000,#4d0000,#640000,#7d0000,#950000,#aa0000,#ba0000,#c40000,#c90000,#ca0000,#c50000,#bc0000,#ac0000,#980000,#880000,#850000,#920000,#a60000,#b70000,#c20000,#c50000,#c50000,#c10000,#bc0000,#b50000,#ac0000,#a00000,#930000,#820000,#700000,#5d0000,#4b0000,#3b0000,#2f0000,#280000,#260000,#260000,#270000,#290000,#2a0000,#2c0000,#2e0000,#2f0000,#310000,#330000,#340000,#360000,#380000,#3a0000,#3b0000,#3d0000,#3f0000)"></div><div style="height:1.5px;background:linear-gradient(90deg,#3b0000,#390000,#370000,#360000,#340000,#320000,#310000,#2f0000,#2d0000,#2b0000,#2a0000,#280000,#280000,#290000,#2e0000,#390000,#4b0000,#630000,#7e0000,#9a0000,#b40000,#c90000,#d80000,#e00000,#e30000,#e10000,#d90000,#cb0000,#b50000,#9b0000,#860000,#830000,#940000,#af0000,#c80000,#d70000,#dd0000,#dd0000,#da0000,#d50000,#ce0000,#c50000,#b90000,#ac0000,#9c0000,#890000,#750000,#5f0000,#4b0000,#3b0000,#2f0000,#290000,#270000,#280000,#290000,#2b0000,#2d0000,#2e0000,#300000,#320000,#330000,#350000,#370000,#380000,#3a0000,#3c0000,#3d0000,#3f0000)"></div><div style="height:1.5px;background:linear-gradient(90deg,#3b0000,#390000,#380000,#360000,#340000,#330000,#310000,#2f0000,#2e0000,#2c0000,#2b0000,#290000,#290000,#2d0000,#360000,#460000,#5e0000,#7a0000,#990000,#b70000,#d10000,#e60000,#f40000,#fc0000,#fd0000,#f90000,#ef0000,#dd0000,#c20000,#a10000,#870000,#840000,#9a0000,#be0000,#de0000,#f20000,#fa0000,#fb0000,#f70000,#f20000,#ea0000,#e00000,#d40000,#c60000,#b60000,#a30000,#8d0000,#760000,#5f0000,#4a0000,#390000,#2f0000,#2a0000,#290000,#2a0000,#2b0000,#2d0000,#2f0000,#300000,#320000,#340000,#360000,#370000,#390000,#3b0000,#3c0000,#3e0000,#3f0000)"></div><div style="height:1.5px;background:linear-gradient(90deg,#3c0000,#3a0000,#380000,#370000,#350000,#330000,#320000,#300000,#2e0000,#2d0000,#2b0000,#2a0000,#2c0000,#320000,#400000,#550000,#710000,#920000,#b30000,#d20000,#ed0000,#ff0300,#ff1100,#ff1900,#ff1a00,#ff1500,#ff0900,#f40000,#d40000,#ad0000,#8f0000,#8c0000,#a80000,#d40000,#fb0000,#ff1400,#ff1e00,#ff1f00,#ff1c00,#ff1500,#ff0c00,#ff0100,#f30000,#e30000,#d10000,#bd0000,#a60000,#8e0000,#740000,#5b0000,#460000,#360000,#2e0000,#2b0000,#2b0000,#2c0000,#2e0000,#2f0000,#310000,#330000,#340000,#360000,#380000,#390000,#3b0000,#3d0000,#3e0000,#400000)"></div><div style="height:1.5px;background:linear-gradient(90deg,#3c0000,#3a0000,#390000,#370000,#350000,#340000,#320000,#300000,#2f0000,#2d0000,#2c0000,#2c0000,#2f0000,#390000,#4b0000,#650000,#850000,#a80000,#cb0000,#ec0000,#ff0900,#ff2000,#ff2f00,#ff3700,#ff3800,#ff3400,#ff2800,#ff1200,#ee0000,#c20000,#a00000,#9e0000,#be0000,#f10000,#ff1f00,#ff3b00,#ff4700,#ff4800,#ff4500,#ff3d00,#ff3300,#ff2600,#ff1600,#ff0500,#f00000,#da0000,#c10000,#a60000,#8a0000,#6e0000,#540000,#400000,#330000,#2d0000,#2c0000,#2d0000,#2e0000,#300000,#310000,#330000,#350000,#360000,#380000,#3a0000,#3b0000,#3d0000,#3f0000,#400000)"></div><div style="height:1.5px;background:linear-gradient(90deg,#3c0000,#3b0000,#390000,#370000,#360000,#340000,#330000,#310000,#2f0000,#2e0000,#2d0000,#2e0000,#340000,#410000,#570000,#750000,#980000,#bd0000,#e20000,#ff0600,#ff2400,#ff3c00,#ff4d00,#ff5700,#ff5b00,#ff5800,#ff4d00,#ff3600,#ff1100,#e10000,#bc0000,#ba0000,#de0000,#ff1600,#ff4700,#ff6600,#ff7200,#ff7400,#ff7000,#ff6800,#ff5c00,#ff4e00,#ff3c00,#ff2900,#ff1200,#f90000,#de0000,#c00000,#a10000,#820000,#640000,#4b0000,#3a0000,#310000,#2d0000,#2d0000,#2f0000,#300000,#320000,#340000,#350000,#370000,#380000,#3a0000,#3c0000,#3d0000,#3f0000,#400000)"></div><div style="height:1.5px;background:linear-gradient(90deg,#3d0000,#3b0000,#390000,#380000,#360000,#350000,#330000,#310000,#300000,#2e0000,#2e0000,#300000,#390000,#4a0000,#630000,#840000,#a90000,#d10000,#f80000,#ff1e00,#ff3f00,#ff5a00,#ff6e00,#ff7b00,#ff8100,#ff8000,#ff7600,#ff6000,#ff3a00,#ff0900,#e30000,#e00000,#ff0600,#ff3f00,#ff7100,#ff9100,#ff9e00,#ffa000,#ff9b00,#ff9300,#ff8600,#ff7700,#ff6400,#ff4e00,#ff3600,#ff1b00,#fc0000,#dc0000,#ba0000,#970000,#760000,#580000,#420000,#350000,#2f0000,#2e0000,#2f0000,#310000,#320000,#340000,#350000,#370000,#390000,#3a0000,#3c0000,#3d0000,#3f0000,#410000)"></div><div style="height:1.5px;background:linear-gradient(90deg,#3d0000,#3b0000,#3a0000,#380000,#360000,#350000,#330000,#320000,#300000,#2f0000,#2f0000,#330000,#3e0000,#520000,#6e0000,#920000,#b90000,#e30000,#ff0e00,#ff3600,#ff5a00,#ff7800,#ff8f00,#ffa000,#ffa900,#ffab00,#ffa300,#ff8e00,#ff6800,#ff3800,#ff1200,#ff0e00,#ff3200,#ff6900,#ff9a00,#ffb900,#ffc600,#ffc700,#ffc300,#ffbb00,#ffae00,#ff9f00,#ff8b00,#ff7400,#ff5a00,#ff3c00,#ff1c00,#f80000,#d30000,#ad0000,#880000,#660000,#4b0000,#3a0000,#320000,#2f0000,#300000,#310000,#330000,#340000,#360000,#370000,#390000,#3b0000,#3c0000,#3e0000,#3f0000,#410000)"></div><div style="height:1.5px;background:linear-gradient(90deg,#3d0000,#3b0000,#3a0000,#380000,#370000,#350000,#330000,#320000,#300000,#2f0000,#300000,#350000,#420000,#590000,#780000,#9e0000,#c70000,#f40000,#ff2100,#ff4d00,#ff7400,#ff9600,#ffb100,#ffc600,#ffd300,#ffd800,#ffd200,#ffbe00,#ff9900,#ff6a00,#ff4500,#ff4000,#ff6000,#ff9300,#ffc000,#ffdc00,#ffe800,#ffea00,#ffe600,#ffde00,#ffd200,#ffc300,#ffb000,#ff9800,#ff7d00,#ff5e00,#ff3b00,#ff1600,#ed0000,#c30000,#9a0000,#740000,#550000,#3f0000,#340000,#300000,#300000,#310000,#330000,#340000,#360000,#370000,#390000,#3b0000,#3c0000,#3e0000,#3f0000,#410000)"></div><div style="height:1.5px;background:linear-gradient(90deg,#3d0000,#3b0000,#3a0000,#380000,#370000,#350000,#340000,#320000,#300000,#300000,#310000,#370000,#470000,#5f0000,#810000,#a80000,#d40000,#ff0400,#ff3400,#ff6300,#ff8e00,#ffb300,#ffd300,#ffeb00,#fffc00,#ffff07,#ffff00,#ffec00,#ffc900,#ff9d00,#ff7a00,#ff7300,#ff8e00,#ffb900,#ffe100,#fff900,#ffff06,#ffff09,#ffff04,#fffa00,#fff000,#ffe200,#ffcf00,#ffb900,#ff9d00,#ff7d00,#ff5900,#ff3100,#ff0600,#d80000,#ab0000,#810000,#5e0000,#450000,#370000,#320000,#310000,#320000,#330000,#340000,#360000,#380000,#390000,#3b0000,#3c0000,#3e0000,#3f0000,#410000)"></div><div style="height:1.5px;background:linear-gradient(90deg,#3d0000,#3b0000,#3a0000,#380000,#370000,#350000,#340000,#320000,#310000,#300000,#320000,#390000,#4a0000,#640000,#870000,#b00000,#de0000,#ff1100,#ff4500,#ff7700,#ffa600,#ffcf00,#fff200,#ffff17,#ffff35,#ffff44,#ffff40,#ffff25,#fff700,#ffce00,#ffac00,#ffa400,#ffb800,#ffdb00,#fffb00,#ffff18,#ffff25,#ffff27,#ffff23,#ffff1a,#ffff0c,#fffb00,#ffea00,#ffd400,#ffba00,#ff9a00,#ff7500,#ff4b00,#ff1e00,#ed0000,#bc0000,#8e0000,#670000,#4b0000,#3a0000,#330000,#310000,#320000,#330000,#340000,#360000,#380000,#390000,#3b0000,#3c0000,#3e0000,#3f0000,#410000)"></div><div style="height:1.5px;background:linear-gradient(90deg,#3d0000,#3b0000,#3a0000,#380000,#370000,#350000,#330000,#320000,#300000,#300000,#320000,#3a0000,#4c0000,#670000,#8c0000,#b60000,#e70000,#ff1d00,#ff5300,#ff8900,#ffbc00,#ffe800,#ffff16,#ffff45,#ffff68,#ffff7b,#ffff78,#ffff5f,#ffff30,#fff900,#ffda00,#ffcf00,#ffdc00,#fff700,#ffff18,#ffff31,#ffff3f,#ffff42,#ffff3c,#ffff32,#ffff26,#ffff16,#ffff00,#ffeb00,#ffd100,#ffb200,#ff8c00,#ff6200,#ff3200,#fe0000,#cb0000,#9a0000,#6f0000,#500000,#3d0000,#340000,#310000,#320000,#330000,#340000,#360000,#370000,#390000,#3b0000,#3c0000,#3e0000,#3f0000,#410000)"></div><div style="height:1.5px;background:linear-gradient(90deg,#3d0000,#3b0000,#3a0000,#380000,#360000,#350000,#330000,#320000,#300000,#300000,#320000,#3a0000,#4c0000,#690000,#8e0000,#ba0000,#ed0000,#ff2600,#ff6000,#ff9900,#ffce00,#fffd00,#ffff3a,#ffff6d,#ffff94,#ffffa9,#ffffa7,#ffff8f,#ffff63,#ffff2e,#ffff01,#fff300,#fffa00,#ffff14,#ffff34,#ffff56,#ffff6e,#ffff73,#ffff66,#ffff4e,#ffff3a,#ffff2a,#ffff16,#fffc00,#ffe300,#ffc500,#ffa000,#ff7400,#ff4300,#ff0e00,#d70000,#a30000,#760000,#540000,#3f0000,#350000,#320000,#320000,#330000,#340000,#360000,#370000,#390000,#3a0000,#3c0000,#3d0000,#3f0000,#400000)"></div><div style="height:1.5px;background:linear-gradient(90deg,#3c0000,#3b0000,#390000,#380000,#360000,#350000,#330000,#310000,#300000,#2f0000,#310000,#3a0000,#4c0000,#680000,#8e0000,#bc0000,#f10000,#ff2c00,#ff6900,#ffa500,#ffdd00,#ffff16,#ffff56,#ffff8c,#ffffb6,#ffffcd,#ffffcd,#ffffb5,#ffff8b,#ffff59,#ffff2e,#ffff19,#ffff1b,#ffff2f,#ffff59,#ffff85,#ffff9a,#ffff9d,#ffff94,#ffff78,#ffff50,#ffff38,#ffff26,#ffff0d,#fff100,#ffd300,#ffaf00,#ff8300,#ff5000,#ff1900,#e00000,#a90000,#7a0000,#560000,#400000,#350000,#320000,#310000,#320000,#340000,#350000,#370000,#380000,#3a0000,#3b0000,#3d0000,#3f0000,#400000)"></div><div style="height:1.5px;background:linear-gradient(90deg,#3c0000,#3a0000,#390000,#370000,#360000,#340000,#320000,#310000,#2f0000,#2f0000,#300000,#380000,#4a0000,#660000,#8c0000,#bb0000,#f20000,#ff3000,#ff6f00,#ffae00,#ffe700,#ffff28,#ffff69,#ffffa2,#ffffce,#ffffe7,#ffffe7,#ffffd0,#ffffa7,#ffff78,#ffff50,#ffff38,#ffff34,#ffff49,#ffff7b,#ffff9e,#ffffa9,#ffffaa,#ffffa7,#ffff95,#ffff69,#ffff43,#ffff30,#ffff19,#fffa00,#ffdd00,#ffb800,#ff8c00,#ff5900,#ff2000,#e40000,#ac0000,#7b0000,#570000,#410000,#360000,#320000,#310000,#320000,#330000,#350000,#360000,#380000,#390000,#3b0000,#3d0000,#3e0000,#400000)"></div><div style="height:1.5px;background:linear-gradient(90deg,#3c0000,#3a0000,#380000,#370000,#350000,#330000,#320000,#300000,#2f0000,#2e0000,#2f0000,#360000,#460000,#610000,#880000,#b80000,#f00000,#ff3000,#ff7100,#ffb200,#ffed00,#ffff32,#ffff74,#ffffae,#ffffdd,#fffff7,#fffff8,#ffffe1,#ffffba,#ffff8d,#ffff66,#ffff4d,#ffff45,#ffff5b,#ffff8c,#ffffa5,#ffffaa,#ffffab,#ffffab,#ffffa0,#ffff78,#ffff49,#ffff35,#ffff1f,#ffff00,#ffe200,#ffbd00,#ff9000,#ff5c00,#ff2200,#e50000,#ab0000,#7a0000,#560000,#400000,#350000,#310000,#300000,#310000,#320000,#340000,#350000,#370000,#390000,#3a0000,#3c0000,#3d0000,#3f0000)"></div><div style="height:1.5px;background:linear-gradient(90deg,#3b0000,#390000,#380000,#360000,#340000,#330000,#310000,#2f0000,#2e0000,#2d0000,#2d0000,#330000,#420000,#5b0000,#810000,#b10000,#eb0000,#ff2c00,#ff6f00,#ffb100,#ffee00,#ffff34,#ffff77,#ffffb2,#ffffe2,#fffffd,#fffffe,#ffffe7,#ffffc2,#ffff97,#ffff72,#ffff5a,#ffff4f,#ffff60,#ffff8d,#ffffa4,#ffffa9,#ffffaa,#ffffa9,#ffff9e,#ffff76,#ffff49,#ffff36,#ffff20,#ffff00,#ffe200,#ffbd00,#ff8f00,#ff5900,#ff1e00,#e00000,#a70000,#760000,#530000,#3e0000,#340000,#300000,#300000,#300000,#320000,#330000,#350000,#360000,#380000,#3a0000,#3b0000,#3d0000,#3e0000)"></div><div style="height:1.5px;background:linear-gradient(90deg,#3a0000,#380000,#370000,#350000,#330000,#320000,#300000,#2e0000,#2d0000,#2c0000,#2c0000,#300000,#3c0000,#540000,#780000,#a80000,#e20000,#ff2400,#ff6800,#ffab00,#ffe900,#ffff2e,#ffff72,#ffffae,#ffffde,#fffff8,#fffffa,#ffffe5,#ffffc1,#ffff99,#ffff77,#ffff5f,#ffff52,#ffff58,#ffff7e,#ffff9c,#ffffa5,#ffffa6,#ffffa3,#ffff90,#ffff65,#ffff43,#ffff32,#ffff1c,#fffc00,#ffde00,#ffb800,#ff8800,#ff5100,#ff1500,#d70000,#9e0000,#700000,#4f0000,#3c0000,#330000,#2f0000,#2f0000,#2f0000,#310000,#320000,#340000,#350000,#370000,#390000,#3a0000,#3c0000,#3e0000)"></div><div style="height:1.5px;background:linear-gradient(90deg,#390000,#380000,#360000,#340000,#320000,#310000,#2f0000,#2d0000,#2c0000,#2a0000,#2a0000,#2d0000,#370000,#4b0000,#6d0000,#9b0000,#d50000,#ff1700,#ff5c00,#ffa000,#ffde00,#ffff1f,#ffff65,#ffffa0,#ffffcf,#ffffe9,#ffffeb,#ffffd8,#ffffb7,#ffff93,#ffff74,#ffff5d,#ffff51,#ffff4f,#ffff62,#ffff80,#ffff92,#ffff95,#ffff8b,#ffff70,#ffff4e,#ffff3b,#ffff2b,#ffff12,#fff400,#ffd500,#ffac00,#ff7b00,#ff4300,#ff0600,#c90000,#920000,#670000,#4a0000,#390000,#310000,#2e0000,#2d0000,#2e0000,#2f0000,#310000,#330000,#340000,#360000,#380000,#390000,#3b0000,#3d0000)"></div><div style="height:1.5px;background:linear-gradient(90deg,#380000,#360000,#350000,#330000,#310000,#300000,#2e0000,#2c0000,#2a0000,#290000,#280000,#2a0000,#310000,#420000,#600000,#8c0000,#c40000,#ff0600,#ff4a00,#ff8e00,#ffcd00,#ffff07,#ffff4d,#ffff89,#ffffb6,#ffffd0,#ffffd3,#ffffc2,#ffffa5,#ffff85,#ffff6a,#ffff57,#ffff4c,#ffff48,#ffff4a,#ffff57,#ffff65,#ffff68,#ffff5d,#ffff4b,#ffff3c,#ffff30,#ffff1e,#ffff03,#ffe700,#ffc600,#ff9b00,#ff6800,#ff2f00,#f10000,#b70000,#840000,#5d0000,#430000,#350000,#2e0000,#2c0000,#2c0000,#2d0000,#2e0000,#300000,#310000,#330000,#350000,#370000,#380000,#3a0000,#3c0000)"></div><div style="height:1.5px;background:linear-gradient(90deg,#370000,#350000,#340000,#320000,#300000,#2e0000,#2d0000,#2b0000,#290000,#270000,#260000,#270000,#2c0000,#390000,#530000,#7b0000,#b00000,#ef0000,#ff3400,#ff7700,#ffb600,#ffed00,#ffff2b,#ffff66,#ffff92,#ffffab,#ffffb0,#ffffa2,#ffff8a,#ffff6f,#ffff59,#ffff4a,#ffff42,#ffff3f,#ffff3f,#ffff40,#ffff42,#ffff42,#ffff3e,#ffff37,#ffff2e,#ffff20,#ffff0a,#fff100,#ffd500,#ffb000,#ff8300,#ff4e00,#ff1500,#d80000,#a10000,#730000,#520000,#3d0000,#310000,#2c0000,#2a0000,#2a0000,#2b0000,#2d0000,#2e0000,#300000,#320000,#340000,#350000,#370000,#390000,#3a0000)"></div><div style="height:1.5px;background:linear-gradient(90deg,#360000,#340000,#320000,#310000,#2f0000,#2d0000,#2b0000,#290000,#280000,#260000,#250000,#240000,#270000,#310000,#460000,#690000,#9a0000,#d50000,#ff1800,#ff5a00,#ff9800,#ffcf00,#fffe00,#ffff38,#ffff63,#ffff7c,#ffff82,#ffff78,#ffff65,#ffff51,#ffff40,#ffff36,#ffff32,#ffff32,#ffff33,#ffff34,#ffff34,#ffff32,#ffff2e,#ffff26,#ffff1a,#ffff08,#fff300,#ffdb00,#ffbb00,#ff9400,#ff6400,#ff2e00,#f40000,#bc0000,#8a0000,#630000,#470000,#360000,#2d0000,#290000,#280000,#280000,#290000,#2b0000,#2d0000,#2f0000,#300000,#320000,#340000,#360000,#370000,#390000)"></div><div style="height:1.5px;background:linear-gradient(90deg,#350000,#330000,#310000,#2f0000,#2d0000,#2b0000,#2a0000,#280000,#260000,#240000,#230000,#220000,#240000,#2a0000,#3a0000,#570000,#820000,#b90000,#f70000,#ff3700,#ff7400,#ffaa00,#ffd800,#fffd00,#ffff27,#ffff40,#ffff48,#ffff43,#ffff36,#ffff28,#ffff1e,#ffff19,#ffff19,#ffff1c,#ffff1f,#ffff21,#ffff20,#ffff1e,#ffff17,#ffff0d,#fffd00,#ffee00,#ffd900,#ffbd00,#ff9a00,#ff7000,#ff3e00,#ff0900,#d10000,#9e0000,#730000,#520000,#3c0000,#300000,#290000,#260000,#250000,#260000,#280000,#290000,#2b0000,#2d0000,#2f0000,#310000,#320000,#340000,#360000,#380000)"></div><div style="height:1.5px;background:linear-gradient(90deg,#330000,#310000,#300000,#2e0000,#2c0000,#2a0000,#280000,#260000,#240000,#220000,#210000,#200000,#200000,#250000,#300000,#470000,#6b0000,#9b0000,#d30000,#ff1000,#ff4a00,#ff7e00,#ffab00,#ffcf00,#ffea00,#fffa00,#ffff03,#ffff02,#fffc00,#fff800,#fff500,#fff600,#fff900,#fffd00,#ffff01,#ffff03,#ffff03,#fffe00,#fff800,#ffef00,#ffe200,#ffcf00,#ffb600,#ff9700,#ff7100,#ff4400,#ff1300,#de0000,#ac0000,#800000,#5c0000,#430000,#330000,#290000,#250000,#230000,#230000,#240000,#260000,#280000,#290000,#2b0000,#2d0000,#2f0000,#310000,#330000,#350000,#370000)"></div><div style="height:1.5px;background:linear-gradient(90deg,#320000,#300000,#2e0000,#2c0000,#2a0000,#280000,#260000,#240000,#220000,#210000,#1f0000,#1e0000,#1e0000,#200000,#280000,#390000,#550000,#7d0000,#af0000,#e50000,#ff1c00,#ff4d00,#ff7700,#ff9a00,#ffb300,#ffc400,#ffcc00,#ffce00,#ffce00,#ffce00,#ffcf00,#ffd400,#ffd900,#ffdf00,#ffe300,#ffe500,#ffe400,#ffe000,#ffd800,#ffcd00,#ffbc00,#ffa600,#ff8a00,#ff6800,#ff4000,#ff1300,#e20000,#b30000,#870000,#630000,#480000,#360000,#2a0000,#240000,#210000,#200000,#210000,#220000,#240000,#260000,#280000,#2a0000,#2c0000,#2e0000,#2f0000,#310000,#330000,#350000)"></div><div style="height:1.5px;background:linear-gradient(90deg,#300000,#2f0000,#2d0000,#2b0000,#290000,#270000,#250000,#230000,#210000,#1f0000,#1d0000,#1c0000,#1b0000,#1d0000,#220000,#2e0000,#430000,#630000,#8c0000,#ba0000,#ea0000,#ff1800,#ff3f00,#ff5f00,#ff7700,#ff8700,#ff9000,#ff9500,#ff9800,#ff9b00,#ffa100,#ffa800,#ffb000,#ffb700,#ffbc00,#ffbe00,#ffbc00,#ffb700,#ffae00,#ff9f00,#ff8c00,#ff7300,#ff5500,#ff3100,#ff0800,#dc0000,#b10000,#890000,#660000,#4b0000,#380000,#2b0000,#230000,#1f0000,#1d0000,#1d0000,#1f0000,#200000,#220000,#240000,#260000,#280000,#2a0000,#2c0000,#2e0000,#300000,#320000,#340000)"></div><div style="height:1.5px;background:linear-gradient(90deg,#2f0000,#2d0000,#2b0000,#290000,#270000,#250000,#230000,#210000,#1f0000,#1d0000,#1b0000,#1a0000,#190000,#1a0000,#1d0000,#260000,#350000,#4d0000,#6d0000,#920000,#ba0000,#e00000,#ff0400,#ff2000,#ff3600,#ff4400,#ff4e00,#ff5500,#ff5a00,#ff6100,#ff6900,#ff7300,#ff7c00,#ff8400,#ff8900,#ff8b00,#ff8900,#ff8200,#ff7700,#ff6700,#ff5100,#ff3700,#ff1800,#f30000,#ce0000,#a70000,#830000,#640000,#4a0000,#370000,#2a0000,#210000,#1d0000,#1a0000,#1a0000,#1b0000,#1c0000,#1e0000,#200000,#220000,#240000,#260000,#280000,#2a0000,#2c0000,#2e0000,#300000,#320000)"></div><div style="height:1.5px;background:linear-gradient(90deg,#2e0000,#2c0000,#2a0000,#280000,#250000,#230000,#210000,#1f0000,#1d0000,#1b0000,#190000,#180000,#170000,#170000,#190000,#1f0000,#2b0000,#3c0000,#530000,#700000,#8f0000,#ad0000,#c90000,#e00000,#f20000,#ff0000,#ff0900,#ff1000,#ff1700,#ff2000,#ff2a00,#ff3400,#ff3f00,#ff4700,#ff4c00,#ff4d00,#ff4a00,#ff4200,#ff3600,#ff2500,#ff0f00,#f40000,#d60000,#b60000,#960000,#770000,#5c0000,#460000,#340000,#280000,#1f0000,#1a0000,#170000,#170000,#170000,#190000,#1a0000,#1c0000,#1e0000,#200000,#220000,#250000,#270000,#290000,#2b0000,#2d0000,#2f0000,#310000)"></div><div style="height:1.5px;background:linear-gradient(90deg,#2c0000,#2a0000,#280000,#260000,#240000,#220000,#200000,#1e0000,#1b0000,#190000,#170000,#160000,#140000,#140000,#160000,#1a0000,#220000,#2f0000,#400000,#540000,#6b0000,#810000,#950000,#a60000,#b30000,#bd0000,#c40000,#ca0000,#d10000,#da0000,#e40000,#ef0000,#f90000,#ff0100,#ff0600,#ff0700,#ff0300,#fa0000,#ee0000,#dd0000,#c80000,#b10000,#980000,#7f0000,#660000,#500000,#3d0000,#2f0000,#240000,#1c0000,#170000,#140000,#130000,#140000,#150000,#170000,#190000,#1b0000,#1d0000,#1f0000,#210000,#230000,#250000,#270000,#290000,#2b0000,#2e0000,#300000)"></div><div style="height:1.5px;background:linear-gradient(90deg,#2b0000,#290000,#270000,#250000,#230000,#200000,#1e0000,#1c0000,#1a0000,#180000,#160000,#140000,#120000,#120000,#120000,#150000,#1b0000,#250000,#310000,#400000,#4f0000,#5e0000,#6b0000,#750000,#7d0000,#820000,#850000,#890000,#8f0000,#960000,#9f0000,#a90000,#b10000,#b80000,#bc0000,#bc0000,#b90000,#b20000,#a70000,#990000,#880000,#760000,#630000,#510000,#410000,#320000,#270000,#1e0000,#170000,#130000,#110000,#100000,#100000,#110000,#130000,#150000,#170000,#190000,#1b0000,#1d0000,#1f0000,#210000,#240000,#260000,#280000,#2a0000,#2c0000,#2e0000)"></div><div style="height:1.5px;background:linear-gradient(90deg,#2a0000,#280000,#260000,#230000,#210000,#1f0000,#1d0000,#1b0000,#180000,#160000,#140000,#120000,#110000,#100000,#100000,#110000,#160000,#1c0000,#260000,#300000,#3b0000,#450000,#4c0000,#510000,#530000,#530000,#530000,#540000,#560000,#5b0000,#620000,#690000,#700000,#750000,#780000,#790000,#760000,#710000,#690000,#5e0000,#530000,#470000,#3b0000,#300000,#260000,#1d0000,#170000,#120000,#0f0000,#0d0000,#0c0000,#0d0000,#0e0000,#0f0000,#110000,#130000,#150000,#170000,#190000,#1c0000,#1e0000,#200000,#220000,#240000,#270000,#290000,#2b0000,#2d0000)"></div><div style="height:1.5px;background:linear-gradient(90deg,#290000,#270000,#250000,#220000,#200000,#1e0000,#1c0000,#190000,#170000,#150000,#130000,#110000,#0f0000,#0e0000,#0d0000,#0e0000,#110000,#150000,#1c0000,#240000,#2b0000,#320000,#360000,#370000,#360000,#330000,#2f0000,#2d0000,#2d0000,#2f0000,#320000,#370000,#3c0000,#400000,#420000,#430000,#410000,#3e0000,#390000,#330000,#2d0000,#260000,#1f0000,#190000,#140000,#0f0000,#0c0000,#0a0000,#090000,#090000,#090000,#0a0000,#0c0000,#0e0000,#100000,#120000,#140000,#160000,#180000,#1a0000,#1d0000,#1f0000,#210000,#230000,#260000,#280000,#2a0000,#2c0000)"></div><div style="height:1.5px;background:linear-gradient(90deg,#280000,#260000,#240000,#220000,#1f0000,#1d0000,#1b0000,#180000,#160000,#140000,#120000,#100000,#0e0000,#0c0000,#0b0000,#0b0000,#0d0000,#100000,#140000,#1a0000,#1f0000,#230000,#260000,#250000,#220000,#1e0000,#190000,#150000,#130000,#120000,#130000,#160000,#190000,#1b0000,#1d0000,#1e0000,#1e0000,#1c0000,#1a0000,#170000,#140000,#110000,#0d0000,#0b0000,#080000,#060000,#050000,#050000,#050000,#060000,#070000,#090000,#0b0000,#0c0000,#0e0000,#110000,#130000,#150000,#170000,#190000,#1c0000,#1e0000,#200000,#220000,#250000,#270000,#290000,#2b0000)"></div><div style="height:1.5px;background:linear-gradient(90deg,#280000,#250000,#230000,#210000,#1f0000,#1c0000,#1a0000,#180000,#150000,#130000,#110000,#0f0000,#0d0000,#0b0000,#0a0000,#090000,#0a0000,#0c0000,#0e0000,#120000,#150000,#180000,#190000,#180000,#150000,#110000,#0c0000,#080000,#050000,#030000,#030000,#030000,#050000,#060000,#070000,#080000,#090000,#080000,#080000,#070000,#050000,#040000,#030000,#020000,#010000,#010000,#010000,#020000,#030000,#040000,#060000,#080000,#0a0000,#0c0000,#0e0000,#100000,#120000,#140000,#160000,#190000,#1b0000,#1d0000,#1f0000,#220000,#240000,#260000,#280000,#2b0000)"></div><div style="height:1.5px;background:linear-gradient(90deg,#270000,#250000,#230000,#200000,#1e0000,#1c0000,#1a0000,#170000,#150000,#130000,#110000,#0e0000,#0c0000,#0b0000,#090000,#080000,#080000,#080000,#0a0000,#0c0000,#0e0000,#100000,#100000,#0f0000,#0c0000,#080000,#040000,#000000,#000000,#000000,#000000,#000000,#000000,#000000,#000000,#000000,#000000,#000000,#000000,#000000,#000000,#000000,#000000,#000000,#000000,#000000,#000000,#000000,#020000,#030000,#050000,#070000,#090000,#0b0000,#0d0000,#0f0000,#110000,#140000,#160000,#180000,#1a0000,#1d0000,#1f0000,#210000,#230000,#260000,#280000,#2a0000)"></div><div style="height:1.5px;background:linear-gradient(90deg,#270000,#250000,#230000,#200000,#1e0000,#1c0000,#190000,#170000,#150000,#130000,#100000,#0e0000,#0c0000,#0a0000,#080000,#070000,#060000,#060000,#070000,#080000,#090000,#090000,#090000,#080000,#060000,#030000,#000000,#000000,#000000,#000000,#000000,#000000,#000000,#000000,#000000,#000000,#000000,#000000,#000000,#000000,#000000,#000000,#000000,#000000,#000000,#000000,#000000,#000000,#010000,#030000,#050000,#070000,#090000,#0b0000,#0d0000,#0f0000,#110000,#130000,#160000,#180000,#1a0000,#1c0000,#1f0000,#210000,#230000,#260000,#280000,#2a0000)"></div><div style="height:1.5px;background:linear-gradient(90deg,#270000,#250000,#230000,#200000,#1e0000,#1c0000,#190000,#170000,#150000,#130000,#100000,#0e0000,#0c0000,#0a0000,#080000,#070000,#060000,#050000,#050000,#050000,#050000,#050000,#050000,#030000,#010000,#000000,#000000,#000000,#000000,#000000,#000000,#000000,#000000,#000000,#000000,#000000,#000000,#000000,#000000,#000000,#000000,#000000,#000000,#000000,#000000,#000000,#000000,#000000,#010000,#030000,#050000,#070000,#090000,#0b0000,#0d0000,#0f0000,#110000,#130000,#160000,#180000,#1a0000,#1c0000,#1f0000,#210000,#230000,#260000,#280000,#2a0000)"></div><div style="height:1.5px;background:linear-gradient(90deg,#270000,#250000,#230000,#210000,#1e0000,#1c0000,#1a0000,#180000,#150000,#130000,#110000,#0f0000,#0d0000,#0b0000,#090000,#070000,#060000,#050000,#040000,#030000,#030000,#030000,#020000,#000000,#000000,#000000,#000000,#000000,#000000,#000000,#000000,#000000,#000000,#000000,#000000,#000000,#000000,#000000,#000000,#000000,#000000,#000000,#000000,#000000,#000000,#000000,#000000,#000000,#020000,#040000,#050000,#070000,#090000,#0b0000,#0d0000,#0f0000,#120000,#140000,#160000,#180000,#1a0000,#1d0000,#1f0000,#210000,#240000,#260000,#280000,#2a0000)"></div><div style="height:1.5px;background:linear-gradient(90deg,#280000,#260000,#240000,#210000,#1f0000,#1d0000,#1b0000,#180000,#160000,#140000,#120000,#100000,#0e0000,#0c0000,#0a0000,#080000,#060000,#050000,#040000,#030000,#020000,#010000,#000000,#000000,#000000,#000000,#000000,#000000,#000000,#000000,#000000,#000000,#000000,#000000,#000000,#000000,#000000,#000000,#000000,#000000,#000000,#000000,#000000,#000000,#000000,#000000,#000000,#010000,#030000,#040000,#060000,#080000,#0a0000,#0c0000,#0e0000,#100000,#120000,#150000,#170000,#190000,#1b0000,#1d0000,#200000,#220000,#240000,#260000,#290000,#2b0000)"></div></div><svg width="685" height="663" viewBox="0 0 685 663" style="position:absolute;left:0;top:0;will-change:transform" font-family="Liberation Sans, sans-serif" fill="#000"><text x="31.2" y="19.8" font-size="34" text-anchor="start" >a</text><text x="167.0" y="21.2" font-size="29.4" text-anchor="start" >Contrast No-Distractor - Distractor</text><text x="118.6" y="60.2" font-size="25" text-anchor="start" >Total power</text><text x="468.0" y="60.3" font-size="25.5" text-anchor="start" >Induced power</text><text x="67.0" y="393.5" font-size="25.4" text-anchor="start" >Phase-locked power</text><text x="351.5" y="360.0" font-size="35.5" text-anchor="start" >b</text><text x="370.0" y="393.0" font-size="25.2" text-anchor="start" >Tagged power topography</text><line x1="73.5" y1="76.0" x2="73.5" y2="245.3" stroke="#7d7d7d" stroke-width="1.3"/><line x1="115.5" y1="76.0" x2="115.5" y2="245.3" stroke="#7d7d7d" stroke-width="1.3"/><line x1="157.5" y1="76.0" x2="157.5" y2="245.3" stroke="#7d7d7d" stroke-width="1.3"/><line x1="199.5" y1="76.0" x2="199.5" y2="245.3" stroke="#7d7d7d" stroke-width="1.3"/><line x1="240.5" y1="76.0" x2="240.5" y2="245.3" stroke="#7d7d7d" stroke-width="1.3"/><line x1="293.5" y1="76.0" x2="293.5" y2="245.3" stroke="#7d7d7d" stroke-width="1.3"/><line x1="94.5" y1="76.0" x2="94.5" y2="245.3" stroke="#727272" stroke-width="1.0" stroke-dasharray="12,8.5" stroke-dashoffset="5.6"/><line x1="136.5" y1="76.0" x2="136.5" y2="245.3" stroke="#727272" stroke-width="1.0" stroke-dasharray="12,8.5" stroke-dashoffset="5.6"/><line x1="178.5" y1="76.0" x2="178.5" y2="245.3" stroke="#727272" stroke-width="1.0" stroke-dasharray="12,8.5" stroke-dashoffset="5.6"/><line x1="220.5" y1="76.0" x2="220.5" y2="245.3" stroke="#727272" stroke-width="1.0" stroke-dasharray="12,8.5" stroke-dashoffset="5.6"/><line x1="261.5" y1="76.0" x2="261.5" y2="245.3" stroke="#727272" stroke-width="1.0" stroke-dasharray="12,8.5" stroke-dashoffset="5.6"/><line x1="412.5" y1="76.0" x2="412.5" y2="245.3" stroke="#7d7d7d" stroke-width="1.3"/><line x1="454.5" y1="76.0" x2="454.5" y2="245.3" stroke="#7d7d7d" stroke-width="1.3"/><line x1="496.5" y1="76.0" x2="496.5" y2="245.3" stroke="#7d7d7d" stroke-width="1.3"/><line x1="537.5" y1="76.0" x2="537.5" y2="245.3" stroke="#7d7d7d" stroke-width="1.3"/><line x1="579.5" y1="76.0" x2="579.5" y2="245.3" stroke="#7d7d7d" stroke-width="1.3"/><line x1="631.5" y1="76.0" x2="631.5" y2="245.3" stroke="#7d7d7d" stroke-width="1.3"/><line x1="433.5" y1="76.0" x2="433.5" y2="245.3" stroke="#727272" stroke-width="1.0" stroke-dasharray="12,8.5" stroke-dashoffset="5.6"/><line x1="475.5" y1="76.0" x2="475.5" y2="245.3" stroke="#727272" stroke-width="1.0" stroke-dasharray="12,8.5" stroke-dashoffset="5.6"/><line x1="516.5" y1="76.0" x2="516.5" y2="245.3" stroke="#727272" stroke-width="1.0" stroke-dasharray="12,8.5" stroke-dashoffset="5.6"/><line x1="558.5" y1="76.0" x2="558.5" y2="245.3" stroke="#727272" stroke-width="1.0" stroke-dasharray="12,8.5" stroke-dashoffset="5.6"/><line x1="600.5" y1="76.0" x2="600.5" y2="245.3" stroke="#727272" stroke-width="1.0" stroke-dasharray="12,8.5" stroke-dashoffset="5.6"/><line x1="73.5" y1="409.5" x2="73.5" y2="579.0" stroke="#7d7d7d" stroke-width="1.3"/><line x1="115.5" y1="409.5" x2="115.5" y2="579.0" stroke="#7d7d7d" stroke-width="1.3"/><line x1="157.5" y1="409.5" x2="157.5" y2="579.0" stroke="#7d7d7d" stroke-width="1.3"/><line x1="199.5" y1="409.5" x2="199.5" y2="579.0" stroke="#7d7d7d" stroke-width="1.3"/><line x1="240.5" y1="409.5" x2="240.5" y2="579.0" stroke="#7d7d7d" stroke-width="1.3"/><line x1="293.5" y1="409.5" x2="293.5" y2="579.0" stroke="#7d7d7d" stroke-width="1.3"/><line x1="94.5" y1="409.5" x2="94.5" y2="579.0" stroke="#727272" stroke-width="1.0" stroke-dasharray="12,8.5" stroke-dashoffset="5.6"/><line x1="136.5" y1="409.5" x2="136.5" y2="579.0" stroke="#727272" stroke-width="1.0" stroke-dasharray="12,8.5" stroke-dashoffset="5.6"/><line x1="178.5" y1="409.5" x2="178.5" y2="579.0" stroke="#727272" stroke-width="1.0" stroke-dasharray="12,8.5" stroke-dashoffset="5.6"/><line x1="220.5" y1="409.5" x2="220.5" y2="579.0" stroke="#727272" stroke-width="1.0" stroke-dasharray="12,8.5" stroke-dashoffset="5.6"/><line x1="261.5" y1="409.5" x2="261.5" y2="579.0" stroke="#727272" stroke-width="1.0" stroke-dasharray="12,8.5" stroke-dashoffset="5.6"/><rect x="52.3" y="76.0" width="251.7" height="169.3" fill="none" stroke="#787878" stroke-width="1.2"/><line x1="52.3" y1="243.2" x2="54.8" y2="243.2" stroke="#787878" stroke-width="0.8"/><line x1="304.0" y1="243.2" x2="301.5" y2="243.2" stroke="#787878" stroke-width="0.8"/><line x1="52.3" y1="222.6" x2="54.8" y2="222.6" stroke="#787878" stroke-width="0.8"/><line x1="304.0" y1="222.6" x2="301.5" y2="222.6" stroke="#787878" stroke-width="0.8"/><line x1="52.3" y1="201.9" x2="54.8" y2="201.9" stroke="#787878" stroke-width="0.8"/><line x1="304.0" y1="201.9" x2="301.5" y2="201.9" stroke="#787878" stroke-width="0.8"/><line x1="52.3" y1="181.3" x2="54.8" y2="181.3" stroke="#787878" stroke-width="0.8"/><line x1="304.0" y1="181.3" x2="301.5" y2="181.3" stroke="#787878" stroke-width="0.8"/><line x1="52.3" y1="160.7" x2="54.8" y2="160.7" stroke="#787878" stroke-width="0.8"/><line x1="304.0" y1="160.7" x2="301.5" y2="160.7" stroke="#787878" stroke-width="0.8"/><line x1="52.3" y1="140.0" x2="54.8" y2="140.0" stroke="#787878" stroke-width="0.8"/><line x1="304.0" y1="140.0" x2="301.5" y2="140.0" stroke="#787878" stroke-width="0.8"/><line x1="52.3" y1="119.4" x2="54.8" y2="119.4" stroke="#787878" stroke-width="0.8"/><line x1="304.0" y1="119.4" x2="301.5" y2="119.4" stroke="#787878" stroke-width="0.8"/><line x1="52.3" y1="98.7" x2="54.8" y2="98.7" stroke="#787878" stroke-width="0.8"/><line x1="304.0" y1="98.7" x2="301.5" y2="98.7" stroke="#787878" stroke-width="0.8"/><line x1="52.3" y1="78.1" x2="54.8" y2="78.1" stroke="#787878" stroke-width="0.8"/><line x1="304.0" y1="78.1" x2="301.5" y2="78.1" stroke="#787878" stroke-width="0.8"/><text x="44.7" y="83.3" font-size="16.4" text-anchor="end" >45</text><text x="44.7" y="124.6" font-size="16.4" text-anchor="end" >35</text><text x="44.7" y="165.8" font-size="16.4" text-anchor="end" >25</text><text x="44.7" y="207.1" font-size="16.4" text-anchor="end" >15</text><text x="26.3" y="248.4" font-size="16.4" text-anchor="start" >5</text><path d="M73.7,245.3 Q74.5,246.9 77.7,247.10000000000002 L80.4,247.5 Q83.4,248.3 84.4,251.3 L84.4,259.3 M94.6,245.3 Q93.8,246.9 90.6,247.10000000000002 L88.4,247.5 Q85.4,248.3 84.4,251.3" fill="none" stroke="#222" stroke-width="0.9"/><path d="M83.8,250.8 L85.0,250.8 L84.6,259.3 L84.2,259.3 Z" fill="#222"/><path d="M115.5,245.3 Q116.3,246.9 119.5,247.10000000000002 L122.2,247.5 Q125.2,248.3 126.2,251.3 L126.2,259.3 M136.4,245.3 Q135.6,246.9 132.4,247.10000000000002 L130.2,247.5 Q127.2,248.3 126.2,251.3" fill="none" stroke="#222" stroke-width="0.9"/><path d="M125.6,250.8 L126.8,250.8 L126.4,259.3 L126.0,259.3 Z" fill="#222"/><path d="M157.3,245.3 Q158.1,246.9 161.3,247.10000000000002 L164.0,247.5 Q167.0,248.3 168.0,251.3 L168.0,259.3 M178.2,245.3 Q177.4,246.9 174.2,247.10000000000002 L172.0,247.5 Q169.0,248.3 168.0,251.3" fill="none" stroke="#222" stroke-width="0.9"/><path d="M167.4,250.8 L168.6,250.8 L168.2,259.3 L167.8,259.3 Z" fill="#222"/><path d="M199.1,245.3 Q199.9,246.9 203.1,247.10000000000002 L205.8,247.5 Q208.8,248.3 209.8,251.3 L209.8,259.3 M220.0,245.3 Q219.2,246.9 216.0,247.10000000000002 L213.8,247.5 Q210.8,248.3 209.8,251.3" fill="none" stroke="#222" stroke-width="0.9"/><path d="M209.2,250.8 L210.4,250.8 L210.0,259.3 L209.6,259.3 Z" fill="#222"/><path d="M240.9,245.3 Q241.7,246.9 244.9,247.10000000000002 L247.6,247.5 Q250.6,248.3 251.6,251.3 L251.6,259.3 M261.9,245.3 Q261.1,246.9 257.9,247.10000000000002 L255.6,247.5 Q252.6,248.3 251.6,251.3" fill="none" stroke="#222" stroke-width="0.9"/><path d="M251.0,250.8 L252.2,250.8 L251.8,259.3 L251.4,259.3 Z" fill="#222"/><text x="73.7" y="265.3" font-size="16.4" text-anchor="middle" >0</text><text x="115.5" y="265.3" font-size="16.4" text-anchor="middle" >1</text><text x="157.3" y="265.3" font-size="16.4" text-anchor="middle" >2</text><text x="199.1" y="265.3" font-size="16.4" text-anchor="middle" >3</text><text x="240.9" y="265.3" font-size="16.4" text-anchor="middle" >4</text><text x="293.2" y="265.3" font-size="16.4" text-anchor="middle" >5.25</text><rect x="391.0" y="76.0" width="251.7" height="169.3" fill="none" stroke="#787878" stroke-width="1.2"/><line x1="391.0" y1="243.2" x2="393.5" y2="243.2" stroke="#787878" stroke-width="0.8"/><line x1="642.7" y1="243.2" x2="640.2" y2="243.2" stroke="#787878" stroke-width="0.8"/><line x1="391.0" y1="222.6" x2="393.5" y2="222.6" stroke="#787878" stroke-width="0.8"/><line x1="642.7" y1="222.6" x2="640.2" y2="222.6" stroke="#787878" stroke-width="0.8"/><line x1="391.0" y1="201.9" x2="393.5" y2="201.9" stroke="#787878" stroke-width="0.8"/><line x1="642.7" y1="201.9" x2="640.2" y2="201.9" stroke="#787878" stroke-width="0.8"/><line x1="391.0" y1="181.3" x2="393.5" y2="181.3" stroke="#787878" stroke-width="0.8"/><line x1="642.7" y1="181.3" x2="640.2" y2="181.3" stroke="#787878" stroke-width="0.8"/><line x1="391.0" y1="160.7" x2="393.5" y2="160.7" stroke="#787878" stroke-width="0.8"/><line x1="642.7" y1="160.7" x2="640.2" y2="160.7" stroke="#787878" stroke-width="0.8"/><line x1="391.0" y1="140.0" x2="393.5" y2="140.0" stroke="#787878" stroke-width="0.8"/><line x1="642.7" y1="140.0" x2="640.2" y2="140.0" stroke="#787878" stroke-width="0.8"/><line x1="391.0" y1="119.4" x2="393.5" y2="119.4" stroke="#787878" stroke-width="0.8"/><line x1="642.7" y1="119.4" x2="640.2" y2="119.4" stroke="#787878" stroke-width="0.8"/><line x1="391.0" y1="98.7" x2="393.5" y2="98.7" stroke="#787878" stroke-width="0.8"/><line x1="642.7" y1="98.7" x2="640.2" y2="98.7" stroke="#787878" stroke-width="0.8"/><line x1="391.0" y1="78.1" x2="393.5" y2="78.1" stroke="#787878" stroke-width="0.8"/><line x1="642.7" y1="78.1" x2="640.2" y2="78.1" stroke="#787878" stroke-width="0.8"/><text x="383.4" y="83.3" font-size="16.4" text-anchor="end" >45</text><text x="383.4" y="124.6" font-size="16.4" text-anchor="end" >35</text><text x="383.4" y="165.8" font-size="16.4" text-anchor="end" >25</text><text x="383.4" y="207.1" font-size="16.4" text-anchor="end" >15</text><text x="365.0" y="248.4" font-size="16.4" text-anchor="start" >5</text><path d="M412.4,245.3 Q413.2,246.9 416.4,247.10000000000002 L419.1,247.5 Q422.1,248.3 423.1,251.3 L423.1,259.3 M433.3,245.3 Q432.5,246.9 429.3,247.10000000000002 L427.1,247.5 Q424.1,248.3 423.1,251.3" fill="none" stroke="#222" stroke-width="0.9"/><path d="M422.5,250.8 L423.7,250.8 L423.3,259.3 L422.9,259.3 Z" fill="#222"/><path d="M454.2,245.3 Q455.0,246.9 458.2,247.10000000000002 L460.9,247.5 Q463.9,248.3 464.9,251.3 L464.9,259.3 M475.1,245.3 Q474.3,246.9 471.1,247.10000000000002 L468.9,247.5 Q465.9,248.3 464.9,251.3" fill="none" stroke="#222" stroke-width="0.9"/><path d="M464.3,250.8 L465.5,250.8 L465.1,259.3 L464.7,259.3 Z" fill="#222"/><path d="M496.0,245.3 Q496.8,246.9 500.0,247.10000000000002 L502.7,247.5 Q505.7,248.3 506.7,251.3 L506.7,259.3 M516.9,245.3 Q516.1,246.9 512.9,247.10000000000002 L510.7,247.5 Q507.7,248.3 506.7,251.3" fill="none" stroke="#222" stroke-width="0.9"/><path d="M506.1,250.8 L507.3,250.8 L506.9,259.3 L506.5,259.3 Z" fill="#222"/><path d="M537.8,245.3 Q538.6,246.9 541.8,247.10000000000002 L544.5,247.5 Q547.5,248.3 548.5,251.3 L548.5,259.3 M558.7,245.3 Q557.9,246.9 554.7,247.10000000000002 L552.5,247.5 Q549.5,248.3 548.5,251.3" fill="none" stroke="#222" stroke-width="0.9"/><path d="M547.9,250.8 L549.1,250.8 L548.7,259.3 L548.3,259.3 Z" fill="#222"/><path d="M579.6,245.3 Q580.4,246.9 583.6,247.10000000000002 L586.3,247.5 Q589.3,248.3 590.3,251.3 L590.3,259.3 M600.6,245.3 Q599.8,246.9 596.6,247.10000000000002 L594.3,247.5 Q591.3,248.3 590.3,251.3" fill="none" stroke="#222" stroke-width="0.9"/><path d="M589.7,250.8 L590.9,250.8 L590.5,259.3 L590.1,259.3 Z" fill="#222"/><text x="412.4" y="265.3" font-size="16.4" text-anchor="middle" >0</text><text x="454.2" y="265.3" font-size="16.4" text-anchor="middle" >1</text><text x="496.0" y="265.3" font-size="16.4" text-anchor="middle" >2</text><text x="537.8" y="265.3" font-size="16.4" text-anchor="middle" >3</text><text x="579.6" y="265.3" font-size="16.4" text-anchor="middle" >4</text><text x="631.9" y="265.3" font-size="16.4" text-anchor="middle" >5.25</text><rect x="52.3" y="409.5" width="251.7" height="169.5" fill="none" stroke="#787878" stroke-width="1.2"/><line x1="52.3" y1="576.9" x2="54.8" y2="576.9" stroke="#787878" stroke-width="0.8"/><line x1="304.0" y1="576.9" x2="301.5" y2="576.9" stroke="#787878" stroke-width="0.8"/><line x1="52.3" y1="556.3" x2="54.8" y2="556.3" stroke="#787878" stroke-width="0.8"/><line x1="304.0" y1="556.3" x2="301.5" y2="556.3" stroke="#787878" stroke-width="0.8"/><line x1="52.3" y1="535.6" x2="54.8" y2="535.6" stroke="#787878" stroke-width="0.8"/><line x1="304.0" y1="535.6" x2="301.5" y2="535.6" stroke="#787878" stroke-width="0.8"/><line x1="52.3" y1="514.9" x2="54.8" y2="514.9" stroke="#787878" stroke-width="0.8"/><line x1="304.0" y1="514.9" x2="301.5" y2="514.9" stroke="#787878" stroke-width="0.8"/><line x1="52.3" y1="494.2" x2="54.8" y2="494.2" stroke="#787878" stroke-width="0.8"/><line x1="304.0" y1="494.2" x2="301.5" y2="494.2" stroke="#787878" stroke-width="0.8"/><line x1="52.3" y1="473.6" x2="54.8" y2="473.6" stroke="#787878" stroke-width="0.8"/><line x1="304.0" y1="473.6" x2="301.5" y2="473.6" stroke="#787878" stroke-width="0.8"/><line x1="52.3" y1="452.9" x2="54.8" y2="452.9" stroke="#787878" stroke-width="0.8"/><line x1="304.0" y1="452.9" x2="301.5" y2="452.9" stroke="#787878" stroke-width="0.8"/><line x1="52.3" y1="432.2" x2="54.8" y2="432.2" stroke="#787878" stroke-width="0.8"/><line x1="304.0" y1="432.2" x2="301.5" y2="432.2" stroke="#787878" stroke-width="0.8"/><line x1="52.3" y1="411.6" x2="54.8" y2="411.6" stroke="#787878" stroke-width="0.8"/><line x1="304.0" y1="411.6" x2="301.5" y2="411.6" stroke="#787878" stroke-width="0.8"/><text x="44.7" y="416.8" font-size="16.4" text-anchor="end" >45</text><text x="44.7" y="458.1" font-size="16.4" text-anchor="end" >35</text><text x="44.7" y="499.4" font-size="16.4" text-anchor="end" >25</text><text x="44.7" y="540.8" font-size="16.4" text-anchor="end" >15</text><text x="44.7" y="582.1" font-size="16.4" text-anchor="end" >5</text><path d="M73.7,579.0 Q74.5,580.6 77.7,580.8 L80.4,581.2 Q83.4,582.0 84.4,585.0 L84.4,593.0 M94.6,579.0 Q93.8,580.6 90.6,580.8 L88.4,581.2 Q85.4,582.0 84.4,585.0" fill="none" stroke="#222" stroke-width="0.9"/><path d="M83.8,584.5 L85.0,584.5 L84.6,593.0 L84.2,593.0 Z" fill="#222"/><path d="M115.5,579.0 Q116.3,580.6 119.5,580.8 L122.2,581.2 Q125.2,582.0 126.2,585.0 L126.2,593.0 M136.4,579.0 Q135.6,580.6 132.4,580.8 L130.2,581.2 Q127.2,582.0 126.2,585.0" fill="none" stroke="#222" stroke-width="0.9"/><path d="M125.6,584.5 L126.8,584.5 L126.4,593.0 L126.0,593.0 Z" fill="#222"/><path d="M157.3,579.0 Q158.1,580.6 161.3,580.8 L164.0,581.2 Q167.0,582.0 168.0,585.0 L168.0,593.0 M178.2,579.0 Q177.4,580.6 174.2,580.8 L172.0,581.2 Q169.0,582.0 168.0,585.0" fill="none" stroke="#222" stroke-width="0.9"/><path d="M167.4,584.5 L168.6,584.5 L168.2,593.0 L167.8,593.0 Z" fill="#222"/><path d="M199.1,579.0 Q199.9,580.6 203.1,580.8 L205.8,581.2 Q208.8,582.0 209.8,585.0 L209.8,593.0 M220.0,579.0 Q219.2,580.6 216.0,580.8 L213.8,581.2 Q210.8,582.0 209.8,585.0" fill="none" stroke="#222" stroke-width="0.9"/><path d="M209.2,584.5 L210.4,584.5 L210.0,593.0 L209.6,593.0 Z" fill="#222"/><path d="M240.9,579.0 Q241.7,580.6 244.9,580.8 L247.6,581.2 Q250.6,582.0 251.6,585.0 L251.6,593.0 M261.9,579.0 Q261.1,580.6 257.9,580.8 L255.6,581.2 Q252.6,582.0 251.6,585.0" fill="none" stroke="#222" stroke-width="0.9"/><path d="M251.0,584.5 L252.2,584.5 L251.8,593.0 L251.4,593.0 Z" fill="#222"/><text x="73.7" y="599.0" font-size="16.4" text-anchor="middle" >0</text><text x="115.5" y="599.0" font-size="16.4" text-anchor="middle" >1</text><text x="157.3" y="599.0" font-size="16.4" text-anchor="middle" >2</text><text x="199.1" y="599.0" font-size="16.4" text-anchor="middle" >3</text><text x="240.9" y="599.0" font-size="16.4" text-anchor="middle" >4</text><text x="293.2" y="599.0" font-size="16.4" text-anchor="middle" >5.25</text><defs><linearGradient id="rdbu" x1="0" y1="0" x2="0" y2="1"><stop offset="0.00" stop-color="#67001f"/><stop offset="0.10" stop-color="#b2182b"/><stop offset="0.20" stop-color="#d6604d"/><stop offset="0.30" stop-color="#f4a582"/><stop offset="0.40" stop-color="#fddbc7"/><stop offset="0.50" stop-color="#f7f7f7"/><stop offset="0.60" stop-color="#d1e5f0"/><stop offset="0.70" stop-color="#92c5de"/><stop offset="0.80" stop-color="#4393c3"/><stop offset="0.90" stop-color="#2166ac"/><stop offset="1.00" stop-color="#053061"/></linearGradient><linearGradient id="hot" x1="0" y1="1" x2="0" y2="0"><stop offset="0" stop-color="#000"/><stop offset="0.375" stop-color="#f00"/><stop offset="0.75" stop-color="#ff0"/><stop offset="1" stop-color="#fff"/></linearGradient></defs><rect x="305.3" y="76" width="9.6" height="169.3" fill="url(#rdbu)" stroke="#7a7a7a" stroke-width="0.8"/><line x1="312.9" y1="97.2" x2="314.9" y2="97.2" stroke="#333" stroke-width="0.8"/><line x1="312.9" y1="118.3" x2="314.9" y2="118.3" stroke="#333" stroke-width="0.8"/><line x1="312.9" y1="139.5" x2="314.9" y2="139.5" stroke="#333" stroke-width="0.8"/><line x1="312.9" y1="160.7" x2="314.9" y2="160.7" stroke="#333" stroke-width="0.8"/><line x1="312.9" y1="181.8" x2="314.9" y2="181.8" stroke="#333" stroke-width="0.8"/><line x1="312.9" y1="203.0" x2="314.9" y2="203.0" stroke="#333" stroke-width="0.8"/><line x1="312.9" y1="224.1" x2="314.9" y2="224.1" stroke="#333" stroke-width="0.8"/><rect x="644.3" y="76" width="9.6" height="169.3" fill="url(#rdbu)" stroke="#7a7a7a" stroke-width="0.8"/><line x1="651.9" y1="97.2" x2="653.9" y2="97.2" stroke="#333" stroke-width="0.8"/><line x1="651.9" y1="118.3" x2="653.9" y2="118.3" stroke="#333" stroke-width="0.8"/><line x1="651.9" y1="139.5" x2="653.9" y2="139.5" stroke="#333" stroke-width="0.8"/><line x1="651.9" y1="160.7" x2="653.9" y2="160.7" stroke="#333" stroke-width="0.8"/><line x1="651.9" y1="181.8" x2="653.9" y2="181.8" stroke="#333" stroke-width="0.8"/><line x1="651.9" y1="203.0" x2="653.9" y2="203.0" stroke="#333" stroke-width="0.8"/><line x1="651.9" y1="224.1" x2="653.9" y2="224.1" stroke="#333" stroke-width="0.8"/><rect x="306.2" y="409.5" width="9.6" height="169.5" fill="url(#rdbu)" stroke="#7a7a7a" stroke-width="0.8"/><line x1="313.8" y1="437.8" x2="315.8" y2="437.8" stroke="#333" stroke-width="0.8"/><line x1="313.8" y1="466.0" x2="315.8" y2="466.0" stroke="#333" stroke-width="0.8"/><line x1="313.8" y1="494.2" x2="315.8" y2="494.2" stroke="#333" stroke-width="0.8"/><line x1="313.8" y1="522.5" x2="315.8" y2="522.5" stroke="#333" stroke-width="0.8"/><line x1="313.8" y1="550.8" x2="315.8" y2="550.8" stroke="#333" stroke-width="0.8"/><text x="320.5" y="83.8" font-size="16.4" text-anchor="start" >0.4</text><text x="320.5" y="125.5" font-size="16.4" text-anchor="start" >0.2</text><text x="319.2" y="211.7" font-size="16.4" text-anchor="start" >-0.2</text><text x="319.2" y="253.4" font-size="16.4" text-anchor="start" >-0.4</text><text x="326.0" y="125.0" font-size="1" text-anchor="start" ></text><text x="656.7" y="84.7" font-size="16.4" text-anchor="start" >0.4</text><text x="656.7" y="125.4" font-size="16.4" text-anchor="start" >0.2</text><text x="660.4" y="168.3" font-size="16.4" text-anchor="start" >0</text><text x="655.5" y="211.3" font-size="16.4" text-anchor="start" >-0.2</text><text x="655.5" y="252.9" font-size="16.4" text-anchor="start" >-0.4</text><text x="349.5" y="412.7" font-size="16.4" text-anchor="end" >1.5</text><text x="349.5" y="440.6" font-size="16.4" text-anchor="end" >1</text><text x="349.5" y="469.1" font-size="16.4" text-anchor="end" >0.5</text><text x="349.5" y="496.5" font-size="16.4" text-anchor="end" >0</text><text x="349.5" y="525.9" font-size="16.4" text-anchor="end" >-0.5</text><text x="349.5" y="553.3" font-size="16.4" text-anchor="end" >-1</text><text x="349.5" y="580.3" font-size="16.4" text-anchor="end" >-1.5</text><text x="0" y="0" font-size="16" text-anchor="middle" transform="translate(338,160.5) rotate(-90)">Z-score</text><text x="0" y="0" font-size="20.6" text-anchor="middle" textLength="149" lengthAdjust="spacingAndGlyphs" transform="translate(15.8,158.5) rotate(-90)">Frequency (Hz)</text><text x="0" y="0" font-size="20.6" text-anchor="middle" textLength="151" lengthAdjust="spacingAndGlyphs" transform="translate(15.8,491) rotate(-90)">Frequency (Hz)</text><text x="364.5" y="311.0" font-size="20" text-anchor="middle" textLength="63.6" lengthAdjust="spacingAndGlyphs">Time (s)</text><text x="185.8" y="657.8" font-size="20" text-anchor="middle" textLength="63.6" lengthAdjust="spacingAndGlyphs">Time (s)</text><text x="71.9" y="295.4" font-size="17" text-anchor="start" textLength="27.6" lengthAdjust="spacingAndGlyphs">Cue</text><text x="289.4" y="295.4" font-size="17" text-anchor="start" textLength="27.6" lengthAdjust="spacingAndGlyphs">Cue</text><g transform="translate(125.5,289.4) rotate(-52)"><rect x="-17.6" y="-5.0" width="35.2" height="10" fill="#fff" stroke="#111" stroke-width="0.9"/><circle cx="0" cy="0" r="4.4" fill="#ff00ff"/></g><g transform="translate(166.0,289.4) rotate(-52)"><rect x="-17.6" y="-5.0" width="35.2" height="10" fill="#fff" stroke="#111" stroke-width="0.9"/><circle cx="0" cy="0" r="4.4" fill="#ff0000"/></g><g transform="translate(209.2,289.4) rotate(32)"><rect x="-18.8" y="-5.15" width="37.6" height="10.3" fill="#fff" stroke="#111" stroke-width="0.9"/><circle cx="0" cy="0" r="4.4" fill="#0000ff"/></g><g transform="translate(250.1,289.4) rotate(62)"><rect x="-19.0" y="-5.15" width="38" height="10.3" fill="#fff" stroke="#111" stroke-width="0.9"/><circle cx="0" cy="0" r="4.4" fill="#00ff00"/></g><text x="410.6" y="295.4" font-size="17" text-anchor="start" textLength="27.6" lengthAdjust="spacingAndGlyphs">Cue</text><text x="628.1" y="295.4" font-size="17" text-anchor="start" textLength="27.6" lengthAdjust="spacingAndGlyphs">Cue</text><g transform="translate(464.2,289.4) rotate(-52)"><rect x="-17.6" y="-5.0" width="35.2" height="10" fill="#fff" stroke="#111" stroke-width="0.9"/><circle cx="0" cy="0" r="4.4" fill="#ff00ff"/></g><g transform="translate(504.7,289.4) rotate(-52)"><rect x="-17.6" y="-5.0" width="35.2" height="10" fill="#fff" stroke="#111" stroke-width="0.9"/><circle cx="0" cy="0" r="4.4" fill="#ff0000"/></g><g transform="translate(547.9,289.4) rotate(32)"><rect x="-18.8" y="-5.15" width="37.6" height="10.3" fill="#fff" stroke="#111" stroke-width="0.9"/><circle cx="0" cy="0" r="4.4" fill="#0000ff"/></g><g transform="translate(588.8,289.4) rotate(62)"><rect x="-19.0" y="-5.15" width="38" height="10.3" fill="#fff" stroke="#111" stroke-width="0.9"/><circle cx="0" cy="0" r="4.4" fill="#00ff00"/></g><text x="71.9" y="625.5" font-size="17" text-anchor="start" textLength="27.6" lengthAdjust="spacingAndGlyphs">Cue</text><text x="289.4" y="625.5" font-size="17" text-anchor="start" textLength="27.6" lengthAdjust="spacingAndGlyphs">Cue</text><g transform="translate(125.5,619.5) rotate(-52)"><rect x="-17.6" y="-5.0" width="35.2" height="10" fill="#fff" stroke="#111" stroke-width="0.9"/><circle cx="0" cy="0" r="4.4" fill="#ff00ff"/></g><g transform="translate(166.0,619.5) rotate(-52)"><rect x="-17.6" y="-5.0" width="35.2" height="10" fill="#fff" stroke="#111" stroke-width="0.9"/><circle cx="0" cy="0" r="4.4" fill="#ff0000"/></g><g transform="translate(209.2,619.5) rotate(32)"><rect x="-18.8" y="-5.15" width="37.6" height="10.3" fill="#fff" stroke="#111" stroke-width="0.9"/><circle cx="0" cy="0" r="4.4" fill="#0000ff"/></g><g transform="translate(250.1,619.5) rotate(62)"><rect x="-19.0" y="-5.15" width="38" height="10.3" fill="#fff" stroke="#111" stroke-width="0.9"/><circle cx="0" cy="0" r="4.4" fill="#00ff00"/></g><polygon points="78.3,77.0 80.8,77.0 81.6,80.5 82.6,80.5 83.3,77.0 86.0,77.0 86.8,79.5 87.6,77.0 93.6,77.0 94.4,86.3 95.8,84.5 96.9,86.3 97.4,91.6 95.9,94.6 95.9,112.7 97.4,117.2 98.9,123.2 100.4,132.2 101.1,142.8 101.1,154.0 97.4,154.0 96.6,160.9 94.4,166.9 81.6,167.2 80.0,162.4 79.3,150.3 77.8,136.8 76.3,120.2 75.2,108.1 74.8,94.6 75.5,87.1 77.8,84.0" fill="none" stroke="#111" stroke-width="1.1" stroke-linejoin="round"/><polygon points="91.2,100.0 92.6,101.0 93.0,108.0 92.6,116.0 91.2,116.5 90.5,110.0 90.6,103.0" fill="none" stroke="#111" stroke-width="1.1" stroke-linejoin="round"/><polygon points="216.8,225.7 215.8,212.0 213.8,204.1 212.8,184.5 212.5,162.9 215.8,162.0 217.7,155.1 218.7,157.1 220.7,162.9 223.6,166.9 229.5,166.9 229.5,141.4 232.5,137.5 233.4,125.7 235.4,129.6 236.4,139.4 238.3,145.3 240.3,149.2 241.3,131.6 242.3,120.8 246.2,120.8 247.2,131.6 249.1,143.3 251.1,147.3 252.1,168.8 252.1,184.5 248.1,180.6 247.2,168.8 245.2,159.0 234.4,159.0 234.4,192.4 235.4,208.0 230.5,215.9 224.6,223.7 223.6,229.6 221.7,229.6 220.7,225.7" fill="none" stroke="#111" stroke-width="1.1" stroke-linejoin="round"/><polygon points="279.4,104.0 281.0,108.6 284.0,108.6 284.4,122.1 285.5,149.3 286.7,153.8 290.1,155.0 291.2,169.7 294.6,176.4 295.7,184.4 303.6,184.4 304.3,239.8 300.2,239.8 299.1,236.4 294.6,236.4 293.5,239.8 287.8,239.8 286.7,236.4 278.8,236.4 277.6,239.8 268.6,239.8 266.3,236.4 264.0,233.0 262.9,217.2 264.0,210.4 268.6,205.9 269.7,185.5 272.0,181.0 272.0,171.9 268.6,165.1 268.6,159.5 270.8,156.1 273.1,153.8 275.4,150.4 276.5,162.9 277.6,178.7 278.8,178.7 279.9,162.9 279.9,144.8 278.8,128.9 278.8,108.6" fill="none" stroke="#111" stroke-width="1.1" stroke-linejoin="round"/><polygon points="281.5,139.0 282.8,139.5 283.0,145.0 281.7,145.5" fill="none" stroke="#111" stroke-width="1.1" stroke-linejoin="round"/><polygon points="419.4,77.0 421.0,77.0 422.0,82.0 423.5,82.0 424.0,77.0 432.6,77.0 433.6,85.4 435.5,91.1 436.4,98.7 437.4,112.0 439.3,136.6 440.2,149.9 438.3,153.7 436.4,160.3 435.5,160.5 433.6,166.6 422.2,166.6 420.3,160.3 419.4,153.7 418.4,127.1 417.5,112.0 412.7,108.2 412.7,104.4 414.6,102.5 412.7,98.7 412.7,92.0 414.6,87.3 417.5,83.5" fill="none" stroke="#111" stroke-width="1.1" stroke-linejoin="round"/><polygon points="555.5,225.7 554.5,212.0 552.5,204.1 551.5,184.5 551.2,162.9 554.5,162.0 556.4,155.1 557.4,157.1 559.4,162.9 562.3,166.9 568.2,166.9 568.2,141.4 571.2,137.5 572.1,125.7 574.1,129.6 575.1,139.4 577.0,145.3 579.0,149.2 580.0,131.6 581.0,120.8 584.9,120.8 585.9,131.6 587.8,143.3 589.8,147.3 590.8,168.8 590.8,204.5 586.8,200.6 585.9,168.8 583.9,159.0 573.1,159.0 573.1,192.4 574.1,208.0 569.2,215.9 563.3,223.7 562.3,229.6 560.4,229.6 559.4,225.7" fill="none" stroke="#111" stroke-width="1.1" stroke-linejoin="round"/><polygon points="621.9,86.2 623.4,87.5 624.3,99.9 626.3,114.8 627.6,103.6 629.3,104.9 628.8,124.8 626.3,126.0 626.3,154.6 631.3,174.5 633.8,182.0 642.5,182.0 642.8,239.2 640.0,239.2 639.3,235.5 633.8,235.5 632.6,239.2 628.8,239.2 627.6,231.7 622.6,231.7 621.4,235.5 617.6,235.5 616.4,239.2 607.7,239.2 605.2,231.7 602.7,219.3 604.0,209.4 608.9,206.9 610.2,189.5 608.9,167.1 607.7,159.6 608.9,154.6 612.7,153.4 613.9,149.7 615.1,154.6 616.4,178.3 617.6,178.3 617.6,129.8 618.1,114.8 618.9,104.9 620.1,94.9" fill="none" stroke="#111" stroke-width="1.1" stroke-linejoin="round"/><polygon points="77.7,410.3 78.1,426.1 77.2,447.2 76.6,468.3 77.7,485.2 79.8,497.8 80.8,510.5 81.9,523.1 82.9,533.7 84.4,539.0 85.0,535.8 86.1,523.1 86.1,504.2 87.2,497.8 90.3,494.7 92.4,491.5 95.6,496.8 96.6,491.5 100.9,489.4 101.3,478.8 100.9,468.3 99.8,455.6 98.8,432.4 98.8,416.6 97.7,417.7 96.2,432.4 95.6,449.3 94.5,454.6 92.4,447.2 90.3,436.6 87.2,417.7 85.0,413.4 84.0,410.3" fill="none" stroke="#111" stroke-width="1.1" stroke-linejoin="round"/><polygon points="175.5,420.6 176.7,427.5 180.1,427.5 182.7,416.3 183.6,416.3 184.5,427.5 185.9,443.1 187.1,455.3 188.8,457.0 188.8,477.8 187.1,486.5 187.1,496.0 183.6,496.0 181.9,488.2 177.5,488.2 174.9,479.6 173.2,486.5 170.6,488.2 168.0,496.0 167.1,488.2 165.4,474.4 164.5,464.0 166.3,455.3 167.1,451.0 168.9,451.0 168.9,453.6 174.1,453.6 174.9,443.1" fill="none" stroke="#111" stroke-width="1.1" stroke-linejoin="round"/><polygon points="219.2,420.6 220.9,420.6 221.8,429.3 224.4,429.3 225.2,432.7 228.7,433.6 229.6,439.7 230.4,450.1 231.3,460.5 230.4,470.9 229.6,481.3 227.8,486.5 231.3,502.1 228.7,517.7 227.0,502.1 225.2,491.7 224.4,484.8 221.8,491.7 220.9,498.6 219.2,488.2 215.7,481.3 211.4,474.4 207.0,486.5 206.2,481.3 210.5,467.4 212.2,462.2 211.4,453.6 212.2,444.9 211.4,441.4 213.1,436.2 214.8,432.7 217.4,429.3" fill="none" stroke="#111" stroke-width="1.1" stroke-linejoin="round"/><polygon points="264.4,409.8 267.6,409.8 272.3,424.4 272.8,440.0 271.6,443.0 273.0,450.0 273.0,462.3 277.3,468.0 277.3,475.3 275.2,479.6 272.0,476.0 270.0,478.0 268.0,483.0 266.0,475.0 265.0,460.0 264.4,440.0" fill="none" stroke="#111" stroke-width="1.1" stroke-linejoin="round"/><polygon points="164.5,505.5 165.8,512.1 166.4,521.3 165.8,529.2 164.5,530.5 161.2,529.8 160.5,520.0 162.5,517.3 163.1,510.8" fill="none" stroke="#111" stroke-width="1.1" stroke-linejoin="round"/><polyline points="164.5,530.5 165.1,538.4 163.1,547.6 161.8,560.7 161.2,571.2 159.2,577.8 158.7,579.6 189.4,579.6 188.9,573.8 188.1,560.0 184.2,560.0 182.9,560.7 182.9,573.8 176.3,573.8 173.7,569.9 172.3,560.7 171.0,552.8 169.7,547.6 167.1,546.2 165.1,538.4" fill="none" stroke="#111" stroke-width="1.1" stroke-linejoin="round"/><polyline points="199.9,579.6 201.9,576.5 203.9,573.8 205.8,566.0 207.8,556.8 209.8,556.8 210.4,560.0 213.7,560.7 214.4,564.0 216.4,566.0 218.3,571.2 221.0,577.8 221.6,579.6" fill="none" stroke="#111" stroke-width="1.1" stroke-linejoin="round"/><polygon points="194.7,572.5 199.3,572.5 199.3,579.6 194.7,579.6" fill="#111"/><polyline points="490.5,554.7 488.5,554.8 486.5,554.8 484.5,554.7 483.5,554.6 481.5,554.5 479.5,554.3 477.5,554.1 475.5,553.9 473.5,553.8 472.5,553.7 470.5,553.6 468.5,553.5 466.5,553.4 464.5,553.1 462.6,552.7 461.5,552.4 459.8,551.7 458.5,551.1 457.5,550.4 456.5,549.7 455.2,548.7 454.2,547.7 453.2,546.7 452.4,545.7 451.5,544.6 450.5,543.1 449.6,541.7 449.1,540.7 448.5,539.6 447.7,537.7 447.3,536.7 446.6,534.7 446.4,533.7 446.0,531.7 445.8,529.7 445.8,527.7 446.0,525.7 446.4,523.7 446.7,522.7 447.4,520.7 447.8,519.7 448.5,518.5 449.5,516.9 450.4,515.7 451.2,514.7 452.1,513.7 453.1,512.7 454.3,511.7 455.5,510.8 456.5,510.1 457.5,509.5 458.9,508.7 460.5,507.9 461.5,507.5 463.5,506.9 464.5,506.6 466.5,506.1 468.5,505.7 469.5,505.6 471.5,505.4 473.5,505.3 475.5,505.5 477.3,505.7 478.5,505.9 480.5,506.0 481.5,505.7 483.5,505.2 485.5,504.9 487.5,504.8 489.5,504.9 491.5,505.1 493.5,505.4 494.8,505.7 496.5,506.1 498.5,506.6 499.5,506.9 501.5,507.6 502.5,508.0 504.2,508.7 505.5,509.3 506.5,509.8 508.2,510.7 509.5,511.5 510.5,512.1 511.5,512.8 512.7,513.7 513.9,514.7 515.0,515.7 516.0,516.7 516.9,517.7 517.7,518.7 518.5,519.8 519.5,521.3 520.3,522.7 520.7,523.7 521.5,525.7 521.8,526.7 522.2,528.7 522.3,530.7 522.3,532.7 522.0,534.7 521.5,536.3 521.0,537.7 520.5,538.9 519.5,540.7 518.8,541.7 518.1,542.7 517.2,543.7 516.3,544.7 515.2,545.7 514.0,546.7 512.7,547.7 511.5,548.5 510.5,549.1 509.4,549.7 507.5,550.7 506.5,551.1 505.1,551.7 503.5,552.3 502.2,552.7 500.5,553.2 498.5,553.7 497.5,553.9 495.5,554.2 493.5,554.5 491.5,554.7 490.5,554.7" fill="none" stroke="#000" stroke-width="0.5" stroke-dasharray="2.5,0.8" opacity="0.65"/><polyline points="493.5,551.7 491.5,551.9 489.5,552.1 487.5,552.1 485.5,552.0 483.5,551.9 481.5,551.7 480.5,551.6 478.5,551.4 476.5,551.1 474.5,551.0 472.5,550.8 471.2,550.7 469.5,550.6 467.5,550.3 465.5,550.0 464.5,549.7 462.5,549.0 461.5,548.6 459.8,547.7 458.5,546.8 457.5,546.0 456.5,545.0 455.5,543.9 454.6,542.7 453.9,541.7 453.4,540.7 452.5,538.9 452.1,537.7 451.5,535.8 451.3,534.7 451.0,532.7 450.9,530.7 451.1,528.7 451.4,526.7 451.6,525.7 452.2,523.7 452.7,522.7 453.5,521.0 454.3,519.7 455.1,518.7 455.9,517.7 456.9,516.7 458.1,515.7 459.5,514.8 460.5,514.3 462.0,513.7 463.5,513.3 465.5,513.1 467.5,513.1 469.5,513.6 470.5,513.9 471.9,514.7 473.3,515.7 474.4,516.7 475.5,517.7 476.5,518.6 477.5,519.4 478.5,519.9 480.5,520.0 481.5,519.5 482.5,518.7 483.5,517.7 484.5,516.5 485.5,515.5 486.5,514.6 488.2,513.7 489.5,513.3 491.5,513.1 493.5,513.2 495.5,513.4 497.4,513.7 498.5,513.9 500.5,514.4 501.6,514.7 503.5,515.3 504.5,515.7 506.5,516.6 507.5,517.2 508.5,517.7 509.9,518.7 511.3,519.7 512.4,520.7 513.4,521.7 514.2,522.7 515.0,523.7 515.6,524.7 516.5,526.5 516.9,527.7 517.4,529.7 517.6,530.7 517.6,532.7 517.5,533.8 517.1,535.7 516.5,537.4 515.9,538.7 515.3,539.7 514.5,540.9 513.5,542.2 512.5,543.3 511.5,544.2 510.5,545.0 509.5,545.8 508.2,546.7 506.5,547.7 505.5,548.2 504.4,548.7 502.5,549.5 501.5,549.9 499.5,550.5 498.5,550.8 496.5,551.2 494.5,551.6 493.5,551.7" fill="none" stroke="#000" stroke-width="0.5" stroke-dasharray="2.5,0.8" opacity="0.65"/><polyline points="494.5,548.7 492.5,549.0 490.5,549.2 488.5,549.2 486.5,549.2 484.5,549.1 482.5,548.9 481.2,548.7 479.5,548.5 477.5,548.3 475.5,548.1 473.5,548.0 471.5,547.9 469.5,547.7 468.5,547.6 466.5,547.2 464.7,546.7 463.5,546.2 462.5,545.7 460.9,544.7 459.7,543.7 458.7,542.7 457.9,541.7 457.2,540.7 456.5,539.4 455.8,537.7 455.5,536.7 455.1,534.7 454.9,532.7 455.0,530.7 455.4,528.7 455.7,527.7 456.5,525.7 457.0,524.7 457.6,523.7 458.5,522.6 459.5,521.6 460.7,520.7 462.5,519.8 463.5,519.4 465.5,519.0 467.5,518.9 469.5,519.1 471.5,519.6 472.5,520.0 473.8,520.7 475.2,521.7 476.5,522.6 477.5,523.2 478.9,523.7 480.5,523.8 481.5,523.5 482.9,522.7 484.0,521.7 485.1,520.7 486.2,519.7 487.5,518.8 488.5,518.3 490.5,517.9 492.5,517.8 494.5,518.0 496.5,518.3 498.5,518.7 499.5,519.0 501.5,519.6 502.5,520.0 504.1,520.7 505.5,521.5 506.5,522.1 507.5,522.8 508.7,523.7 509.7,524.7 510.6,525.7 511.5,527.0 512.3,528.7 512.7,529.7 513.1,531.7 513.1,533.7 512.8,535.7 512.4,536.7 511.5,538.7 510.8,539.7 510.0,540.7 509.1,541.7 508.1,542.7 506.8,543.7 505.5,544.6 504.5,545.2 503.5,545.8 501.5,546.7 500.5,547.1 498.8,547.7 497.5,548.1 495.5,548.5 494.5,548.7" fill="none" stroke="#000" stroke-width="0.5" stroke-dasharray="2.5,0.8" opacity="0.65"/><polyline points="495.5,543.8 493.5,544.2 491.5,544.5 489.5,544.6 487.5,544.5 485.5,544.4 483.5,544.2 481.5,544.0 479.5,544.0 477.5,544.0 475.5,544.2 473.5,544.4 471.5,544.5 469.5,544.4 467.5,544.1 466.2,543.7 464.5,542.9 463.5,542.2 462.5,541.4 461.5,540.3 460.5,538.8 460.0,537.7 459.5,536.3 459.2,534.7 459.2,532.7 459.5,530.7 459.8,529.7 460.5,528.1 461.5,526.7 462.4,525.7 463.5,524.9 464.5,524.3 466.0,523.7 467.5,523.4 469.5,523.3 471.5,523.7 472.5,524.1 473.7,524.7 475.2,525.7 476.5,526.7 477.5,527.4 478.5,527.9 480.5,528.5 482.5,528.2 483.5,527.7 484.8,526.7 486.0,525.7 487.2,524.7 488.5,523.8 489.5,523.4 491.5,523.1 493.5,523.2 495.5,523.5 496.5,523.7 498.5,524.4 499.5,524.8 501.3,525.7 502.5,526.5 503.5,527.3 504.5,528.3 505.5,529.7 506.0,530.7 506.5,532.7 506.5,533.7 506.4,534.7 505.8,536.7 505.2,537.7 504.4,538.7 503.5,539.7 502.3,540.7 500.8,541.7 499.5,542.4 498.5,542.8 496.5,543.5 495.5,543.8" fill="none" stroke="#000" stroke-width="0.5" stroke-dasharray="2.5,0.8" opacity="0.65"/><polyline points="473.5,540.9 471.5,541.4 469.5,541.5 467.5,541.0 466.5,540.6 465.3,539.7 464.3,538.7 463.5,537.2 463.0,535.7 462.8,533.7 463.0,531.7 463.5,530.4 464.5,528.8 465.5,527.9 466.5,527.2 468.0,526.7 469.5,526.6 470.6,526.7 472.5,527.4 473.5,528.1 474.5,529.0 475.5,530.1 476.5,531.4 477.3,532.7 477.7,533.7 477.9,535.7 477.5,537.4 476.7,538.7 475.6,539.7 474.5,540.4 473.5,540.9" fill="none" stroke="#000" stroke-width="0.5" stroke-dasharray="2.5,0.8" opacity="0.65"/><polyline points="492.5,537.8 491.0,537.7 489.5,537.4 488.0,536.7 486.8,535.7 486.1,534.7 485.9,532.7 486.5,531.3 487.5,530.1 488.5,529.3 489.7,528.7 491.5,528.3 493.5,528.5 494.5,528.7 496.4,529.7 497.4,530.7 498.0,531.7 498.2,533.7 497.5,535.2 496.5,536.3 495.5,536.9 493.5,537.6 492.5,537.8" fill="none" stroke="#000" stroke-width="0.5" stroke-dasharray="2.5,0.8" opacity="0.65"/><ellipse cx="484.8" cy="504.0" rx="66.3" ry="62.3" fill="none" stroke="#111" stroke-width="0.8"/><polyline points="472.3,442.6 484,432.4 496.1,442.6" fill="none" stroke="#111" stroke-width="1.1"/><path d="M418.2,495.2 C417,493.3 413,492.8 411.6,495.5 C410.8,498 412.2,501 411.8,504 C411.3,508 410,512 410.8,515.5 C411.8,519.5 415.5,521 418.4,518.3 Z" fill="#fff" stroke="#111" stroke-width="1.1"/><path d="M551.4,495.2 C552.6,493.3 556.6,492.8 558,495.5 C558.8,498 557.4,501 557.8,504 C558.3,508 559.6,512 558.8,515.5 C557.8,519.5 554.1,521 551.2,518.3 Z" fill="#fff" stroke="#111" stroke-width="1.1"/><rect x="581.5" y="422" width="14" height="132.6" fill="url(#hot)" stroke="#333" stroke-width="0.4"/><line x1="593.5" y1="438.6" x2="595.5" y2="438.6" stroke="#333" stroke-width="0.7"/><line x1="593.5" y1="455.1" x2="595.5" y2="455.1" stroke="#333" stroke-width="0.7"/><line x1="593.5" y1="471.7" x2="595.5" y2="471.7" stroke="#333" stroke-width="0.7"/><line x1="593.5" y1="488.3" x2="595.5" y2="488.3" stroke="#333" stroke-width="0.7"/><line x1="593.5" y1="504.9" x2="595.5" y2="504.9" stroke="#333" stroke-width="0.7"/><line x1="593.5" y1="521.5" x2="595.5" y2="521.5" stroke="#333" stroke-width="0.7"/><line x1="593.5" y1="538.0" x2="595.5" y2="538.0" stroke="#333" stroke-width="0.7"/><text x="600.2" y="430.6" font-size="16.4">8</text><text x="600.2" y="557.6" font-size="16.4">0</text><text x="0" y="0" font-size="16.3" text-anchor="middle" transform="translate(618.6,487.5) rotate(-90)">Z-score</text></svg></div></body></html>
